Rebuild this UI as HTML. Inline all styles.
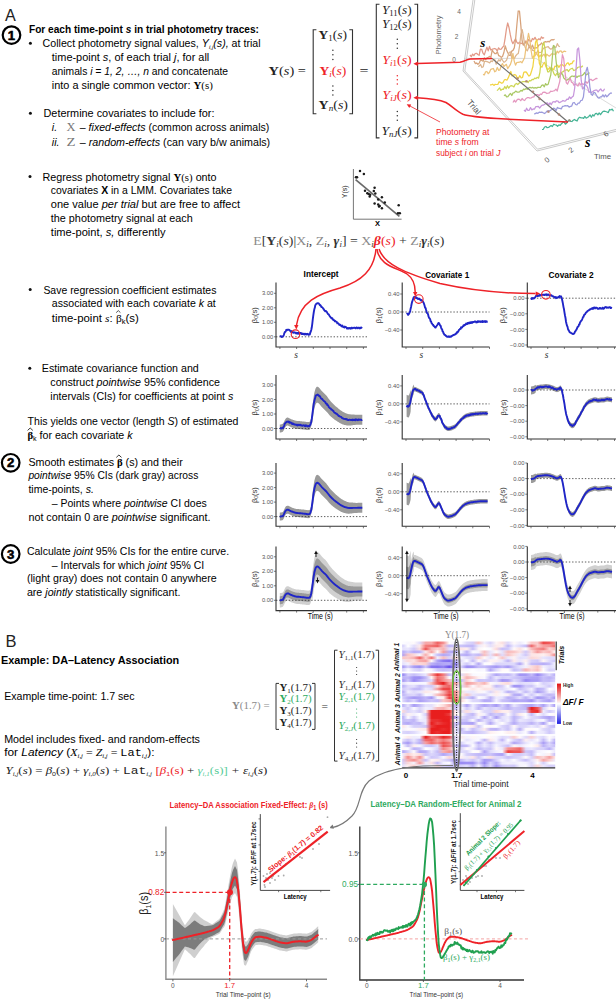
<!DOCTYPE html>
<html><head><meta charset="utf-8"><title>Figure</title>
<style>html,body{margin:0;padding:0;background:#fff;width:616px;height:999px;overflow:hidden}svg{display:block}</style>
</head><body>
<svg width="616" height="999" viewBox="0 0 616 999" font-family="Liberation Sans, sans-serif">
<rect width="616" height="999" fill="#fff"/>
<text x="5.0" y="20.6" font-size="16.2" fill="#222" >A</text>
<circle cx="11.5" cy="35.1" r="8.8" fill="none" stroke="#000" stroke-width="2.2"/>
<text x="11.5" y="39.7" font-size="13.2" font-weight="bold" fill="#000" text-anchor="middle" stroke="#000" stroke-width="0.55">1</text>
<text x="29.0" y="33.4" font-size="10" textLength="230.0" lengthAdjust="spacingAndGlyphs" font-weight="bold" >For each time-point <tspan font-style="italic">s</tspan> in trial photometry traces:</text>
<circle cx="30.4" cy="43.3" r="1.5" fill="#111"/>
<text x="42.6" y="47.2" font-size="10.6" textLength="218.0" lengthAdjust="spacingAndGlyphs" >Collect photometry signal values, <tspan font-style="italic">Y<tspan baseline-shift="-2" font-size="6">i,j</tspan>(s),</tspan> at trial</text>
<text x="51.8" y="61.2" font-size="10.6" textLength="157.5" lengthAdjust="spacingAndGlyphs" >time-point <tspan font-style="italic">s</tspan>, of each trial <tspan font-style="italic">j</tspan>, for all</text>
<text x="51.8" y="75.4" font-size="10.6" textLength="176.2" lengthAdjust="spacingAndGlyphs" >animals <tspan font-style="italic">i = 1, 2, …, n</tspan> and concatenate</text>
<text x="51.8" y="89.4" font-size="10.6" textLength="161.0" lengthAdjust="spacingAndGlyphs" >into a single common vector: <tspan font-family="Liberation Serif" font-weight="bold">Y</tspan><tspan font-family="Liberation Serif">(s)</tspan></text>
<circle cx="30.4" cy="113.3" r="1.5" fill="#111"/>
<text x="43.5" y="117.4" font-size="10.6" textLength="171.0" lengthAdjust="spacingAndGlyphs" >Determine covariates  to include for:</text>
<text x="51.8" y="131.4" font-size="10.6" ><tspan font-style="italic">i.</tspan></text>
<text x="66.6" y="131.4" font-size="11.5" textLength="9.0" lengthAdjust="spacingAndGlyphs" fill="#777" ><tspan font-family="Liberation Serif">X</tspan></text>
<text x="79.8" y="131.4" font-size="10.6" textLength="189.5" lengthAdjust="spacingAndGlyphs" >– <tspan font-style="italic">fixed-effects</tspan> (common across animals)</text>
<text x="51.8" y="145.6" font-size="10.6" ><tspan font-style="italic">ii.</tspan></text>
<text x="66.6" y="145.6" font-size="11.5" textLength="9.0" lengthAdjust="spacingAndGlyphs" fill="#777" ><tspan font-family="Liberation Serif">Z</tspan></text>
<text x="79.8" y="145.6" font-size="10.6" textLength="190.4" lengthAdjust="spacingAndGlyphs" >– <tspan font-style="italic">random-effects</tspan> (can vary b/w animals)</text>
<circle cx="30.0" cy="176.5" r="1.5" fill="#111"/>
<text x="42.4" y="180.5" font-size="10.6" textLength="174.2" lengthAdjust="spacingAndGlyphs" >Regress photometry signal <tspan font-family="Liberation Serif" font-weight="bold">Y</tspan><tspan font-family="Liberation Serif">(s)</tspan> onto</text>
<text x="50.8" y="194.2" font-size="10.6" textLength="181.2" lengthAdjust="spacingAndGlyphs" >covariates <tspan font-weight="bold">X</tspan> in a LMM. Covariates take</text>
<text x="50.8" y="208.2" font-size="10.6" textLength="189.2" lengthAdjust="spacingAndGlyphs" >one value <tspan font-style="italic">per trial</tspan>  but are free to affect</text>
<text x="50.8" y="222.3" font-size="10.6" textLength="142.0" lengthAdjust="spacingAndGlyphs" >the photometry signal at each</text>
<text x="50.8" y="236.0" font-size="10.6" textLength="114.7" lengthAdjust="spacingAndGlyphs" >time-point, <tspan font-style="italic">s,</tspan> differently</text>
<circle cx="30.2" cy="289.5" r="1.5" fill="#111"/>
<text x="43.4" y="293.6" font-size="10.6" textLength="173.0" lengthAdjust="spacingAndGlyphs" >Save regression coefficient estimates</text>
<text x="51.8" y="307.0" font-size="10.6" textLength="164.0" lengthAdjust="spacingAndGlyphs" >associated with each covariate <tspan font-style="italic">k</tspan> at</text>
<text x="51.8" y="321.5" font-size="10.6" textLength="87.0" lengthAdjust="spacingAndGlyphs" >time-point <tspan font-family="Liberation Serif" font-style="italic">s</tspan>: <tspan font-family="Liberation Serif">β</tspan><tspan baseline-shift="-2" font-size="7">k</tspan>(s)</text>
<path d="M116.2,312.6 L118.3,310.6 L120.4,312.6" fill="none" stroke="#222" stroke-width="0.8"/>
<circle cx="29.8" cy="368.3" r="1.5" fill="#111"/>
<text x="41.8" y="372.3" font-size="10.6" textLength="157.0" lengthAdjust="spacingAndGlyphs" >Estimate covariance function and</text>
<text x="50.3" y="386.1" font-size="10.6" textLength="169.7" lengthAdjust="spacingAndGlyphs" >construct <tspan font-style="italic">pointwise</tspan> 95% confidence</text>
<text x="50.3" y="399.9" font-size="10.6" textLength="183.0" lengthAdjust="spacingAndGlyphs" >intervals (CIs) for coefficients at point <tspan font-style="italic">s</tspan></text>
<text x="27.6" y="424.7" font-size="10.6" textLength="210.8" lengthAdjust="spacingAndGlyphs" >This yields one vector (length <tspan font-style="italic">S</tspan>) of estimated</text>
<text x="27.4" y="439.0" font-size="10.6" textLength="105.2" lengthAdjust="spacingAndGlyphs" ><tspan font-family="Liberation Serif" font-weight="bold">β</tspan><tspan baseline-shift="-2" font-size="7">k</tspan> for each covariate <tspan font-style="italic">k</tspan></text>
<path d="M27.6,430.4 L30.2,428.0 L32.8,430.4" fill="none" stroke="#222" stroke-width="0.9"/>
<circle cx="10.7" cy="462.8" r="8.8" fill="none" stroke="#000" stroke-width="2.2"/>
<text x="10.7" y="467.4" font-size="13.2" font-weight="bold" fill="#000" text-anchor="middle" stroke="#000" stroke-width="0.55">2</text>
<text x="28.4" y="465.8" font-size="10.6" textLength="154.3" lengthAdjust="spacingAndGlyphs" >Smooth estimates <tspan font-family="Liberation Serif" font-weight="bold">β</tspan> (s) and their</text>
<path d="M116.3,457.4 L118.9,455.0 L121.5,457.4" fill="none" stroke="#222" stroke-width="0.9"/>
<text x="28.4" y="479.0" font-size="10.6" textLength="169.9" lengthAdjust="spacingAndGlyphs" ><tspan font-style="italic">pointwise</tspan> 95% CIs (dark gray) across</text>
<text x="28.4" y="492.6" font-size="10.6" textLength="65.5" lengthAdjust="spacingAndGlyphs" >time-points, <tspan font-style="italic">s.</tspan></text>
<text x="51.8" y="506.8" font-size="10.6" textLength="154.9" lengthAdjust="spacingAndGlyphs" >– Points where <tspan font-style="italic">pointwise</tspan> CI does</text>
<text x="28.4" y="520.9" font-size="10.6" textLength="182.2" lengthAdjust="spacingAndGlyphs" >not contain 0 are <tspan font-style="italic">pointwise</tspan> significant.</text>
<circle cx="10.7" cy="554.0" r="8.8" fill="none" stroke="#000" stroke-width="2.2"/>
<text x="10.7" y="558.6" font-size="13.2" font-weight="bold" fill="#000" text-anchor="middle" stroke="#000" stroke-width="0.55">3</text>
<text x="26.9" y="555.0" font-size="10.6" textLength="202.2" lengthAdjust="spacingAndGlyphs" >Calculate <tspan font-style="italic">joint</tspan> 95% CIs for the entire curve.</text>
<text x="51.8" y="568.6" font-size="10.6" textLength="152.4" lengthAdjust="spacingAndGlyphs" >– Intervals for which <tspan font-style="italic">joint</tspan> 95% CI</text>
<text x="26.9" y="582.3" font-size="10.6" textLength="189.9" lengthAdjust="spacingAndGlyphs" >(light gray) does not contain 0 anywhere</text>
<text x="26.9" y="596.0" font-size="10.6" textLength="153.5" lengthAdjust="spacingAndGlyphs" >are <tspan font-style="italic">jointly</tspan> statistically significant.</text>
<text x="5.6" y="646.8" font-size="16.5" fill="#222" >B</text>
<text x="1.0" y="663.6" font-size="10.5" textLength="178.2" lengthAdjust="spacingAndGlyphs" font-weight="bold" >Example: DA–Latency Association</text>
<text x="4.2" y="699.8" font-size="10.6" textLength="130.3" lengthAdjust="spacingAndGlyphs" >Example time-point: 1.7 sec</text>
<text x="4.2" y="742.5" font-size="10.6" textLength="195.8" lengthAdjust="spacingAndGlyphs" >Model includes fixed- and random-effects</text>
<text x="4.2" y="756.1" font-size="10.6" textLength="150.3" lengthAdjust="spacingAndGlyphs" >for <tspan font-style="italic">Latency</tspan> (<tspan font-family="Liberation Serif" font-style="italic">X</tspan><tspan baseline-shift="-2" font-size="6"><tspan font-family="Liberation Serif" font-style="italic">i,j</tspan></tspan><tspan font-family="Liberation Serif"> = </tspan><tspan font-family="Liberation Serif" font-style="italic">Z</tspan><tspan baseline-shift="-2" font-size="6"><tspan font-family="Liberation Serif" font-style="italic">i,j</tspan></tspan><tspan font-family="Liberation Serif"> = </tspan><tspan font-family="Liberation Mono">Lat</tspan><tspan baseline-shift="-2" font-size="6"><tspan font-family="Liberation Serif" font-style="italic">i,j</tspan></tspan>):</text>
<text x="5.5" y="773.6" font-size="11" textLength="261.8" lengthAdjust="spacingAndGlyphs" fill="#222" ><tspan font-family="Liberation Serif" font-style="italic">Y</tspan><tspan baseline-shift="-2" font-size="6"><tspan font-family="Liberation Serif" font-style="italic">i,j</tspan></tspan><tspan font-family="Liberation Serif">(</tspan><tspan font-family="Liberation Serif" font-style="italic">s</tspan><tspan font-family="Liberation Serif">) = </tspan><tspan font-family="Liberation Serif" font-style="italic">β</tspan><tspan baseline-shift="-2" font-size="6">0</tspan><tspan font-family="Liberation Serif">(</tspan><tspan font-family="Liberation Serif" font-style="italic">s</tspan><tspan font-family="Liberation Serif">) + </tspan><tspan font-family="Liberation Serif" font-style="italic">γ</tspan><tspan baseline-shift="-2" font-size="6"><tspan font-family="Liberation Serif" font-style="italic">i,0</tspan></tspan><tspan font-family="Liberation Serif">(</tspan><tspan font-family="Liberation Serif" font-style="italic">s</tspan><tspan font-family="Liberation Serif">) + </tspan><tspan font-family="Liberation Mono">Lat</tspan><tspan baseline-shift="-2" font-size="6"><tspan font-family="Liberation Serif" font-style="italic">i,j</tspan></tspan> <tspan font-family="Liberation Serif" fill="#ee2228">[</tspan><tspan font-family="Liberation Serif" font-style="italic" fill="#ee2228">β</tspan><tspan fill="#ee2228"><tspan baseline-shift="-2" font-size="6">1</tspan></tspan><tspan font-family="Liberation Serif" fill="#ee2228">(s)</tspan><tspan font-family="Liberation Serif"> + </tspan><tspan font-family="Liberation Serif" font-style="italic" fill="#5c9">γ</tspan><tspan fill="#5c9"><tspan baseline-shift="-2" font-size="6"><tspan font-family="Liberation Serif" font-style="italic">i,1</tspan></tspan></tspan><tspan font-family="Liberation Serif" fill="#5c9">(s)</tspan><tspan font-family="Liberation Serif" fill="#5c9">]</tspan><tspan font-family="Liberation Serif" font-style="italic"> + ε</tspan><tspan baseline-shift="-2" font-size="6"><tspan font-family="Liberation Serif" font-style="italic">i,j</tspan></tspan><tspan font-family="Liberation Serif">(</tspan><tspan font-family="Liberation Serif" font-style="italic">s</tspan><tspan font-family="Liberation Serif">)</tspan></text>
<text x="268.6" y="75.4" font-size="11.5" textLength="37.4" lengthAdjust="spacingAndGlyphs" fill="#222" font-family="Liberation Serif" ><tspan font-weight="bold">Y</tspan>(<tspan font-style="italic">s</tspan>) =</text>
<path d="M316.4,29.8 H313.2 V113.8 H316.4" fill="none" stroke="#333" stroke-width="1.1"/>
<path d="M349.3,29.8 H352.5 V113.8 H349.3" fill="none" stroke="#333" stroke-width="1.1"/>
<text x="318.6" y="39.3" font-size="11.5" textLength="28.5" lengthAdjust="spacingAndGlyphs" fill="#222" font-family="Liberation Serif" ><tspan font-weight="bold">Y</tspan><tspan baseline-shift="-2" font-size="7.5">1</tspan>(<tspan font-style="italic">s</tspan>)</text>
<circle cx="332.9" cy="50.3" r="0.75" fill="#333"/>
<circle cx="332.9" cy="54.8" r="0.75" fill="#333"/>
<circle cx="332.9" cy="59.4" r="0.75" fill="#333"/>
<text x="319.5" y="75.4" font-size="11.5" textLength="26.8" lengthAdjust="spacingAndGlyphs" fill="#ee2228" font-family="Liberation Serif" ><tspan font-weight="bold">Y</tspan><tspan baseline-shift="-2" font-size="7.5"><tspan font-style="italic">i</tspan></tspan>(<tspan font-style="italic">s</tspan>)</text>
<circle cx="332.9" cy="86.0" r="0.75" fill="#333"/>
<circle cx="332.9" cy="90.5" r="0.75" fill="#333"/>
<circle cx="332.9" cy="95.1" r="0.75" fill="#333"/>
<text x="318.6" y="109.3" font-size="11.5" textLength="29.4" lengthAdjust="spacingAndGlyphs" fill="#222" font-family="Liberation Serif" ><tspan font-weight="bold">Y</tspan><tspan baseline-shift="-2" font-size="7.5"><tspan font-style="italic">n</tspan></tspan>(<tspan font-style="italic">s</tspan>)</text>
<text x="359.6" y="75.4" font-size="11.5" textLength="9.0" lengthAdjust="spacingAndGlyphs" fill="#222" font-family="Liberation Serif" >=</text>
<path d="M379.5,4.2 H376.3 V137.9 H379.5" fill="none" stroke="#333" stroke-width="1.1"/>
<path d="M414.40000000000003,4.2 H417.6 V137.9 H414.40000000000003" fill="none" stroke="#333" stroke-width="1.1"/>
<text x="381.9" y="14.0" font-size="11.5" textLength="29.8" lengthAdjust="spacingAndGlyphs" fill="#222" font-family="Liberation Serif" ><tspan font-style="italic">Y</tspan><tspan baseline-shift="-2" font-size="7.5">11</tspan>(<tspan font-style="italic">s</tspan>)</text>
<text x="381.9" y="28.0" font-size="11.5" textLength="29.8" lengthAdjust="spacingAndGlyphs" fill="#222" font-family="Liberation Serif" ><tspan font-style="italic">Y</tspan><tspan baseline-shift="-2" font-size="7.5">12</tspan>(<tspan font-style="italic">s</tspan>)</text>
<circle cx="397.3" cy="39.3" r="0.75" fill="#333"/>
<circle cx="397.3" cy="43.8" r="0.75" fill="#333"/>
<circle cx="397.3" cy="48.2" r="0.75" fill="#333"/>
<text x="382.3" y="64.4" font-size="11.5" textLength="29.4" lengthAdjust="spacingAndGlyphs" fill="#ee2228" font-family="Liberation Serif" ><tspan font-style="italic">Y</tspan><tspan baseline-shift="-2" font-size="7.5"><tspan font-style="italic">i</tspan>1</tspan>(<tspan font-style="italic">s</tspan>)</text>
<circle cx="397.3" cy="75.7" r="0.75" fill="#ee2228"/>
<circle cx="397.3" cy="79.8" r="0.75" fill="#ee2228"/>
<circle cx="397.3" cy="83.9" r="0.75" fill="#ee2228"/>
<text x="382.3" y="99.4" font-size="11.5" textLength="29.4" lengthAdjust="spacingAndGlyphs" fill="#ee2228" font-family="Liberation Serif" ><tspan font-style="italic">Y</tspan><tspan baseline-shift="-2" font-size="7.5"><tspan font-style="italic">iJ</tspan></tspan>(<tspan font-style="italic">s</tspan>)</text>
<circle cx="397.3" cy="111.4" r="0.75" fill="#333"/>
<circle cx="397.3" cy="115.8" r="0.75" fill="#333"/>
<circle cx="397.3" cy="120.3" r="0.75" fill="#333"/>
<text x="381.4" y="135.1" font-size="11.5" textLength="30.3" lengthAdjust="spacingAndGlyphs" fill="#222" font-family="Liberation Serif" ><tspan font-style="italic">Y</tspan><tspan baseline-shift="-2" font-size="7.5"><tspan font-style="italic">nJ</tspan></tspan>(<tspan font-style="italic">s</tspan>)</text>
<path d="M473,0 L463,71 L537.0,151 L617,131" fill="none" stroke="#bbb" stroke-width="0.8"/>
<path d="M474.8,0 L464.8,71 L537.54,149.2 L617,129.2" fill="none" stroke="#bbb" stroke-width="0.8"/>
<path d="M464,58.4 H536 L616,108" fill="none" stroke="#ccc" stroke-width="0.7"/>
<text x="441.2" y="54.4" font-size="7" textLength="39.0" lengthAdjust="spacingAndGlyphs" fill="#666" transform="rotate(-90 441.2 54.4)">Photometry</text>
<text x="459.0" y="14.0" font-size="6.5" fill="#666" text-anchor="middle" >4</text>
<text x="456.5" y="39.0" font-size="6.5" fill="#666" text-anchor="middle" >2</text>
<text x="454.1" y="62.2" font-size="6.5" fill="#666" text-anchor="middle" >0</text>
<text x="480.3" y="47.4" font-size="13" font-weight="bold" font-family="Liberation Serif" ><tspan font-style="italic">s</tspan></text>
<polyline points="470.0,54.9 471.3,56.7 472.6,54.1 473.9,55.6 475.2,53.5 476.5,53.3 477.8,54.5 479.1,55.3 480.4,49.2 481.7,49.3 483.0,53.2 484.3,54.9 485.6,50.9 486.9,47.1 488.2,50.9 489.5,46.4 490.8,50.1 492.1,49.2 493.4,48.9 494.7,48.5 496.0,49.1 497.3,51.1 498.6,47.8 499.9,49.3 501.2,49.2 502.5,47.3 503.8,46.1 505.1,38.3 506.4,29.1 507.7,23.0 509.0,27.5 510.3,34.7 511.6,40.8 512.9,43.7 514.2,41.2 515.5,38.7 516.8,42.2 518.1,43.7 519.4,42.2 520.7,43.6 522.0,43.1 523.3,44.4 524.6,43.4 525.9,40.9 527.2,43.8 528.5,39.4 529.8,40.5 531.1,41.7 532.4,38.5 533.7,39.7 535.0,37.3 536.3,39.9 537.6,40.0 538.9,38.7 540.2,39.8 541.5,36.8 542.8,38.3 544.1,37.4" fill="none" stroke="#e29a88" stroke-width="1.25" stroke-linejoin="round"/>
<polyline points="474.0,60.9 475.3,63.6 476.6,63.0 477.9,64.3 479.2,63.1 480.5,60.2 481.8,60.4 483.1,61.3 484.4,57.9 485.7,59.7 487.0,57.9 488.3,57.3 489.6,56.4 490.9,57.2 492.2,50.1 493.5,52.1 494.8,53.5 496.1,53.5 497.4,51.9 498.7,55.7 500.0,56.2 501.3,57.4 502.6,56.2 503.9,52.5 505.2,45.8 506.5,50.0 507.8,52.7 509.1,55.3 510.4,55.3 511.7,51.1 513.0,50.4 514.3,47.9 515.6,39.3 516.9,24.5 518.2,11.0 519.5,11.2 520.8,25.1 522.1,40.8 523.4,45.2 524.7,43.5 526.0,41.9 527.3,42.3 528.6,45.5 529.9,47.9 531.2,48.3 532.5,45.1 533.8,48.8 535.1,47.8 536.4,47.9 537.7,47.2 539.0,44.9 540.3,44.6 541.6,42.9 542.9,45.0 544.2,42.0 545.5,41.6 546.8,42.0 548.1,41.4 549.4,41.9 550.7,40.2 552.0,39.6 553.3,39.9 554.6,39.3" fill="none" stroke="#d7a27a" stroke-width="1.25" stroke-linejoin="round"/>
<polyline points="478.0,66.3 479.3,66.0 480.6,64.5 481.9,67.5 483.2,66.8 484.5,61.3 485.8,61.4 487.1,61.7 488.4,62.2 489.7,62.9 491.0,60.9 492.3,61.6 493.6,59.5 494.9,59.9 496.2,64.2 497.5,61.9 498.8,59.7 500.1,61.2 501.4,58.4 502.7,60.5 504.0,62.3 505.3,61.4 506.6,60.1 507.9,56.1 509.2,52.5 510.5,51.8 511.8,58.0 513.1,57.6 514.4,58.5 515.7,55.9 517.0,54.3 518.3,53.5 519.6,45.8 520.9,34.1 522.2,29.6 523.5,36.3 524.8,46.2 526.1,49.5 527.4,50.9 528.7,47.3 530.0,45.0 531.3,47.3 532.6,50.4 533.9,50.7 535.2,52.5 536.5,53.4 537.8,50.6 539.1,52.6 540.4,52.5 541.7,52.0 543.0,48.8 544.3,47.8 545.6,47.4 546.9,47.0 548.2,46.6 549.5,48.3 550.8,49.2 552.1,48.6 553.4,46.5 554.7,47.0 556.0,47.4 557.3,43.6 558.6,46.0 559.9,46.8" fill="none" stroke="#dcb58e" stroke-width="1.25" stroke-linejoin="round"/>
<polyline points="483.0,74.4 484.3,74.9 485.6,71.8 486.9,71.5 488.2,73.7 489.5,72.3 490.8,69.3 492.1,68.8 493.4,68.5 494.7,71.8 496.0,70.9 497.3,67.5 498.6,70.3 499.9,69.9 501.2,65.7 502.5,63.6 503.8,66.6 505.1,65.2 506.4,64.4 507.7,68.6 509.0,66.6 510.3,64.7 511.6,60.8 512.9,53.3 514.2,61.1 515.5,65.1 516.8,62.5 518.1,62.3 519.4,62.2 520.7,61.6 522.0,62.8 523.3,60.2 524.6,57.7 525.9,48.3 527.2,41.1 528.5,33.3 529.8,39.7 531.1,50.5 532.4,58.1 533.7,56.2 535.0,55.9 536.3,52.9 537.6,55.2 538.9,57.1 540.2,55.1 541.5,56.9 542.8,55.3 544.1,54.1 545.4,57.6 546.7,54.2 548.0,55.3 549.3,56.2 550.6,55.0 551.9,53.6 553.2,54.1 554.5,54.0 555.8,54.7 557.1,51.1 558.4,52.9 559.7,51.1 561.0,50.9 562.3,52.9 563.6,51.3 564.9,51.2 566.2,51.8" fill="none" stroke="#ecc27a" stroke-width="1.25" stroke-linejoin="round"/>
<polyline points="490.0,84.8 491.3,84.8 492.6,84.2 493.9,85.4 495.2,84.3 496.5,84.5 497.8,84.4 499.1,81.7 500.4,82.4 501.7,83.3 503.0,82.6 504.3,79.9 505.6,79.5 506.9,80.2 508.2,77.9 509.5,74.8 510.8,71.5 512.1,76.0 513.4,75.1 514.7,74.6 516.0,75.2 517.3,78.2 518.6,77.8 519.9,75.7 521.2,77.9 522.5,77.5 523.8,72.3 525.1,71.8 526.4,72.1 527.7,74.4 529.0,76.1 530.3,75.0 531.6,71.0 532.9,66.5 534.2,55.4 535.5,42.4 536.8,39.9 538.1,50.5 539.4,63.6 540.7,66.4 542.0,67.1 543.3,63.6 544.6,62.4 545.9,66.5 547.2,69.3 548.5,69.2 549.8,67.4 551.1,70.2 552.4,69.1 553.7,69.4 555.0,66.1 556.3,66.3 557.6,65.2 558.9,67.3 560.2,65.3 561.5,64.4 562.8,65.1 564.1,66.4 565.4,65.7 566.7,63.5 568.0,62.7 569.3,65.0 570.6,63.5 571.9,63.6 573.2,61.1 574.5,60.7" fill="none" stroke="#f2d442" stroke-width="1.25" stroke-linejoin="round"/>
<polyline points="497.0,90.6 498.3,89.4 499.6,87.8 500.9,90.4 502.2,89.1 503.5,89.3 504.8,86.5 506.1,88.8 507.4,85.7 508.7,88.1 510.0,86.3 511.3,85.6 512.6,86.0 513.9,86.9 515.2,84.3 516.5,83.5 517.8,84.5 519.1,83.1 520.4,82.4 521.7,82.2 523.0,81.5 524.3,81.6 525.6,81.6 526.9,81.3 528.2,82.5 529.5,80.5 530.8,80.9 532.1,79.4 533.4,79.7 534.7,78.2 536.0,78.6 537.3,77.3 538.6,78.2 539.9,72.3 541.2,59.1 542.5,45.4 543.8,42.3 545.1,49.7 546.4,66.0 547.7,71.9 549.0,71.8 550.3,69.3 551.6,67.3 552.9,71.1 554.2,74.2 555.5,75.7 556.8,73.3 558.1,74.6 559.4,73.9 560.7,73.3 562.0,72.1 563.3,71.6 564.6,70.2 565.9,70.1 567.2,69.6 568.5,71.5 569.8,69.5 571.1,68.8 572.4,68.2 573.7,70.5 575.0,70.2 576.3,69.2 577.6,67.5 578.9,67.0 580.2,66.8 581.5,67.0 582.8,65.7" fill="none" stroke="#cdd653" stroke-width="1.25" stroke-linejoin="round"/>
<polyline points="504.0,95.8 505.3,94.8 506.6,96.9 507.9,96.6 509.2,94.8 510.5,93.4 511.8,95.5 513.1,92.9 514.4,92.7 515.7,91.1 517.0,92.1 518.3,92.1 519.6,91.8 520.9,90.4 522.2,91.1 523.5,89.1 524.8,89.6 526.1,88.6 527.4,89.3 528.7,87.8 530.0,87.4 531.3,88.0 532.6,87.4 533.9,88.2 535.2,87.7 536.5,88.1 537.8,87.4 539.1,87.3 540.4,87.5 541.7,85.4 543.0,84.9 544.3,86.8 545.6,83.6 546.9,85.1 548.2,84.2 549.5,79.7 550.8,74.8 552.1,60.3 553.4,45.5 554.7,46.2 556.0,60.2 557.3,71.3 558.6,77.6 559.9,75.5 561.2,73.1 562.5,74.2 563.8,78.1 565.1,79.2 566.4,80.4 567.7,79.4 569.0,79.1 570.3,77.2 571.6,76.2 572.9,76.1 574.2,76.6 575.5,75.4 576.8,77.5 578.1,76.2 579.4,76.1 580.7,75.7 582.0,75.6 583.3,74.6 584.6,72.5 585.9,74.9 587.2,74.4 588.5,73.2 589.8,73.0" fill="none" stroke="#a9c865" stroke-width="1.25" stroke-linejoin="round"/>
<polyline points="513.0,102.5 514.3,100.2 515.6,102.1 516.9,100.1 518.2,99.1 519.5,99.4 520.8,100.7 522.1,98.5 523.4,100.0 524.7,100.5 526.0,98.5 527.3,97.7 528.6,97.7 529.9,98.1 531.2,98.0 532.5,97.1 533.8,96.9 535.1,94.6 536.4,94.5 537.7,94.5 539.0,95.8 540.3,94.0 541.6,94.5 542.9,92.3 544.2,92.1 545.5,92.4 546.8,93.5 548.1,93.2 549.4,92.8 550.7,91.1 552.0,91.5 553.3,91.0 554.6,90.7 555.9,89.1 557.2,91.0 558.5,86.1 559.8,81.3 561.1,68.2 562.4,54.6 563.7,58.5 565.0,72.0 566.3,82.8 567.6,84.1 568.9,81.1 570.2,78.3 571.5,82.3 572.8,82.9 574.1,85.4 575.4,83.9 576.7,84.9 578.0,86.0 579.3,82.8 580.6,84.8 581.9,83.4 583.2,84.4 584.5,83.4 585.8,81.4 587.1,83.3 588.4,81.6 589.7,79.7 591.0,79.3 592.3,80.6 593.6,80.1 594.9,79.2 596.2,78.3 597.5,78.7" fill="none" stroke="#e497bf" stroke-width="1.25" stroke-linejoin="round"/>
<polyline points="524.0,110.0 525.3,111.4 526.6,108.2 527.9,110.4 529.2,110.3 530.5,107.6 531.8,109.9 533.1,108.9 534.4,109.2 535.7,106.7 537.0,106.7 538.3,106.4 539.6,108.1 540.9,106.3 542.2,105.2 543.5,105.1 544.8,104.2 546.1,103.1 547.4,102.9 548.7,105.1 550.0,102.9 551.3,104.7 552.6,102.0 553.9,101.7 555.2,102.2 556.5,100.8 557.8,101.0 559.1,102.7 560.4,102.1 561.7,101.5 563.0,100.5 564.3,101.1 565.6,100.9 566.9,99.2 568.2,99.4 569.5,96.8 570.8,98.7 572.1,97.1 573.4,96.0 574.7,88.0 576.0,69.9 577.3,49.5 578.6,47.9 579.9,60.3 581.2,80.2 582.5,88.9 583.8,87.8 585.1,84.5 586.4,85.3 587.7,87.7 589.0,92.4 590.3,91.9 591.6,92.5 592.9,91.6 594.2,90.5 595.5,90.1 596.8,90.0 598.1,92.0 599.4,90.2 600.7,88.9 602.0,90.9 603.3,90.9 604.6,88.7" fill="none" stroke="#c796dc" stroke-width="1.25" stroke-linejoin="round"/>
<polyline points="534.0,113.8 535.3,113.6 536.6,112.9 537.9,113.4 539.2,112.2 540.5,112.4 541.8,112.1 543.1,112.8 544.4,113.5 545.7,112.7 547.0,111.2 548.3,110.8 549.6,110.9 550.9,110.0 552.2,109.5 553.5,108.2 554.8,108.6 556.1,110.6 557.4,107.4 558.7,108.3 560.0,108.4 561.3,108.9 562.6,106.3 563.9,106.1 565.2,105.7 566.5,105.9 567.8,105.7 569.1,107.1 570.4,106.4 571.7,106.1 573.0,102.8 574.3,102.5 575.6,104.5 576.9,104.8 578.2,103.0 579.5,103.0 580.8,100.5 582.1,100.3 583.4,97.1 584.7,85.3 586.0,71.3 587.3,67.3 588.6,74.5 589.9,87.3 591.2,94.4 592.5,95.3 593.8,92.4 595.1,92.8 596.4,95.2 597.7,97.4 599.0,98.2 600.3,96.9 601.6,96.9 602.9,94.8 604.2,97.0 605.5,94.8 606.8,96.8 608.1,95.5 609.4,94.0 610.7,93.0 612.0,93.1" fill="none" stroke="#9b9adc" stroke-width="1.25" stroke-linejoin="round"/>
<polyline points="542.0,129.5 543.3,129.3 544.6,127.0 545.9,126.5 547.2,127.7 548.5,127.5 549.8,126.5 551.1,125.6 552.4,126.5 553.7,124.2 555.0,124.8 556.3,125.0 557.6,126.3 558.9,124.9 560.2,125.4 561.5,123.7 562.8,122.5 564.1,122.2 565.4,124.2 566.7,123.0 568.0,121.3 569.3,120.0 570.6,121.3 571.9,121.5 573.2,120.3 574.5,119.4 575.8,120.4 577.1,121.0 578.4,118.2 579.7,117.2 581.0,117.9 582.3,117.8 583.6,118.4 584.9,116.4 586.2,118.1 587.5,117.5 588.8,116.4 590.1,115.0 591.4,117.3 592.7,114.7 594.0,116.0 595.3,113.7 596.6,113.3 597.9,114.8 599.2,112.9 600.5,114.7 601.8,112.8 603.1,111.4 604.4,111.2 605.7,111.5 607.0,112.0 608.3,112.6 609.6,109.5 610.9,110.0 612.2,109.1 613.5,111.3" fill="none" stroke="#45b496" stroke-width="1.25" stroke-linejoin="round"/>
<line x1="492" y1="58.4" x2="568" y2="122" stroke="#707070" stroke-width="1.2"/>
<circle cx="517.5" cy="78.6" r="1.3" fill="#b08070" opacity="0.85"/>
<circle cx="526.4" cy="81.2" r="1.3" fill="#b08070" opacity="0.85"/>
<circle cx="533" cy="91.8" r="1.3" fill="#b08070" opacity="0.85"/>
<circle cx="539.6" cy="98.9" r="1.3" fill="#b08070" opacity="0.85"/>
<circle cx="548.4" cy="111.7" r="1.3" fill="#b08070" opacity="0.85"/>
<circle cx="559" cy="114.5" r="1.3" fill="#b08070" opacity="0.85"/>
<circle cx="569.4" cy="120.5" r="1.3" fill="#b08070" opacity="0.85"/>
<text x="474" y="107" font-size="8.6" fill="#555" text-anchor="middle" dy="3" transform="rotate(50 474 107)">Trial</text>
<text x="585.0" y="146.5" font-size="14" font-weight="bold" font-family="Liberation Serif" ><tspan font-style="italic">s</tspan></text>
<text x="594.0" y="159.3" font-size="7" textLength="17.0" lengthAdjust="spacingAndGlyphs" fill="#555" >Time</text>
<text x="547.0" y="162.5" font-size="7.5" fill="#555" text-anchor="middle" transform="rotate(-40 547 160)">0</text>
<text x="571.0" y="152.5" font-size="7.5" fill="#555" text-anchor="middle" transform="rotate(-40 571 150)">2</text>
<text x="606.0" y="136.5" font-size="7.5" fill="#555" text-anchor="middle" transform="rotate(-40 606 134)">6</text>
<path d="M492,58.4 L470,59 C466,59.6 465,61.5 460,62.2 L417,63.6" fill="none" stroke="#ee2228" stroke-width="1.5"/>
<path d="M413.4,63.7 L417.9,61.5 L417.9,65.9 Z" fill="#ee2228"/>
<path d="M568,122 L497,118.6 C480,117.5 468,116 462.9,114.3 C456,111 452,106 446,102.5 C440,100 430,98.5 417,97.8" fill="none" stroke="#ee2228" stroke-width="1.5"/>
<path d="M413.4,97.7 L417.9,95.5 L417.9,99.9 Z" fill="#ee2228"/>
<path d="M440,122 L409,105.5" fill="none" stroke="#ee2228" stroke-width="0.8"/>
<path d="M406.7,104.3 L411.2,104.4 L409.3,107.9 Z" fill="#ee2228"/>
<text x="436.1" y="134.5" font-size="8.6" textLength="53.2" lengthAdjust="spacingAndGlyphs" fill="#ee2228" >Photometry at</text>
<text x="436.1" y="145.3" font-size="8.6" textLength="42.5" lengthAdjust="spacingAndGlyphs" fill="#ee2228" >time <tspan font-style="italic">s</tspan> from</text>
<text x="436.1" y="156.0" font-size="8.6" textLength="64.2" lengthAdjust="spacingAndGlyphs" fill="#ee2228" >subject <tspan font-style="italic">i</tspan> on trial <tspan font-style="italic">J</tspan></text>
<path d="M353.4,169 V219.2 H401.6" fill="none" stroke="#666" stroke-width="0.9"/>
<line x1="355.6" y1="179.7" x2="399.4" y2="216.3" stroke="#6a6a6a" stroke-width="1.7"/>
<circle cx="360" cy="171" r="1.25" fill="#1a1a1a"/>
<circle cx="363.9" cy="173.9" r="1.25" fill="#1a1a1a"/>
<circle cx="356" cy="177.2" r="1.25" fill="#1a1a1a"/>
<circle cx="357" cy="177.2" r="1.25" fill="#1a1a1a"/>
<circle cx="374.6" cy="187.8" r="1.25" fill="#1a1a1a"/>
<circle cx="365" cy="190.7" r="1.25" fill="#1a1a1a"/>
<circle cx="373.8" cy="191" r="1.25" fill="#1a1a1a"/>
<circle cx="367.3" cy="193.3" r="1.25" fill="#1a1a1a"/>
<circle cx="368.7" cy="194" r="1.25" fill="#1a1a1a"/>
<circle cx="370.2" cy="194.8" r="1.25" fill="#1a1a1a"/>
<circle cx="375.3" cy="193.6" r="1.25" fill="#1a1a1a"/>
<circle cx="369.7" cy="196.5" r="1.25" fill="#1a1a1a"/>
<circle cx="378.2" cy="199.5" r="1.25" fill="#1a1a1a"/>
<circle cx="381.9" cy="197.3" r="1.25" fill="#1a1a1a"/>
<circle cx="384.8" cy="202.4" r="1.25" fill="#1a1a1a"/>
<circle cx="374.6" cy="203.5" r="1.25" fill="#1a1a1a"/>
<circle cx="378.2" cy="204.6" r="1.25" fill="#1a1a1a"/>
<circle cx="379.7" cy="206" r="1.25" fill="#1a1a1a"/>
<circle cx="381.9" cy="208.2" r="1.25" fill="#1a1a1a"/>
<circle cx="379" cy="206.5" r="1.25" fill="#1a1a1a"/>
<circle cx="398.7" cy="205.3" r="1.25" fill="#1a1a1a"/>
<circle cx="398" cy="213.3" r="1.25" fill="#1a1a1a"/>
<circle cx="399.8" cy="213.3" r="1.25" fill="#1a1a1a"/>
<text x="350.0" y="194.3" font-size="7" fill="#222" text-anchor="middle" transform="rotate(-90 347.5 194.3)">Y(s)</text>
<text x="377.5" y="226.2" font-size="7.5" font-weight="bold" text-anchor="middle" >X</text>
<text x="253.2" y="244.6" font-size="11.5" textLength="191.1" lengthAdjust="spacingAndGlyphs" fill="#333" font-family="Liberation Serif" ><tspan fill="#8a8a8a">E</tspan>[<tspan font-weight="bold">Y</tspan><tspan baseline-shift="-2" font-size="7.5"><tspan font-style="italic">i</tspan></tspan>(<tspan font-style="italic">s</tspan>)|<tspan fill="#8a8a8a">X</tspan><tspan baseline-shift="-2" font-size="7.5"><tspan font-style="italic">i</tspan></tspan>, <tspan fill="#8a8a8a">Z</tspan><tspan baseline-shift="-2" font-size="7.5"><tspan font-style="italic">i</tspan></tspan>, <tspan font-weight="bold"><tspan font-style="italic">γ</tspan></tspan><tspan baseline-shift="-2" font-size="7.5"><tspan font-style="italic">i</tspan></tspan>] = <tspan fill="#8a8a8a">X</tspan><tspan baseline-shift="-2" font-size="7.5"><tspan font-style="italic">i</tspan></tspan><tspan fill="#ee2228" font-weight="bold" font-style="italic">β</tspan><tspan fill="#ee2228">(<tspan font-style="italic">s</tspan>)</tspan> + <tspan fill="#8a8a8a">Z</tspan><tspan baseline-shift="-2" font-size="7.5"><tspan font-style="italic">i</tspan></tspan><tspan font-weight="bold"><tspan font-style="italic">γ</tspan></tspan><tspan baseline-shift="-2" font-size="7.5"><tspan font-style="italic">i</tspan></tspan>(<tspan font-style="italic">s</tspan>)</text>
<path d="M276.0,282.5 V347.0 H367" fill="none" stroke="#333" stroke-width="1.1"/>
<line x1="279.9" y1="347.0" x2="279.9" y2="349.0" stroke="#444" stroke-width="0.7"/>
<line x1="296.6" y1="347.0" x2="296.6" y2="349.0" stroke="#444" stroke-width="0.7"/>
<line x1="313.3" y1="347.0" x2="313.3" y2="349.0" stroke="#444" stroke-width="0.7"/>
<line x1="330.0" y1="347.0" x2="330.0" y2="349.0" stroke="#444" stroke-width="0.7"/>
<line x1="346.7" y1="347.0" x2="346.7" y2="349.0" stroke="#444" stroke-width="0.7"/>
<line x1="363.4" y1="347.0" x2="363.4" y2="349.0" stroke="#444" stroke-width="0.7"/>
<line x1="274.0" y1="293.3" x2="276.0" y2="293.3" stroke="#444" stroke-width="0.7"/>
<text x="273.2" y="295.4" font-size="5.8" fill="#555" text-anchor="end" >3.00</text>
<line x1="274.0" y1="307.8" x2="276.0" y2="307.8" stroke="#444" stroke-width="0.7"/>
<text x="273.2" y="309.9" font-size="5.8" fill="#555" text-anchor="end" >2.00</text>
<line x1="274.0" y1="322.3" x2="276.0" y2="322.3" stroke="#444" stroke-width="0.7"/>
<text x="273.2" y="324.4" font-size="5.8" fill="#555" text-anchor="end" >1.00</text>
<line x1="274.0" y1="336.8" x2="276.0" y2="336.8" stroke="#444" stroke-width="0.7"/>
<text x="273.2" y="338.9" font-size="5.8" fill="#555" text-anchor="end" >0.00</text>
<line x1="276.0" y1="336.8" x2="367" y2="336.8" stroke="#333" stroke-width="0.8" stroke-dasharray="1.4,1.8"/>
<text x="254.5" y="315.2" font-size="7.5" fill="#333" text-anchor="middle" transform="rotate(-90 254.5 315.2)" dy="2.5">β<tspan font-size="5" dy="1.5">0</tspan><tspan dy="-1.5">(s)</tspan></text>
<polyline points="279.8,336.3 280.3,336.2 280.8,336.1 281.3,336.5 281.8,337.0 282.3,336.9 282.8,336.3 283.3,336.0 283.8,335.1 284.3,333.3 284.8,332.0 285.3,332.0 285.8,331.1 286.3,329.8 286.8,330.3 287.3,329.8 287.8,329.8 288.3,329.8 288.8,329.8 289.3,329.9 289.8,330.5 290.3,330.9 290.8,331.8 291.3,331.0 291.8,332.3 292.3,331.5 292.8,331.9 293.3,332.6 293.8,332.8 294.3,332.5 294.8,332.2 295.3,332.9 295.8,332.9 296.3,333.6 296.8,332.8 297.3,333.0 297.8,333.7 298.3,332.7 298.8,333.2 299.3,333.8 299.8,333.8 300.3,332.9 300.8,333.0 301.3,333.1 301.8,334.1 302.3,333.4 302.8,334.0 303.3,334.3 303.8,333.6 304.3,333.6 304.8,334.5 305.3,334.2 305.8,333.8 306.3,334.4 306.8,334.0 307.3,334.0 307.8,333.8 308.3,334.7 308.8,334.8 309.3,334.4 309.8,334.5 310.3,332.5 310.8,331.5 311.3,329.7 311.8,327.3 312.3,323.6 312.8,319.2 313.3,315.3 313.8,312.0 314.3,309.3 314.8,307.8 315.3,305.1 315.8,304.6 316.3,303.8 316.8,303.5 317.3,303.3 317.8,303.3 318.3,303.2 318.8,303.6 319.3,304.1 319.8,305.2 320.3,305.0 320.8,305.7 321.3,307.0 321.8,307.0 322.3,307.3 322.8,307.8 323.3,308.9 323.8,309.1 324.3,310.3 324.8,310.7 325.3,311.3 325.8,310.9 326.3,311.3 326.8,311.8 327.3,312.9 327.8,313.8 328.3,314.2 328.8,314.6 329.3,315.4 329.8,316.3 330.3,316.9 330.8,317.5 331.3,318.1 331.8,318.4 332.3,318.2 332.8,319.6 333.3,319.4 333.8,320.1 334.3,320.3 334.8,321.2 335.3,320.9 335.8,321.4 336.3,321.8 336.8,322.0 337.3,323.3 337.8,323.3 338.3,323.3 338.8,323.8 339.3,324.9 339.8,324.7 340.3,324.7 340.8,325.7 341.3,325.8 341.8,326.4 342.3,325.6 342.8,326.3 343.3,327.0 343.8,327.2 344.3,327.5 344.8,326.6 345.3,327.1 345.8,327.0 346.3,327.3 346.8,328.4 347.3,328.0 347.8,328.6 348.3,328.0 348.8,328.6 349.3,328.2 349.8,327.9 350.3,328.5 350.8,328.7 351.3,327.7 351.8,328.3 352.3,328.3 352.8,327.8 353.3,328.0 353.8,327.7 354.3,327.8 354.8,327.8 355.3,328.2 355.8,328.3 356.3,327.7 356.8,327.5 357.3,327.8 357.8,328.3 358.3,327.7 358.8,327.8 359.3,327.7 359.8,328.4 360.3,328.1 360.8,327.5 361.3,327.5 361.8,327.8 362.3,328.0" fill="none" stroke="#1f25c8" stroke-width="1.9" stroke-linejoin="round"/>
<path d="M402.2,282.5 V347.0 H489.5" fill="none" stroke="#333" stroke-width="1.1"/>
<line x1="406.0" y1="347.0" x2="406.0" y2="349.0" stroke="#444" stroke-width="0.7"/>
<line x1="422.7" y1="347.0" x2="422.7" y2="349.0" stroke="#444" stroke-width="0.7"/>
<line x1="439.4" y1="347.0" x2="439.4" y2="349.0" stroke="#444" stroke-width="0.7"/>
<line x1="456.1" y1="347.0" x2="456.1" y2="349.0" stroke="#444" stroke-width="0.7"/>
<line x1="472.8" y1="347.0" x2="472.8" y2="349.0" stroke="#444" stroke-width="0.7"/>
<line x1="489.5" y1="347.0" x2="489.5" y2="349.0" stroke="#444" stroke-width="0.7"/>
<line x1="400.2" y1="294.0" x2="402.2" y2="294.0" stroke="#444" stroke-width="0.7"/>
<text x="399.4" y="296.1" font-size="5.8" fill="#555" text-anchor="end" >0.40</text>
<line x1="400.2" y1="312.0" x2="402.2" y2="312.0" stroke="#444" stroke-width="0.7"/>
<text x="399.4" y="314.1" font-size="5.8" fill="#555" text-anchor="end" >0.00</text>
<line x1="400.2" y1="330.0" x2="402.2" y2="330.0" stroke="#444" stroke-width="0.7"/>
<text x="399.4" y="332.1" font-size="5.8" fill="#555" text-anchor="end" >−0.40</text>
<line x1="402.2" y1="312.0" x2="489.5" y2="312.0" stroke="#333" stroke-width="0.8" stroke-dasharray="1.4,1.8"/>
<text x="378.3" y="315.2" font-size="7.5" fill="#333" text-anchor="middle" transform="rotate(-90 378.3 315.2)" dy="2.5">β<tspan font-size="5" dy="1.5">1</tspan><tspan dy="-1.5">(s)</tspan></text>
<polyline points="406.6,314.0 407.1,313.6 407.6,313.9 408.1,314.9 408.6,314.4 409.1,313.6 409.6,312.5 410.1,311.6 410.6,308.7 411.1,306.7 411.6,304.0 412.1,301.8 412.6,300.5 413.1,299.2 413.6,297.5 414.1,297.0 414.6,297.5 415.1,296.9 415.6,296.8 416.1,298.1 416.6,297.8 417.1,298.5 417.6,298.2 418.1,299.1 418.6,298.8 419.1,298.7 419.6,298.8 420.1,299.7 420.6,300.0 421.1,300.6 421.6,299.9 422.1,300.8 422.6,301.1 423.1,302.1 423.6,302.7 424.1,304.1 424.6,305.8 425.1,307.7 425.6,308.1 426.1,310.0 426.6,311.7 427.1,313.2 427.6,313.4 428.1,314.5 428.6,316.7 429.1,317.8 429.6,318.4 430.1,319.0 430.6,321.2 431.1,321.6 431.6,323.2 432.1,323.7 432.6,324.7 433.1,324.6 433.6,326.0 434.1,326.0 434.6,326.8 435.1,327.6 435.6,327.6 436.1,326.6 436.6,326.0 437.1,325.3 437.6,324.5 438.1,323.6 438.6,322.9 439.1,323.2 439.6,324.3 440.1,325.5 440.6,325.7 441.1,327.6 441.6,329.0 442.1,329.3 442.6,331.5 443.1,331.8 443.6,333.4 444.1,334.1 444.6,334.9 445.1,335.0 445.6,335.5 446.1,336.0 446.6,336.2 447.1,336.8 447.6,336.7 448.1,336.8 448.6,336.3 449.1,337.0 449.6,336.7 450.1,336.3 450.6,336.8 451.1,336.7 451.6,336.1 452.1,335.6 452.6,335.7 453.1,335.1 453.6,334.9 454.1,335.0 454.6,334.4 455.1,334.5 455.6,334.2 456.1,333.2 456.6,333.4 457.1,332.1 457.6,332.3 458.1,331.7 458.6,330.8 459.1,329.6 459.6,329.6 460.1,328.8 460.6,328.9 461.1,327.3 461.6,327.7 462.1,327.4 462.6,326.6 463.1,326.3 463.6,325.2 464.1,325.7 464.6,324.8 465.1,325.0 465.6,324.7 466.1,323.6 466.6,324.1 467.1,324.1 467.6,322.9 468.1,323.1 468.6,323.4 469.1,322.6 469.6,323.3 470.1,322.5 470.6,323.0 471.1,322.1 471.6,322.5 472.1,322.9 472.6,322.0 473.1,322.0 473.6,322.2 474.1,321.9 474.6,321.5 475.1,321.6 475.6,321.5 476.1,322.4 476.6,322.0 477.1,322.2 477.6,321.3 478.1,322.0 478.6,321.2 479.1,321.6 479.6,321.7 480.1,321.3 480.6,321.9 481.1,321.5 481.6,321.5 482.1,321.9 482.6,321.0 483.1,322.0 483.6,321.6 484.1,321.3 484.6,321.8 485.1,321.1 485.6,322.0 486.1,321.5 486.6,321.3 487.1,321.7 487.6,321.4" fill="none" stroke="#1f25c8" stroke-width="1.9" stroke-linejoin="round"/>
<path d="M527.3,282.5 V347.0 H616" fill="none" stroke="#333" stroke-width="1.1"/>
<line x1="531.0" y1="347.0" x2="531.0" y2="349.0" stroke="#444" stroke-width="0.7"/>
<line x1="547.7" y1="347.0" x2="547.7" y2="349.0" stroke="#444" stroke-width="0.7"/>
<line x1="564.4" y1="347.0" x2="564.4" y2="349.0" stroke="#444" stroke-width="0.7"/>
<line x1="581.1" y1="347.0" x2="581.1" y2="349.0" stroke="#444" stroke-width="0.7"/>
<line x1="597.8" y1="347.0" x2="597.8" y2="349.0" stroke="#444" stroke-width="0.7"/>
<line x1="614.5" y1="347.0" x2="614.5" y2="349.0" stroke="#444" stroke-width="0.7"/>
<line x1="525.3" y1="298.2" x2="527.3" y2="298.2" stroke="#444" stroke-width="0.7"/>
<text x="524.5" y="300.3" font-size="5.8" fill="#555" text-anchor="end" >0.00</text>
<line x1="525.3" y1="313.8" x2="527.3" y2="313.8" stroke="#444" stroke-width="0.7"/>
<text x="524.5" y="315.9" font-size="5.8" fill="#555" text-anchor="end" >−0.00</text>
<line x1="525.3" y1="329.4" x2="527.3" y2="329.4" stroke="#444" stroke-width="0.7"/>
<text x="524.5" y="331.5" font-size="5.8" fill="#555" text-anchor="end" >−0.00</text>
<line x1="525.3" y1="345.0" x2="527.3" y2="345.0" stroke="#444" stroke-width="0.7"/>
<text x="524.5" y="347.1" font-size="5.8" fill="#555" text-anchor="end" >−0.00</text>
<line x1="527.3" y1="298.2" x2="616" y2="298.2" stroke="#333" stroke-width="0.8" stroke-dasharray="1.4,1.8"/>
<text x="503.0" y="315.2" font-size="7.5" fill="#333" text-anchor="middle" transform="rotate(-90 503.0 315.2)" dy="2.5">β<tspan font-size="5" dy="1.5">2</tspan><tspan dy="-1.5">(s)</tspan></text>
<polyline points="531.0,298.2 531.5,298.9 532.0,298.0 532.5,298.8 533.0,298.1 533.5,298.4 534.0,298.6 534.5,297.8 535.0,297.6 535.5,296.7 536.0,295.9 536.5,295.6 537.0,295.5 537.5,295.9 538.0,295.5 538.5,295.6 539.0,296.0 539.5,295.0 540.0,295.1 540.5,295.5 541.0,294.7 541.5,294.7 542.0,295.0 542.5,294.7 543.0,294.9 543.5,294.7 544.0,295.1 544.5,295.0 545.0,294.5 545.5,294.9 546.0,294.7 546.5,294.3 547.0,295.3 547.5,294.6 548.0,294.5 548.5,294.5 549.0,295.2 549.5,295.6 550.0,295.6 550.5,295.3 551.0,295.3 551.5,295.2 552.0,296.1 552.5,296.2 553.0,296.1 553.5,296.7 554.0,296.7 554.5,297.5 555.0,297.5 555.5,297.1 556.0,298.2 556.5,297.3 557.0,297.9 557.5,297.7 558.0,297.4 558.5,296.9 559.0,297.4 559.5,296.1 560.0,296.3 560.5,296.7 561.0,296.3 561.5,297.3 562.0,299.3 562.5,301.5 563.0,304.1 563.5,307.1 564.0,309.3 564.5,312.6 565.0,315.5 565.5,318.0 566.0,321.7 566.5,323.8 567.0,325.7 567.5,326.6 568.0,329.1 568.5,330.1 569.0,330.8 569.5,332.0 570.0,332.4 570.5,332.6 571.0,332.9 571.5,333.4 572.0,333.4 572.5,333.8 573.0,334.1 573.5,333.8 574.0,333.6 574.5,332.9 575.0,331.6 575.5,331.2 576.0,330.1 576.5,329.6 577.0,328.3 577.5,327.1 578.0,326.7 578.5,326.3 579.0,324.5 579.5,324.5 580.0,322.5 580.5,321.9 581.0,320.9 581.5,320.5 582.0,319.7 582.5,318.5 583.0,317.1 583.5,316.9 584.0,315.3 584.5,314.4 585.0,314.4 585.5,313.3 586.0,312.7 586.5,312.1 587.0,311.9 587.5,310.9 588.0,310.9 588.5,310.4 589.0,310.3 589.5,309.5 590.0,309.6 590.5,309.3 591.0,308.8 591.5,308.5 592.0,308.8 592.5,308.0 593.0,308.9 593.5,307.8 594.0,307.5 594.5,307.5 595.0,308.4 595.5,307.7 596.0,307.6 596.5,307.6 597.0,307.8 597.5,308.7 598.0,308.7 598.5,308.8 599.0,308.8 599.5,307.9 600.0,308.5 600.5,308.1 601.0,308.6 601.5,308.6 602.0,308.7 602.5,307.7 603.0,308.6 603.5,308.7 604.0,308.6 604.5,307.5 605.0,307.5 605.5,307.2 606.0,307.0 606.5,307.8 607.0,307.7 607.5,307.5 608.0,307.8 608.5,307.6 609.0,307.3 609.5,307.1 610.0,307.2 610.5,308.1 611.0,307.6 611.5,307.8 612.0,308.0" fill="none" stroke="#1f25c8" stroke-width="1.9" stroke-linejoin="round"/>
<path d="M279.8,424.4 L280.3,424.4 L280.8,424.4 L281.3,424.3 L281.8,424.2 L282.3,424.1 L282.8,423.8 L283.3,423.1 L283.8,422.3 L284.3,421.2 L284.8,420.1 L285.3,419.2 L285.8,418.5 L286.3,418.0 L286.8,417.8 L287.3,417.6 L287.8,417.6 L288.3,417.7 L288.8,417.9 L289.3,418.2 L289.8,418.5 L290.3,418.7 L290.8,419.0 L291.3,419.2 L291.8,419.4 L292.3,419.6 L292.8,419.8 L293.3,420.0 L293.8,420.1 L294.3,420.3 L294.8,420.5 L295.3,420.6 L295.8,420.7 L296.3,420.8 L296.8,420.9 L297.3,420.9 L297.8,421.0 L298.3,421.0 L298.8,421.0 L299.3,421.1 L299.8,421.1 L300.3,421.2 L300.8,421.2 L301.3,421.3 L301.8,421.3 L302.3,421.4 L302.8,421.4 L303.3,421.5 L303.8,421.5 L304.3,421.6 L304.8,421.7 L305.3,421.7 L305.8,421.8 L306.3,421.9 L306.8,421.9 L307.3,422.0 L307.8,422.1 L308.3,422.1 L308.8,422.0 L309.3,422.0 L309.8,421.6 L310.3,420.8 L310.8,419.5 L311.3,417.4 L311.8,414.4 L312.3,406.7 L312.8,403.0 L313.3,399.3 L313.8,395.8 L314.3,393.0 L314.8,390.9 L315.3,389.2 L315.8,387.9 L316.3,387.2 L316.8,386.8 L317.3,386.7 L317.8,386.8 L318.3,387.1 L318.8,387.5 L319.3,388.0 L319.8,388.5 L320.3,389.2 L320.8,389.8 L321.3,390.4 L321.8,391.0 L322.3,391.5 L322.8,392.0 L323.3,392.5 L323.8,393.0 L324.3,393.5 L324.8,393.9 L325.3,394.4 L325.8,394.9 L326.3,395.5 L326.8,396.1 L327.3,396.8 L327.8,397.5 L328.3,398.2 L328.8,398.9 L329.3,399.6 L329.8,400.2 L330.3,400.8 L330.8,401.4 L331.3,402.0 L331.8,402.5 L332.3,403.0 L332.8,403.5 L333.3,404.0 L333.8,404.5 L334.3,405.0 L334.8,405.5 L335.3,405.9 L335.8,406.4 L336.3,406.8 L336.8,407.2 L337.3,407.6 L337.8,408.1 L338.3,408.5 L338.8,408.9 L339.3,409.3 L339.8,409.7 L340.3,410.1 L340.8,410.5 L341.3,410.8 L341.8,411.1 L342.3,411.4 L342.8,411.7 L343.3,412.0 L343.8,412.3 L344.3,412.5 L344.8,412.8 L345.3,413.0 L345.8,413.2 L346.3,413.4 L346.8,413.6 L347.3,413.8 L347.8,413.9 L348.3,414.1 L348.8,414.2 L349.3,414.3 L349.8,414.3 L350.3,414.3 L350.8,414.4 L351.3,414.4 L351.8,414.4 L352.3,414.5 L352.8,414.5 L353.3,414.6 L353.8,414.6 L354.3,414.6 L354.8,414.7 L355.3,414.7 L355.8,414.8 L356.3,414.8 L356.8,414.8 L357.3,414.8 L357.8,414.7 L358.3,414.7 L358.8,414.7 L359.3,414.7 L359.8,414.7 L360.3,414.7 L360.8,414.7 L361.3,414.7 L361.8,414.7 L362.3,414.7 L362.3,424.7 L361.8,424.7 L361.3,424.7 L360.8,424.7 L360.3,424.7 L359.8,424.7 L359.3,424.7 L358.8,424.7 L358.3,424.7 L357.8,424.7 L357.3,424.8 L356.8,424.8 L356.3,424.8 L355.8,424.8 L355.3,424.9 L354.8,424.9 L354.3,425.0 L353.8,425.0 L353.3,425.1 L352.8,425.2 L352.3,425.2 L351.8,425.3 L351.3,425.4 L350.8,425.4 L350.3,425.5 L349.8,425.5 L349.3,425.6 L348.8,425.6 L348.3,425.6 L347.8,425.6 L347.3,425.5 L346.8,425.4 L346.3,425.3 L345.8,425.2 L345.3,425.1 L344.8,425.0 L344.3,424.9 L343.8,424.7 L343.3,424.6 L342.8,424.4 L342.3,424.2 L341.8,424.0 L341.3,423.8 L340.8,423.5 L340.3,423.3 L339.8,423.0 L339.3,422.7 L338.8,422.3 L338.3,422.0 L337.8,421.7 L337.3,421.4 L336.8,421.1 L336.3,420.7 L335.8,420.4 L335.3,420.1 L334.8,419.7 L334.3,419.4 L333.8,419.0 L333.3,418.6 L332.8,418.2 L332.3,417.7 L331.8,417.3 L331.3,416.9 L330.8,416.5 L330.3,416.0 L329.8,415.5 L329.3,414.9 L328.8,414.3 L328.3,413.7 L327.8,413.1 L327.3,412.5 L326.8,411.9 L326.3,411.4 L325.8,410.9 L325.3,410.4 L324.8,409.9 L324.3,409.5 L323.8,409.0 L323.3,408.5 L322.8,408.0 L322.3,407.5 L321.8,407.0 L321.3,406.4 L320.8,405.8 L320.3,405.2 L319.8,404.5 L319.3,404.0 L318.8,403.5 L318.3,403.1 L317.8,402.8 L317.3,402.7 L316.8,402.8 L316.3,403.2 L315.8,403.9 L315.3,405.2 L314.8,406.9 L314.3,409.0 L313.8,411.8 L313.3,415.3 L312.8,419.0 L312.3,422.7 L311.8,422.4 L311.3,425.4 L310.8,427.5 L310.3,428.8 L309.8,429.6 L309.3,430.0 L308.8,430.0 L308.3,430.1 L307.8,430.1 L307.3,430.0 L306.8,429.9 L306.3,429.9 L305.8,429.8 L305.3,429.7 L304.8,429.7 L304.3,429.6 L303.8,429.5 L303.3,429.5 L302.8,429.4 L302.3,429.4 L301.8,429.3 L301.3,429.3 L300.8,429.2 L300.3,429.2 L299.8,429.1 L299.3,429.1 L298.8,429.0 L298.3,429.0 L297.8,429.0 L297.3,428.9 L296.8,428.9 L296.3,428.8 L295.8,428.7 L295.3,428.6 L294.8,428.5 L294.3,428.3 L293.8,428.1 L293.3,428.0 L292.8,427.8 L292.3,427.6 L291.8,427.4 L291.3,427.2 L290.8,427.0 L290.3,426.7 L289.8,426.5 L289.3,426.2 L288.8,425.9 L288.3,425.7 L287.8,425.6 L287.3,425.6 L286.8,425.8 L286.3,426.0 L285.8,426.5 L285.3,427.2 L284.8,428.1 L284.3,429.2 L283.8,430.3 L283.3,431.1 L282.8,431.8 L282.3,432.1 L281.8,432.2 L281.3,432.3 L280.8,432.4 L280.3,432.4 L279.8,432.4 Z" fill="#9a9a9a" stroke="none"/>
<path d="M276.0,375.0 V439.0 H367" fill="none" stroke="#333" stroke-width="1.1"/>
<line x1="279.9" y1="439.0" x2="279.9" y2="441.0" stroke="#444" stroke-width="0.7"/>
<line x1="296.6" y1="439.0" x2="296.6" y2="441.0" stroke="#444" stroke-width="0.7"/>
<line x1="313.3" y1="439.0" x2="313.3" y2="441.0" stroke="#444" stroke-width="0.7"/>
<line x1="330.0" y1="439.0" x2="330.0" y2="441.0" stroke="#444" stroke-width="0.7"/>
<line x1="346.7" y1="439.0" x2="346.7" y2="441.0" stroke="#444" stroke-width="0.7"/>
<line x1="363.4" y1="439.0" x2="363.4" y2="441.0" stroke="#444" stroke-width="0.7"/>
<line x1="274.0" y1="385.0" x2="276.0" y2="385.0" stroke="#444" stroke-width="0.7"/>
<text x="273.2" y="387.1" font-size="5.8" fill="#555" text-anchor="end" >3.00</text>
<line x1="274.0" y1="399.5" x2="276.0" y2="399.5" stroke="#444" stroke-width="0.7"/>
<text x="273.2" y="401.6" font-size="5.8" fill="#555" text-anchor="end" >2.00</text>
<line x1="274.0" y1="414.0" x2="276.0" y2="414.0" stroke="#444" stroke-width="0.7"/>
<text x="273.2" y="416.1" font-size="5.8" fill="#555" text-anchor="end" >1.00</text>
<line x1="274.0" y1="428.5" x2="276.0" y2="428.5" stroke="#444" stroke-width="0.7"/>
<text x="273.2" y="430.6" font-size="5.8" fill="#555" text-anchor="end" >0.00</text>
<line x1="276.0" y1="428.5" x2="367" y2="428.5" stroke="#333" stroke-width="0.8" stroke-dasharray="1.4,1.8"/>
<text x="254.5" y="407.5" font-size="7.5" fill="#333" text-anchor="middle" transform="rotate(-90 254.5 407.5)" dy="2.5">β<tspan font-size="5" dy="1.5">0</tspan><tspan dy="-1.5">(s)</tspan></text>
<polyline points="279.8,428.0 280.3,428.2 280.8,428.2 281.3,428.5 281.8,428.1 282.3,427.9 282.8,428.2 283.3,427.1 283.8,426.6 284.3,425.3 284.8,423.6 285.3,423.1 285.8,422.4 286.3,422.3 286.8,421.6 287.3,421.8 287.8,421.7 288.3,421.4 288.8,422.3 289.3,421.8 289.8,422.8 290.3,422.4 290.8,422.5 291.3,422.9 291.8,423.7 292.3,424.1 292.8,423.3 293.3,423.9 293.8,424.1 294.3,424.6 294.8,424.2 295.3,424.6 295.8,424.6 296.3,425.1 296.8,424.6 297.3,425.4 297.8,424.7 298.3,424.7 298.8,425.2 299.3,425.1 299.8,424.7 300.3,425.3 300.8,424.8 301.3,425.6 301.8,425.5 302.3,425.7 302.8,425.6 303.3,425.3 303.8,425.4 304.3,425.5 304.8,426.1 305.3,425.3 305.8,426.2 306.3,425.4 306.8,425.6 307.3,425.8 307.8,426.5 308.3,426.1 308.8,425.9 309.3,426.3 309.8,425.4 310.3,424.8 310.8,423.5 311.3,421.7 311.8,418.7 312.3,414.9 312.8,410.9 313.3,407.1 313.8,403.4 314.3,401.3 314.8,399.1 315.3,397.4 315.8,395.6 316.3,395.2 316.8,395.1 317.3,394.8 317.8,394.5 318.3,395.1 318.8,395.9 319.3,395.7 319.8,396.2 320.3,397.0 320.8,398.0 321.3,398.7 321.8,398.6 322.3,399.2 322.8,399.8 323.3,400.3 323.8,401.0 324.3,401.1 324.8,401.8 325.3,402.1 325.8,403.4 326.3,403.7 326.8,403.6 327.3,405.1 327.8,404.9 328.3,405.8 328.8,407.1 329.3,407.5 329.8,408.1 330.3,408.3 330.8,408.6 331.3,409.6 331.8,409.5 332.3,410.1 332.8,410.7 333.3,410.8 333.8,411.7 334.3,412.5 334.8,412.8 335.3,413.0 335.8,413.5 336.3,413.7 336.8,413.8 337.3,414.6 337.8,414.8 338.3,415.5 338.8,416.0 339.3,415.9 339.8,416.4 340.3,416.9 340.8,416.9 341.3,417.0 341.8,417.8 342.3,418.2 342.8,418.3 343.3,418.5 343.8,418.9 344.3,418.9 344.8,419.0 345.3,419.0 345.8,419.0 346.3,419.5 346.8,419.1 347.3,419.6 347.8,420.0 348.3,420.1 348.8,420.0 349.3,419.7 349.8,419.8 350.3,419.9 350.8,420.0 351.3,419.8 351.8,420.0 352.3,420.3 352.8,419.5 353.3,420.0 353.8,420.1 354.3,419.7 354.8,419.8 355.3,420.3 355.8,419.3 356.3,419.8 356.8,419.4 357.3,420.0 357.8,420.2 358.3,419.8 358.8,419.3 359.3,419.8 359.8,419.7 360.3,419.9 360.8,419.7 361.3,419.8 361.8,420.0 362.3,419.7" fill="none" stroke="#1f25c8" stroke-width="1.9" stroke-linejoin="round"/>
<path d="M406.6,394.7 L407.1,395.0 L407.6,395.2 L408.1,395.5 L408.6,395.4 L409.1,394.7 L409.6,393.6 L410.1,391.9 L410.6,389.8 L411.1,393.5 L411.6,391.1 L412.1,388.8 L412.6,386.9 L413.1,385.5 L413.6,384.6 L414.1,386.9 L414.6,386.8 L415.1,386.9 L415.6,387.0 L416.1,387.3 L416.6,387.5 L417.1,387.7 L417.6,388.0 L418.1,388.2 L418.6,388.4 L419.1,388.7 L419.6,388.9 L420.1,389.2 L420.6,389.4 L421.1,389.7 L421.6,389.9 L422.1,390.3 L422.6,390.9 L423.1,391.7 L423.6,392.7 L424.1,394.0 L424.6,395.4 L425.1,396.8 L425.6,398.2 L426.1,399.6 L426.6,400.9 L427.1,402.2 L427.6,403.4 L428.1,404.6 L428.6,405.7 L429.1,406.9 L429.6,408.0 L430.1,409.2 L430.6,410.3 L431.1,411.3 L431.6,412.3 L432.1,413.1 L432.6,413.9 L433.1,414.6 L433.6,415.3 L434.1,416.0 L434.6,416.5 L435.1,416.8 L435.6,416.8 L436.1,416.5 L436.6,415.9 L437.1,415.0 L437.6,414.1 L438.1,413.3 L438.6,413.0 L439.1,413.1 L439.6,413.6 L440.1,414.7 L440.6,415.9 L441.1,417.1 L441.6,418.3 L442.1,419.5 L442.6,420.7 L443.1,421.9 L443.6,422.9 L444.1,423.7 L444.6,424.3 L445.1,424.8 L445.6,425.2 L446.1,425.5 L446.6,425.9 L447.1,426.2 L447.6,426.4 L448.1,426.5 L448.6,426.5 L449.1,426.4 L449.6,426.3 L450.1,426.2 L450.6,426.1 L451.1,425.9 L451.6,425.8 L452.1,425.6 L452.6,425.4 L453.1,425.1 L453.6,424.9 L454.1,424.7 L454.6,424.5 L455.1,424.2 L455.6,423.8 L456.1,423.4 L456.6,422.8 L457.1,422.2 L457.6,421.6 L458.1,421.0 L458.6,420.4 L459.1,419.7 L459.6,419.2 L460.1,418.6 L460.6,418.0 L461.1,417.4 L461.6,416.9 L462.1,416.4 L462.6,415.9 L463.1,415.5 L463.6,415.1 L464.1,414.8 L464.6,414.4 L465.1,414.1 L465.6,413.8 L466.1,413.6 L466.6,413.4 L467.1,413.2 L467.6,413.0 L468.1,412.9 L468.6,412.7 L469.1,412.6 L469.6,412.5 L470.1,412.3 L470.6,412.2 L471.1,412.2 L471.6,412.1 L472.1,412.0 L472.6,412.0 L473.1,411.9 L473.6,411.8 L474.1,411.7 L474.6,411.7 L475.1,411.6 L475.6,411.5 L476.1,411.5 L476.6,411.4 L477.1,411.4 L477.6,411.3 L478.1,411.3 L478.6,411.2 L479.1,411.2 L479.6,411.2 L480.1,411.1 L480.6,411.1 L481.1,411.1 L481.6,411.0 L482.1,411.0 L482.6,411.0 L483.1,411.0 L483.6,411.0 L484.1,411.0 L484.6,411.0 L485.1,411.0 L485.6,411.0 L486.1,411.0 L486.6,411.0 L487.1,411.0 L487.6,411.0 L487.6,415.6 L487.1,415.6 L486.6,415.6 L486.1,415.6 L485.6,415.6 L485.1,415.6 L484.6,415.6 L484.1,415.6 L483.6,415.6 L483.1,415.6 L482.6,415.6 L482.1,415.6 L481.6,415.6 L481.1,415.7 L480.6,415.7 L480.1,415.7 L479.6,415.8 L479.1,415.8 L478.6,415.8 L478.1,415.9 L477.6,415.9 L477.1,416.0 L476.6,416.0 L476.1,416.1 L475.6,416.1 L475.1,416.2 L474.6,416.3 L474.1,416.3 L473.6,416.4 L473.1,416.5 L472.6,416.6 L472.1,416.6 L471.6,416.7 L471.1,416.8 L470.6,416.8 L470.1,416.9 L469.6,417.1 L469.1,417.2 L468.6,417.3 L468.1,417.5 L467.6,417.6 L467.1,417.8 L466.6,418.0 L466.1,418.2 L465.6,418.4 L465.1,418.7 L464.6,419.0 L464.1,419.4 L463.6,419.7 L463.1,420.1 L462.6,420.5 L462.1,421.0 L461.6,421.5 L461.1,422.0 L460.6,422.6 L460.1,423.2 L459.6,423.8 L459.1,424.3 L458.6,425.0 L458.1,425.6 L457.6,426.2 L457.1,426.8 L456.6,427.4 L456.1,428.0 L455.6,428.4 L455.1,428.8 L454.6,429.1 L454.1,429.3 L453.6,429.5 L453.1,429.7 L452.6,430.0 L452.1,430.2 L451.6,430.4 L451.1,430.5 L450.6,430.7 L450.1,430.8 L449.6,430.9 L449.1,431.0 L448.6,431.1 L448.1,431.1 L447.6,431.0 L447.1,430.8 L446.6,430.5 L446.1,430.1 L445.6,429.8 L445.1,429.4 L444.6,428.9 L444.1,428.3 L443.6,427.5 L443.1,426.5 L442.6,425.3 L442.1,424.1 L441.6,422.9 L441.1,421.7 L440.6,420.5 L440.1,419.3 L439.6,418.2 L439.1,417.7 L438.6,417.6 L438.1,417.9 L437.6,418.7 L437.1,419.6 L436.6,420.5 L436.1,421.1 L435.6,421.4 L435.1,421.4 L434.6,421.1 L434.1,420.6 L433.6,419.9 L433.1,419.2 L432.6,418.5 L432.1,417.7 L431.6,416.9 L431.1,415.9 L430.6,414.9 L430.1,413.8 L429.6,412.6 L429.1,411.5 L428.6,410.3 L428.1,409.2 L427.6,408.0 L427.1,406.8 L426.6,405.5 L426.1,404.2 L425.6,402.8 L425.1,401.4 L424.6,400.0 L424.1,398.6 L423.6,397.3 L423.1,396.3 L422.6,395.5 L422.1,394.9 L421.6,394.5 L421.1,394.3 L420.6,394.0 L420.1,393.8 L419.6,393.5 L419.1,393.3 L418.6,393.0 L418.1,392.8 L417.6,392.6 L417.1,392.3 L416.6,392.1 L416.1,391.9 L415.6,391.6 L415.1,391.5 L414.6,391.4 L414.1,391.5 L413.6,394.6 L413.1,395.5 L412.6,396.9 L412.1,398.8 L411.6,401.1 L411.1,403.5 L410.6,411.8 L410.1,413.9 L409.6,415.6 L409.1,416.7 L408.6,417.4 L408.1,417.5 L407.6,417.2 L407.1,417.0 L406.6,416.7 Z" fill="#9a9a9a" stroke="none"/>
<path d="M402.2,375.0 V439.0 H489.5" fill="none" stroke="#333" stroke-width="1.1"/>
<line x1="406.0" y1="439.0" x2="406.0" y2="441.0" stroke="#444" stroke-width="0.7"/>
<line x1="422.7" y1="439.0" x2="422.7" y2="441.0" stroke="#444" stroke-width="0.7"/>
<line x1="439.4" y1="439.0" x2="439.4" y2="441.0" stroke="#444" stroke-width="0.7"/>
<line x1="456.1" y1="439.0" x2="456.1" y2="441.0" stroke="#444" stroke-width="0.7"/>
<line x1="472.8" y1="439.0" x2="472.8" y2="441.0" stroke="#444" stroke-width="0.7"/>
<line x1="489.5" y1="439.0" x2="489.5" y2="441.0" stroke="#444" stroke-width="0.7"/>
<line x1="400.2" y1="385.9" x2="402.2" y2="385.9" stroke="#444" stroke-width="0.7"/>
<text x="399.4" y="388.0" font-size="5.8" fill="#555" text-anchor="end" >0.40</text>
<line x1="400.2" y1="403.9" x2="402.2" y2="403.9" stroke="#444" stroke-width="0.7"/>
<text x="399.4" y="406.0" font-size="5.8" fill="#555" text-anchor="end" >0.00</text>
<line x1="400.2" y1="421.9" x2="402.2" y2="421.9" stroke="#444" stroke-width="0.7"/>
<text x="399.4" y="424.0" font-size="5.8" fill="#555" text-anchor="end" >−0.40</text>
<line x1="402.2" y1="403.9" x2="489.5" y2="403.9" stroke="#333" stroke-width="0.8" stroke-dasharray="1.4,1.8"/>
<text x="378.3" y="407.5" font-size="7.5" fill="#333" text-anchor="middle" transform="rotate(-90 378.3 407.5)" dy="2.5">β<tspan font-size="5" dy="1.5">1</tspan><tspan dy="-1.5">(s)</tspan></text>
<polyline points="406.6,405.6 407.1,406.4 407.6,405.9 408.1,406.7 408.6,406.3 409.1,406.0 409.6,404.3 410.1,403.4 410.6,400.6 411.1,398.1 411.6,395.8 412.1,393.7 412.6,391.5 413.1,390.4 413.6,389.5 414.1,389.4 414.6,389.0 415.1,388.9 415.6,389.0 416.1,389.8 416.6,390.2 417.1,390.0 417.6,390.0 418.1,390.8 418.6,390.6 419.1,390.7 419.6,390.9 420.1,391.8 420.6,392.0 421.1,392.1 421.6,392.2 422.1,392.7 422.6,392.9 423.1,394.4 423.6,394.9 424.1,396.4 424.6,398.0 425.1,399.4 425.6,400.5 426.1,401.7 426.6,403.3 427.1,404.1 427.6,406.0 428.1,406.7 428.6,408.4 429.1,408.9 429.6,410.2 430.1,411.2 430.6,412.5 431.1,413.3 431.6,414.1 432.1,415.7 432.6,416.0 433.1,416.6 433.6,417.4 434.1,418.2 434.6,418.8 435.1,419.3 435.6,419.3 436.1,418.7 436.6,418.6 437.1,417.7 437.6,415.9 438.1,415.9 438.6,415.7 439.1,415.6 439.6,415.6 440.1,417.3 440.6,418.3 441.1,418.9 441.6,420.1 442.1,422.3 442.6,423.2 443.1,423.9 443.6,424.8 444.1,425.6 444.6,426.4 445.1,427.4 445.6,427.3 446.1,427.5 446.6,428.6 447.1,428.8 447.6,428.4 448.1,429.2 448.6,428.9 449.1,429.0 449.6,428.8 450.1,428.9 450.6,428.6 451.1,428.6 451.6,427.7 452.1,428.1 452.6,427.7 453.1,427.7 453.6,427.2 454.1,427.4 454.6,426.8 455.1,426.3 455.6,425.8 456.1,425.3 456.6,425.1 457.1,424.1 457.6,423.8 458.1,422.9 458.6,422.6 459.1,422.0 459.6,421.5 460.1,421.2 460.6,419.8 461.1,420.0 461.6,419.1 462.1,418.7 462.6,418.4 463.1,418.2 463.6,417.3 464.1,417.0 464.6,417.2 465.1,416.0 465.6,416.2 466.1,416.0 466.6,415.2 467.1,415.6 467.6,415.5 468.1,415.6 468.6,414.9 469.1,415.4 469.6,414.8 470.1,414.6 470.6,414.9 471.1,414.0 471.6,414.6 472.1,414.5 472.6,414.1 473.1,414.5 473.6,414.0 474.1,414.0 474.6,414.0 475.1,414.2 475.6,413.5 476.1,413.7 476.6,413.6 477.1,413.7 477.6,414.0 478.1,413.4 478.6,413.9 479.1,413.4 479.6,413.5 480.1,413.2 480.6,413.4 481.1,413.8 481.6,413.5 482.1,413.6 482.6,413.2 483.1,413.1 483.6,413.1 484.1,413.4 484.6,413.5 485.1,413.6 485.6,412.9 486.1,413.6 486.6,413.7 487.1,413.4 487.6,412.9" fill="none" stroke="#1f25c8" stroke-width="1.9" stroke-linejoin="round"/>
<path d="M531.0,386.4 L531.5,386.4 L532.0,386.3 L532.5,386.2 L533.0,386.2 L533.5,386.0 L534.0,385.8 L534.5,385.5 L535.0,385.2 L535.5,384.8 L536.0,385.8 L536.5,385.5 L537.0,385.2 L537.5,385.0 L538.0,384.9 L538.5,384.9 L539.0,384.8 L539.5,384.8 L540.0,384.7 L540.5,384.6 L541.0,384.6 L541.5,384.5 L542.0,384.5 L542.5,384.4 L543.0,384.4 L543.5,384.3 L544.0,384.2 L544.5,384.2 L545.0,384.1 L545.5,384.1 L546.0,384.1 L546.5,384.1 L547.0,384.1 L547.5,384.2 L548.0,384.2 L548.5,384.3 L549.0,384.4 L549.5,384.5 L550.0,384.6 L550.5,384.7 L551.0,384.9 L551.5,385.1 L552.0,385.2 L552.5,385.4 L553.0,385.6 L553.5,385.8 L554.0,386.0 L554.5,386.3 L555.0,386.5 L555.5,386.8 L556.0,387.0 L556.5,387.1 L557.0,387.2 L557.5,387.1 L558.0,387.0 L558.5,386.7 L559.0,386.4 L559.5,385.9 L560.0,385.5 L560.5,385.5 L561.0,386.0 L561.5,387.0 L562.0,388.5 L562.5,390.8 L563.0,393.2 L563.5,396.0 L564.0,399.0 L564.5,402.1 L565.0,405.1 L565.5,407.9 L566.0,410.5 L566.5,412.8 L567.0,414.8 L567.5,416.5 L568.0,418.0 L568.5,419.1 L569.0,420.1 L569.5,421.0 L570.0,421.8 L570.5,422.3 L571.0,422.7 L571.5,423.0 L572.0,423.2 L572.5,423.2 L573.0,423.1 L573.5,422.9 L574.0,422.5 L574.5,421.9 L575.0,421.2 L575.5,420.4 L576.0,419.5 L576.5,418.5 L577.0,417.6 L577.5,416.7 L578.0,415.8 L578.5,415.0 L579.0,414.2 L579.5,413.3 L580.0,412.4 L580.5,411.5 L581.0,410.5 L581.5,409.5 L582.0,408.5 L582.5,407.5 L583.0,406.6 L583.5,405.7 L584.0,404.8 L584.5,404.0 L585.0,403.2 L585.5,402.4 L586.0,401.8 L586.5,401.2 L587.0,400.7 L587.5,400.2 L588.0,399.8 L588.5,399.5 L589.0,399.1 L589.5,398.9 L590.0,398.7 L590.5,398.5 L591.0,398.3 L591.5,398.2 L592.0,398.0 L592.5,397.8 L593.0,397.7 L593.5,397.5 L594.0,397.3 L594.5,397.2 L595.0,397.2 L595.5,397.2 L596.0,397.3 L596.5,397.5 L597.0,397.7 L597.5,397.8 L598.0,397.9 L598.5,397.9 L599.0,397.8 L599.5,397.8 L600.0,397.7 L600.5,397.6 L601.0,397.6 L601.5,397.5 L602.0,397.5 L602.5,397.5 L603.0,397.5 L603.5,397.5 L604.0,397.4 L604.5,397.3 L605.0,397.2 L605.5,397.0 L606.0,396.8 L606.5,396.7 L607.0,396.6 L607.5,396.6 L608.0,396.7 L608.5,396.8 L609.0,396.8 L609.5,396.9 L610.0,397.0 L610.5,397.1 L611.0,397.2 L611.5,397.3 L612.0,397.4 L612.0,402.4 L611.5,402.3 L611.0,402.2 L610.5,402.1 L610.0,402.0 L609.5,401.9 L609.0,401.8 L608.5,401.8 L608.0,401.7 L607.5,401.6 L607.0,401.6 L606.5,401.7 L606.0,401.8 L605.5,402.0 L605.0,402.2 L604.5,402.3 L604.0,402.4 L603.5,402.5 L603.0,402.5 L602.5,402.5 L602.0,402.5 L601.5,402.5 L601.0,402.6 L600.5,402.6 L600.0,402.7 L599.5,402.8 L599.0,402.8 L598.5,402.9 L598.0,402.9 L597.5,402.8 L597.0,402.7 L596.5,402.5 L596.0,402.3 L595.5,402.2 L595.0,402.2 L594.5,402.2 L594.0,402.3 L593.5,402.5 L593.0,402.7 L592.5,402.8 L592.0,403.0 L591.5,403.2 L591.0,403.3 L590.5,403.5 L590.0,403.7 L589.5,403.9 L589.0,404.1 L588.5,404.5 L588.0,404.8 L587.5,405.2 L587.0,405.7 L586.5,406.2 L586.0,406.8 L585.5,407.4 L585.0,408.2 L584.5,409.0 L584.0,409.8 L583.5,410.7 L583.0,411.6 L582.5,412.5 L582.0,413.5 L581.5,414.5 L581.0,415.5 L580.5,416.5 L580.0,417.4 L579.5,418.3 L579.0,419.2 L578.5,420.0 L578.0,420.8 L577.5,421.7 L577.0,422.6 L576.5,423.5 L576.0,424.5 L575.5,425.4 L575.0,426.2 L574.5,426.9 L574.0,427.5 L573.5,427.9 L573.0,428.1 L572.5,428.2 L572.0,428.2 L571.5,428.0 L571.0,427.7 L570.5,427.3 L570.0,426.8 L569.5,426.0 L569.0,425.1 L568.5,424.1 L568.0,423.0 L567.5,421.5 L567.0,419.8 L566.5,417.8 L566.0,415.5 L565.5,412.9 L565.0,410.1 L564.5,407.1 L564.0,404.0 L563.5,401.0 L563.0,398.2 L562.5,395.8 L562.0,393.5 L561.5,392.0 L561.0,391.0 L560.5,390.5 L560.0,390.5 L559.5,390.9 L559.0,391.4 L558.5,391.7 L558.0,392.0 L557.5,392.1 L557.0,392.2 L556.5,392.1 L556.0,392.0 L555.5,391.8 L555.0,391.5 L554.5,391.3 L554.0,391.0 L553.5,390.8 L553.0,390.6 L552.5,390.4 L552.0,390.2 L551.5,390.1 L551.0,389.9 L550.5,389.7 L550.0,389.6 L549.5,389.5 L549.0,389.4 L548.5,389.3 L548.0,389.2 L547.5,389.2 L547.0,389.1 L546.5,389.1 L546.0,389.1 L545.5,389.1 L545.0,389.1 L544.5,389.2 L544.0,389.2 L543.5,389.3 L543.0,389.4 L542.5,389.4 L542.0,389.5 L541.5,389.5 L541.0,389.6 L540.5,389.6 L540.0,389.7 L539.5,389.8 L539.0,389.8 L538.5,389.9 L538.0,389.9 L537.5,390.0 L537.0,390.2 L536.5,390.5 L536.0,390.8 L535.5,392.8 L535.0,393.2 L534.5,393.5 L534.0,393.8 L533.5,394.0 L533.0,394.2 L532.5,394.2 L532.0,394.3 L531.5,394.4 L531.0,394.4 Z" fill="#9a9a9a" stroke="none"/>
<path d="M527.3,375.0 V439.0 H616" fill="none" stroke="#333" stroke-width="1.1"/>
<line x1="531.0" y1="439.0" x2="531.0" y2="441.0" stroke="#444" stroke-width="0.7"/>
<line x1="547.7" y1="439.0" x2="547.7" y2="441.0" stroke="#444" stroke-width="0.7"/>
<line x1="564.4" y1="439.0" x2="564.4" y2="441.0" stroke="#444" stroke-width="0.7"/>
<line x1="581.1" y1="439.0" x2="581.1" y2="441.0" stroke="#444" stroke-width="0.7"/>
<line x1="597.8" y1="439.0" x2="597.8" y2="441.0" stroke="#444" stroke-width="0.7"/>
<line x1="614.5" y1="439.0" x2="614.5" y2="441.0" stroke="#444" stroke-width="0.7"/>
<line x1="525.3" y1="390.0" x2="527.3" y2="390.0" stroke="#444" stroke-width="0.7"/>
<text x="524.5" y="392.1" font-size="5.8" fill="#555" text-anchor="end" >0.00</text>
<line x1="525.3" y1="405.6" x2="527.3" y2="405.6" stroke="#444" stroke-width="0.7"/>
<text x="524.5" y="407.7" font-size="5.8" fill="#555" text-anchor="end" >−0.00</text>
<line x1="525.3" y1="421.2" x2="527.3" y2="421.2" stroke="#444" stroke-width="0.7"/>
<text x="524.5" y="423.3" font-size="5.8" fill="#555" text-anchor="end" >−0.00</text>
<line x1="525.3" y1="436.8" x2="527.3" y2="436.8" stroke="#444" stroke-width="0.7"/>
<text x="524.5" y="438.9" font-size="5.8" fill="#555" text-anchor="end" >−0.00</text>
<line x1="527.3" y1="390.0" x2="616" y2="390.0" stroke="#333" stroke-width="0.8" stroke-dasharray="1.4,1.8"/>
<text x="503.0" y="407.5" font-size="7.5" fill="#333" text-anchor="middle" transform="rotate(-90 503.0 407.5)" dy="2.5">β<tspan font-size="5" dy="1.5">2</tspan><tspan dy="-1.5">(s)</tspan></text>
<polyline points="531.0,390.2 531.5,389.9 532.0,390.0 532.5,390.7 533.0,390.3 533.5,390.2 534.0,390.1 534.5,389.9 535.0,389.3 535.5,388.9 536.0,388.5 536.5,388.2 537.0,387.8 537.5,387.7 538.0,387.1 538.5,387.5 539.0,387.3 539.5,387.5 540.0,386.8 540.5,386.8 541.0,386.6 541.5,387.3 542.0,387.4 542.5,387.1 543.0,386.7 543.5,387.1 544.0,387.0 544.5,386.7 545.0,386.4 545.5,386.4 546.0,386.5 546.5,386.4 547.0,386.6 547.5,386.8 548.0,387.2 548.5,386.4 549.0,386.9 549.5,386.5 550.0,386.7 550.5,387.5 551.0,387.5 551.5,388.0 552.0,387.7 552.5,387.5 553.0,388.0 553.5,388.4 554.0,389.0 554.5,389.2 555.0,389.0 555.5,389.2 556.0,389.1 556.5,389.8 557.0,389.4 557.5,389.3 558.0,389.0 558.5,388.7 559.0,389.0 559.5,388.1 560.0,388.5 560.5,387.6 561.0,388.9 561.5,389.1 562.0,390.5 562.5,393.5 563.0,395.5 563.5,398.7 564.0,401.2 564.5,404.2 565.0,407.8 565.5,410.6 566.0,413.4 566.5,415.5 567.0,416.8 567.5,419.1 568.0,420.7 568.5,421.6 569.0,423.1 569.5,423.3 570.0,424.7 570.5,425.0 571.0,424.7 571.5,425.0 572.0,425.9 572.5,426.1 573.0,425.2 573.5,425.2 574.0,425.2 574.5,424.1 575.0,424.1 575.5,422.9 576.0,421.6 576.5,420.9 577.0,420.2 577.5,419.1 578.0,418.5 578.5,417.1 579.0,417.0 579.5,415.7 580.0,415.0 580.5,414.1 581.0,412.9 581.5,411.9 582.0,411.3 582.5,410.5 583.0,409.4 583.5,408.3 584.0,407.1 584.5,406.1 585.0,406.1 585.5,405.1 586.0,404.6 586.5,403.5 587.0,403.3 587.5,403.2 588.0,402.7 588.5,402.1 589.0,401.5 589.5,401.3 590.0,401.6 590.5,400.9 591.0,401.0 591.5,400.8 592.0,400.9 592.5,400.6 593.0,399.9 593.5,399.5 594.0,399.6 594.5,399.7 595.0,399.8 595.5,400.0 596.0,400.2 596.5,399.5 597.0,400.5 597.5,400.6 598.0,400.7 598.5,400.4 599.0,400.1 599.5,400.6 600.0,400.5 600.5,400.3 601.0,400.5 601.5,399.9 602.0,399.6 602.5,400.1 603.0,400.3 603.5,399.7 604.0,400.2 604.5,400.2 605.0,399.4 605.5,399.6 606.0,399.5 606.5,399.2 607.0,398.9 607.5,398.9 608.0,399.4 608.5,399.5 609.0,399.3 609.5,399.0 610.0,399.8 610.5,399.9 611.0,399.5 611.5,399.9 612.0,400.3" fill="none" stroke="#1f25c8" stroke-width="1.9" stroke-linejoin="round"/>
<path d="M279.8,512.5 L280.3,512.5 L280.8,512.5 L281.3,512.4 L281.8,512.3 L282.3,512.2 L282.8,511.9 L283.3,511.2 L283.8,510.4 L284.3,509.3 L284.8,508.2 L285.3,507.3 L285.8,506.6 L286.3,506.1 L286.8,505.9 L287.3,505.7 L287.8,505.7 L288.3,505.8 L288.8,506.0 L289.3,506.3 L289.8,506.6 L290.3,506.8 L290.8,507.1 L291.3,507.3 L291.8,507.5 L292.3,507.7 L292.8,507.9 L293.3,508.1 L293.8,508.2 L294.3,508.4 L294.8,508.6 L295.3,508.7 L295.8,508.8 L296.3,508.9 L296.8,509.0 L297.3,509.0 L297.8,509.1 L298.3,509.1 L298.8,509.1 L299.3,509.2 L299.8,509.2 L300.3,509.3 L300.8,509.3 L301.3,509.4 L301.8,509.4 L302.3,509.5 L302.8,509.5 L303.3,509.6 L303.8,509.6 L304.3,509.7 L304.8,509.8 L305.3,509.8 L305.8,509.9 L306.3,510.0 L306.8,510.0 L307.3,510.1 L307.8,510.2 L308.3,510.2 L308.8,510.1 L309.3,510.1 L309.8,509.7 L310.3,508.9 L310.8,507.6 L311.3,505.5 L311.8,502.5 L312.3,494.8 L312.8,491.1 L313.3,487.4 L313.8,483.9 L314.3,481.1 L314.8,479.0 L315.3,477.3 L315.8,476.0 L316.3,475.3 L316.8,474.9 L317.3,474.8 L317.8,474.9 L318.3,475.2 L318.8,475.6 L319.3,476.1 L319.8,476.6 L320.3,477.3 L320.8,477.9 L321.3,478.5 L321.8,479.1 L322.3,479.6 L322.8,480.1 L323.3,480.6 L323.8,481.1 L324.3,481.6 L324.8,482.0 L325.3,482.5 L325.8,483.0 L326.3,483.6 L326.8,484.2 L327.3,484.9 L327.8,485.6 L328.3,486.3 L328.8,487.0 L329.3,487.7 L329.8,488.3 L330.3,488.9 L330.8,489.5 L331.3,490.1 L331.8,490.6 L332.3,491.1 L332.8,491.6 L333.3,492.1 L333.8,492.6 L334.3,493.1 L334.8,493.6 L335.3,494.0 L335.8,494.5 L336.3,494.9 L336.8,495.3 L337.3,495.7 L337.8,496.2 L338.3,496.6 L338.8,497.0 L339.3,497.4 L339.8,497.8 L340.3,498.2 L340.8,498.6 L341.3,498.9 L341.8,499.2 L342.3,499.5 L342.8,499.8 L343.3,500.1 L343.8,500.4 L344.3,500.6 L344.8,500.9 L345.3,501.1 L345.8,501.3 L346.3,501.5 L346.8,501.7 L347.3,501.9 L347.8,502.0 L348.3,502.2 L348.8,502.3 L349.3,502.4 L349.8,502.4 L350.3,502.4 L350.8,502.5 L351.3,502.5 L351.8,502.5 L352.3,502.6 L352.8,502.6 L353.3,502.7 L353.8,502.7 L354.3,502.7 L354.8,502.8 L355.3,502.8 L355.8,502.9 L356.3,502.9 L356.8,502.9 L357.3,502.9 L357.8,502.8 L358.3,502.8 L358.8,502.8 L359.3,502.8 L359.8,502.8 L360.3,502.8 L360.8,502.8 L361.3,502.8 L361.8,502.8 L362.3,502.8 L362.3,512.8 L361.8,512.8 L361.3,512.8 L360.8,512.8 L360.3,512.8 L359.8,512.8 L359.3,512.8 L358.8,512.8 L358.3,512.8 L357.8,512.8 L357.3,512.9 L356.8,512.9 L356.3,512.9 L355.8,512.9 L355.3,513.0 L354.8,513.0 L354.3,513.1 L353.8,513.1 L353.3,513.2 L352.8,513.3 L352.3,513.3 L351.8,513.4 L351.3,513.5 L350.8,513.5 L350.3,513.6 L349.8,513.6 L349.3,513.7 L348.8,513.7 L348.3,513.7 L347.8,513.7 L347.3,513.6 L346.8,513.5 L346.3,513.4 L345.8,513.3 L345.3,513.2 L344.8,513.1 L344.3,513.0 L343.8,512.8 L343.3,512.7 L342.8,512.5 L342.3,512.3 L341.8,512.1 L341.3,511.9 L340.8,511.6 L340.3,511.4 L339.8,511.1 L339.3,510.8 L338.8,510.4 L338.3,510.1 L337.8,509.8 L337.3,509.5 L336.8,509.2 L336.3,508.8 L335.8,508.5 L335.3,508.2 L334.8,507.8 L334.3,507.5 L333.8,507.1 L333.3,506.7 L332.8,506.3 L332.3,505.8 L331.8,505.4 L331.3,505.0 L330.8,504.6 L330.3,504.1 L329.8,503.6 L329.3,503.0 L328.8,502.4 L328.3,501.8 L327.8,501.2 L327.3,500.6 L326.8,500.0 L326.3,499.5 L325.8,499.0 L325.3,498.5 L324.8,498.0 L324.3,497.6 L323.8,497.1 L323.3,496.6 L322.8,496.1 L322.3,495.6 L321.8,495.1 L321.3,494.5 L320.8,493.9 L320.3,493.3 L319.8,492.6 L319.3,492.1 L318.8,491.6 L318.3,491.2 L317.8,490.9 L317.3,490.8 L316.8,490.9 L316.3,491.3 L315.8,492.0 L315.3,493.3 L314.8,495.0 L314.3,497.1 L313.8,499.9 L313.3,503.4 L312.8,507.1 L312.3,510.8 L311.8,510.5 L311.3,513.5 L310.8,515.6 L310.3,516.9 L309.8,517.7 L309.3,518.1 L308.8,518.1 L308.3,518.2 L307.8,518.2 L307.3,518.1 L306.8,518.0 L306.3,518.0 L305.8,517.9 L305.3,517.8 L304.8,517.8 L304.3,517.7 L303.8,517.6 L303.3,517.6 L302.8,517.5 L302.3,517.5 L301.8,517.4 L301.3,517.4 L300.8,517.3 L300.3,517.3 L299.8,517.2 L299.3,517.2 L298.8,517.1 L298.3,517.1 L297.8,517.1 L297.3,517.0 L296.8,517.0 L296.3,516.9 L295.8,516.8 L295.3,516.7 L294.8,516.6 L294.3,516.4 L293.8,516.2 L293.3,516.1 L292.8,515.9 L292.3,515.7 L291.8,515.5 L291.3,515.3 L290.8,515.1 L290.3,514.8 L289.8,514.6 L289.3,514.3 L288.8,514.0 L288.3,513.8 L287.8,513.7 L287.3,513.7 L286.8,513.9 L286.3,514.1 L285.8,514.6 L285.3,515.3 L284.8,516.2 L284.3,517.3 L283.8,518.4 L283.3,519.2 L282.8,519.9 L282.3,520.2 L281.8,520.3 L281.3,520.4 L280.8,520.5 L280.3,520.5 L279.8,520.5 Z" fill="#9a9a9a" stroke="none"/>
<path d="M276.0,463.0 V526.3 H367" fill="none" stroke="#333" stroke-width="1.1"/>
<line x1="279.9" y1="526.3" x2="279.9" y2="528.3" stroke="#444" stroke-width="0.7"/>
<line x1="296.6" y1="526.3" x2="296.6" y2="528.3" stroke="#444" stroke-width="0.7"/>
<line x1="313.3" y1="526.3" x2="313.3" y2="528.3" stroke="#444" stroke-width="0.7"/>
<line x1="330.0" y1="526.3" x2="330.0" y2="528.3" stroke="#444" stroke-width="0.7"/>
<line x1="346.7" y1="526.3" x2="346.7" y2="528.3" stroke="#444" stroke-width="0.7"/>
<line x1="363.4" y1="526.3" x2="363.4" y2="528.3" stroke="#444" stroke-width="0.7"/>
<line x1="274.0" y1="473.1" x2="276.0" y2="473.1" stroke="#444" stroke-width="0.7"/>
<text x="273.2" y="475.2" font-size="5.8" fill="#555" text-anchor="end" >3.00</text>
<line x1="274.0" y1="487.6" x2="276.0" y2="487.6" stroke="#444" stroke-width="0.7"/>
<text x="273.2" y="489.7" font-size="5.8" fill="#555" text-anchor="end" >2.00</text>
<line x1="274.0" y1="502.1" x2="276.0" y2="502.1" stroke="#444" stroke-width="0.7"/>
<text x="273.2" y="504.2" font-size="5.8" fill="#555" text-anchor="end" >1.00</text>
<line x1="274.0" y1="516.6" x2="276.0" y2="516.6" stroke="#444" stroke-width="0.7"/>
<text x="273.2" y="518.7" font-size="5.8" fill="#555" text-anchor="end" >0.00</text>
<line x1="276.0" y1="516.6" x2="367" y2="516.6" stroke="#333" stroke-width="0.8" stroke-dasharray="1.4,1.8"/>
<text x="254.5" y="495.1" font-size="7.5" fill="#333" text-anchor="middle" transform="rotate(-90 254.5 495.1)" dy="2.5">β<tspan font-size="5" dy="1.5">0</tspan><tspan dy="-1.5">(s)</tspan></text>
<polyline points="279.8,516.5 280.3,516.5 280.8,516.5 281.3,516.4 281.8,516.3 282.3,516.2 282.8,515.9 283.3,515.2 283.8,514.4 284.3,513.3 284.8,512.2 285.3,511.3 285.8,510.6 286.3,510.1 286.8,509.9 287.3,509.7 287.8,509.7 288.3,509.8 288.8,510.0 289.3,510.3 289.8,510.6 290.3,510.8 290.8,511.1 291.3,511.3 291.8,511.5 292.3,511.7 292.8,511.9 293.3,512.1 293.8,512.2 294.3,512.4 294.8,512.6 295.3,512.7 295.8,512.8 296.3,512.9 296.8,513.0 297.3,513.0 297.8,513.1 298.3,513.1 298.8,513.1 299.3,513.2 299.8,513.2 300.3,513.3 300.8,513.3 301.3,513.4 301.8,513.4 302.3,513.5 302.8,513.5 303.3,513.6 303.8,513.6 304.3,513.7 304.8,513.8 305.3,513.8 305.8,513.9 306.3,514.0 306.8,514.0 307.3,514.1 307.8,514.2 308.3,514.2 308.8,514.1 309.3,514.1 309.8,513.7 310.3,512.9 310.8,511.6 311.3,509.5 311.8,506.5 312.3,502.8 312.8,499.1 313.3,495.4 313.8,491.9 314.3,489.1 314.8,487.0 315.3,485.3 315.8,484.0 316.3,483.3 316.8,482.9 317.3,482.8 317.8,482.9 318.3,483.2 318.8,483.6 319.3,484.1 319.8,484.6 320.3,485.3 320.8,485.9 321.3,486.5 321.8,487.1 322.3,487.6 322.8,488.1 323.3,488.6 323.8,489.1 324.3,489.6 324.8,490.0 325.3,490.5 325.8,491.0 326.3,491.5 326.8,492.1 327.3,492.7 327.8,493.4 328.3,494.0 328.8,494.7 329.3,495.3 329.8,496.0 330.3,496.5 330.8,497.0 331.3,497.5 331.8,498.0 332.3,498.5 332.8,498.9 333.3,499.4 333.8,499.9 334.3,500.3 334.8,500.7 335.3,501.1 335.8,501.5 336.3,501.9 336.8,502.2 337.3,502.6 337.8,503.0 338.3,503.4 338.8,503.7 339.3,504.1 339.8,504.5 340.3,504.8 340.8,505.1 341.3,505.4 341.8,505.6 342.3,505.9 342.8,506.1 343.3,506.4 343.8,506.6 344.3,506.8 344.8,507.0 345.3,507.1 345.8,507.3 346.3,507.4 346.8,507.6 347.3,507.7 347.8,507.9 348.3,507.9 348.8,508.0 349.3,508.0 349.8,508.0 350.3,508.0 350.8,508.0 351.3,508.0 351.8,508.0 352.3,508.0 352.8,507.9 353.3,507.9 353.8,507.9 354.3,507.9 354.8,507.9 355.3,507.9 355.8,507.9 356.3,507.9 356.8,507.9 357.3,507.9 357.8,507.8 358.3,507.8 358.8,507.8 359.3,507.8 359.8,507.8 360.3,507.8 360.8,507.8 361.3,507.8 361.8,507.8 362.3,507.8" fill="none" stroke="#1f25c8" stroke-width="1.9" stroke-linejoin="round"/>
<path d="M406.6,482.6 L407.1,482.9 L407.6,483.1 L408.1,483.4 L408.6,483.3 L409.1,482.6 L409.6,481.5 L410.1,479.8 L410.6,477.7 L411.1,481.4 L411.6,479.0 L412.1,476.7 L412.6,474.8 L413.1,473.4 L413.6,472.5 L414.1,474.8 L414.6,474.7 L415.1,474.8 L415.6,474.9 L416.1,475.2 L416.6,475.4 L417.1,475.6 L417.6,475.9 L418.1,476.1 L418.6,476.3 L419.1,476.6 L419.6,476.8 L420.1,477.1 L420.6,477.3 L421.1,477.6 L421.6,477.8 L422.1,478.2 L422.6,478.8 L423.1,479.6 L423.6,480.6 L424.1,481.9 L424.6,483.3 L425.1,484.7 L425.6,486.1 L426.1,487.5 L426.6,488.8 L427.1,490.1 L427.6,491.3 L428.1,492.5 L428.6,493.6 L429.1,494.8 L429.6,495.9 L430.1,497.1 L430.6,498.2 L431.1,499.2 L431.6,500.2 L432.1,501.0 L432.6,501.8 L433.1,502.5 L433.6,503.2 L434.1,503.9 L434.6,504.4 L435.1,504.7 L435.6,504.7 L436.1,504.4 L436.6,503.8 L437.1,502.9 L437.6,502.0 L438.1,501.2 L438.6,500.9 L439.1,501.0 L439.6,501.5 L440.1,502.6 L440.6,503.8 L441.1,505.0 L441.6,506.2 L442.1,507.4 L442.6,508.6 L443.1,509.8 L443.6,510.8 L444.1,511.6 L444.6,512.2 L445.1,512.7 L445.6,513.1 L446.1,513.4 L446.6,513.8 L447.1,514.1 L447.6,514.3 L448.1,514.4 L448.6,514.4 L449.1,514.3 L449.6,514.2 L450.1,514.1 L450.6,514.0 L451.1,513.8 L451.6,513.7 L452.1,513.5 L452.6,513.3 L453.1,513.0 L453.6,512.8 L454.1,512.6 L454.6,512.4 L455.1,512.1 L455.6,511.7 L456.1,511.3 L456.6,510.7 L457.1,510.1 L457.6,509.5 L458.1,508.9 L458.6,508.3 L459.1,507.6 L459.6,507.1 L460.1,506.5 L460.6,505.9 L461.1,505.3 L461.6,504.8 L462.1,504.3 L462.6,503.8 L463.1,503.4 L463.6,503.0 L464.1,502.7 L464.6,502.3 L465.1,502.0 L465.6,501.7 L466.1,501.5 L466.6,501.3 L467.1,501.1 L467.6,500.9 L468.1,500.8 L468.6,500.6 L469.1,500.5 L469.6,500.4 L470.1,500.2 L470.6,500.1 L471.1,500.1 L471.6,500.0 L472.1,499.9 L472.6,499.9 L473.1,499.8 L473.6,499.7 L474.1,499.6 L474.6,499.6 L475.1,499.5 L475.6,499.4 L476.1,499.4 L476.6,499.3 L477.1,499.3 L477.6,499.2 L478.1,499.2 L478.6,499.1 L479.1,499.1 L479.6,499.1 L480.1,499.0 L480.6,499.0 L481.1,499.0 L481.6,498.9 L482.1,498.9 L482.6,498.9 L483.1,498.9 L483.6,498.9 L484.1,498.9 L484.6,498.9 L485.1,498.9 L485.6,498.9 L486.1,498.9 L486.6,498.9 L487.1,498.9 L487.6,498.9 L487.6,503.5 L487.1,503.5 L486.6,503.5 L486.1,503.5 L485.6,503.5 L485.1,503.5 L484.6,503.5 L484.1,503.5 L483.6,503.5 L483.1,503.5 L482.6,503.5 L482.1,503.5 L481.6,503.5 L481.1,503.6 L480.6,503.6 L480.1,503.6 L479.6,503.7 L479.1,503.7 L478.6,503.7 L478.1,503.8 L477.6,503.8 L477.1,503.9 L476.6,503.9 L476.1,504.0 L475.6,504.0 L475.1,504.1 L474.6,504.2 L474.1,504.2 L473.6,504.3 L473.1,504.4 L472.6,504.5 L472.1,504.5 L471.6,504.6 L471.1,504.7 L470.6,504.7 L470.1,504.8 L469.6,505.0 L469.1,505.1 L468.6,505.2 L468.1,505.4 L467.6,505.5 L467.1,505.7 L466.6,505.9 L466.1,506.1 L465.6,506.3 L465.1,506.6 L464.6,506.9 L464.1,507.3 L463.6,507.6 L463.1,508.0 L462.6,508.4 L462.1,508.9 L461.6,509.4 L461.1,509.9 L460.6,510.5 L460.1,511.1 L459.6,511.7 L459.1,512.2 L458.6,512.9 L458.1,513.5 L457.6,514.1 L457.1,514.7 L456.6,515.3 L456.1,515.9 L455.6,516.3 L455.1,516.7 L454.6,517.0 L454.1,517.2 L453.6,517.4 L453.1,517.6 L452.6,517.9 L452.1,518.1 L451.6,518.3 L451.1,518.4 L450.6,518.6 L450.1,518.7 L449.6,518.8 L449.1,518.9 L448.6,519.0 L448.1,519.0 L447.6,518.9 L447.1,518.7 L446.6,518.4 L446.1,518.0 L445.6,517.7 L445.1,517.3 L444.6,516.8 L444.1,516.2 L443.6,515.4 L443.1,514.4 L442.6,513.2 L442.1,512.0 L441.6,510.8 L441.1,509.6 L440.6,508.4 L440.1,507.2 L439.6,506.1 L439.1,505.6 L438.6,505.5 L438.1,505.8 L437.6,506.6 L437.1,507.5 L436.6,508.4 L436.1,509.0 L435.6,509.3 L435.1,509.3 L434.6,509.0 L434.1,508.5 L433.6,507.8 L433.1,507.1 L432.6,506.4 L432.1,505.6 L431.6,504.8 L431.1,503.8 L430.6,502.8 L430.1,501.7 L429.6,500.5 L429.1,499.4 L428.6,498.2 L428.1,497.1 L427.6,495.9 L427.1,494.7 L426.6,493.4 L426.1,492.1 L425.6,490.7 L425.1,489.3 L424.6,487.9 L424.1,486.5 L423.6,485.2 L423.1,484.2 L422.6,483.4 L422.1,482.8 L421.6,482.4 L421.1,482.2 L420.6,481.9 L420.1,481.7 L419.6,481.4 L419.1,481.2 L418.6,480.9 L418.1,480.7 L417.6,480.5 L417.1,480.2 L416.6,480.0 L416.1,479.8 L415.6,479.5 L415.1,479.4 L414.6,479.3 L414.1,479.4 L413.6,482.5 L413.1,483.4 L412.6,484.8 L412.1,486.7 L411.6,489.0 L411.1,491.4 L410.6,499.7 L410.1,501.8 L409.6,503.5 L409.1,504.6 L408.6,505.3 L408.1,505.4 L407.6,505.1 L407.1,504.9 L406.6,504.6 Z" fill="#9a9a9a" stroke="none"/>
<path d="M402.2,463.0 V526.3 H489.5" fill="none" stroke="#333" stroke-width="1.1"/>
<line x1="406.0" y1="526.3" x2="406.0" y2="528.3" stroke="#444" stroke-width="0.7"/>
<line x1="422.7" y1="526.3" x2="422.7" y2="528.3" stroke="#444" stroke-width="0.7"/>
<line x1="439.4" y1="526.3" x2="439.4" y2="528.3" stroke="#444" stroke-width="0.7"/>
<line x1="456.1" y1="526.3" x2="456.1" y2="528.3" stroke="#444" stroke-width="0.7"/>
<line x1="472.8" y1="526.3" x2="472.8" y2="528.3" stroke="#444" stroke-width="0.7"/>
<line x1="489.5" y1="526.3" x2="489.5" y2="528.3" stroke="#444" stroke-width="0.7"/>
<line x1="400.2" y1="473.8" x2="402.2" y2="473.8" stroke="#444" stroke-width="0.7"/>
<text x="399.4" y="475.9" font-size="5.8" fill="#555" text-anchor="end" >0.40</text>
<line x1="400.2" y1="491.8" x2="402.2" y2="491.8" stroke="#444" stroke-width="0.7"/>
<text x="399.4" y="493.9" font-size="5.8" fill="#555" text-anchor="end" >0.00</text>
<line x1="400.2" y1="509.8" x2="402.2" y2="509.8" stroke="#444" stroke-width="0.7"/>
<text x="399.4" y="511.9" font-size="5.8" fill="#555" text-anchor="end" >−0.40</text>
<line x1="402.2" y1="491.8" x2="489.5" y2="491.8" stroke="#333" stroke-width="0.8" stroke-dasharray="1.4,1.8"/>
<text x="378.3" y="495.1" font-size="7.5" fill="#333" text-anchor="middle" transform="rotate(-90 378.3 495.1)" dy="2.5">β<tspan font-size="5" dy="1.5">1</tspan><tspan dy="-1.5">(s)</tspan></text>
<polyline points="406.6,493.6 407.1,493.9 407.6,494.1 408.1,494.4 408.6,494.3 409.1,493.6 409.6,492.5 410.1,490.8 410.6,488.7 411.1,486.4 411.6,484.0 412.1,481.7 412.6,479.8 413.1,478.4 413.6,477.5 414.1,477.1 414.6,477.0 415.1,477.1 415.6,477.2 416.1,477.5 416.6,477.7 417.1,477.9 417.6,478.2 418.1,478.4 418.6,478.6 419.1,478.9 419.6,479.1 420.1,479.4 420.6,479.6 421.1,479.9 421.6,480.1 422.1,480.5 422.6,481.1 423.1,481.9 423.6,482.9 424.1,484.2 424.6,485.6 425.1,487.0 425.6,488.4 426.1,489.8 426.6,491.1 427.1,492.4 427.6,493.6 428.1,494.8 428.6,495.9 429.1,497.1 429.6,498.2 430.1,499.4 430.6,500.5 431.1,501.5 431.6,502.5 432.1,503.3 432.6,504.1 433.1,504.8 433.6,505.5 434.1,506.2 434.6,506.7 435.1,507.0 435.6,507.0 436.1,506.7 436.6,506.1 437.1,505.2 437.6,504.3 438.1,503.5 438.6,503.2 439.1,503.3 439.6,503.8 440.1,504.9 440.6,506.1 441.1,507.3 441.6,508.5 442.1,509.7 442.6,510.9 443.1,512.1 443.6,513.1 444.1,513.9 444.6,514.5 445.1,515.0 445.6,515.4 446.1,515.7 446.6,516.1 447.1,516.4 447.6,516.6 448.1,516.7 448.6,516.7 449.1,516.6 449.6,516.5 450.1,516.4 450.6,516.3 451.1,516.1 451.6,516.0 452.1,515.8 452.6,515.6 453.1,515.3 453.6,515.1 454.1,514.9 454.6,514.7 455.1,514.4 455.6,514.0 456.1,513.6 456.6,513.0 457.1,512.4 457.6,511.8 458.1,511.2 458.6,510.6 459.1,509.9 459.6,509.4 460.1,508.8 460.6,508.2 461.1,507.6 461.6,507.1 462.1,506.6 462.6,506.1 463.1,505.7 463.6,505.3 464.1,505.0 464.6,504.6 465.1,504.3 465.6,504.0 466.1,503.8 466.6,503.6 467.1,503.4 467.6,503.2 468.1,503.1 468.6,502.9 469.1,502.8 469.6,502.7 470.1,502.5 470.6,502.4 471.1,502.4 471.6,502.3 472.1,502.2 472.6,502.2 473.1,502.1 473.6,502.0 474.1,501.9 474.6,501.9 475.1,501.8 475.6,501.7 476.1,501.7 476.6,501.6 477.1,501.6 477.6,501.5 478.1,501.5 478.6,501.4 479.1,501.4 479.6,501.4 480.1,501.3 480.6,501.3 481.1,501.3 481.6,501.2 482.1,501.2 482.6,501.2 483.1,501.2 483.6,501.2 484.1,501.2 484.6,501.2 485.1,501.2 485.6,501.2 486.1,501.2 486.6,501.2 487.1,501.2 487.6,501.2" fill="none" stroke="#1f25c8" stroke-width="1.9" stroke-linejoin="round"/>
<path d="M531.0,475.0 L531.5,475.0 L532.0,474.9 L532.5,474.9 L533.0,474.8 L533.5,474.6 L534.0,474.4 L534.5,474.1 L535.0,473.8 L535.5,473.4 L536.0,474.4 L536.5,474.1 L537.0,473.8 L537.5,473.6 L538.0,473.5 L538.5,473.5 L539.0,473.4 L539.5,473.4 L540.0,473.3 L540.5,473.2 L541.0,473.2 L541.5,473.1 L542.0,473.1 L542.5,473.0 L543.0,473.0 L543.5,472.9 L544.0,472.9 L544.5,472.8 L545.0,472.7 L545.5,472.7 L546.0,472.7 L546.5,472.7 L547.0,472.7 L547.5,472.8 L548.0,472.9 L548.5,472.9 L549.0,473.0 L549.5,473.1 L550.0,473.2 L550.5,473.3 L551.0,473.5 L551.5,473.7 L552.0,473.9 L552.5,474.0 L553.0,474.2 L553.5,474.4 L554.0,474.6 L554.5,474.9 L555.0,475.1 L555.5,475.4 L556.0,475.6 L556.5,475.8 L557.0,475.8 L557.5,475.8 L558.0,475.6 L558.5,475.3 L559.0,475.0 L559.5,474.6 L560.0,474.1 L560.5,474.1 L561.0,474.6 L561.5,475.6 L562.0,477.1 L562.5,479.4 L563.0,481.9 L563.5,484.6 L564.0,487.6 L564.5,490.7 L565.0,493.7 L565.5,496.5 L566.0,499.1 L566.5,501.4 L567.0,503.4 L567.5,505.1 L568.0,506.6 L568.5,507.7 L569.0,508.7 L569.5,509.6 L570.0,510.4 L570.5,510.9 L571.0,511.3 L571.5,511.6 L572.0,511.9 L572.5,511.9 L573.0,511.7 L573.5,511.5 L574.0,511.1 L574.5,510.5 L575.0,509.8 L575.5,509.0 L576.0,508.1 L576.5,507.1 L577.0,506.2 L577.5,505.3 L578.0,504.4 L578.5,503.6 L579.0,502.8 L579.5,501.9 L580.0,501.0 L580.5,500.1 L581.0,499.1 L581.5,498.1 L582.0,497.1 L582.5,496.1 L583.0,495.2 L583.5,494.3 L584.0,493.4 L584.5,492.6 L585.0,491.8 L585.5,491.0 L586.0,490.4 L586.5,489.8 L587.0,489.3 L587.5,488.9 L588.0,488.4 L588.5,488.1 L589.0,487.8 L589.5,487.5 L590.0,487.3 L590.5,487.1 L591.0,486.9 L591.5,486.8 L592.0,486.6 L592.5,486.4 L593.0,486.3 L593.5,486.1 L594.0,485.9 L594.5,485.8 L595.0,485.8 L595.5,485.8 L596.0,485.9 L596.5,486.1 L597.0,486.3 L597.5,486.4 L598.0,486.5 L598.5,486.5 L599.0,486.4 L599.5,486.4 L600.0,486.3 L600.5,486.2 L601.0,486.2 L601.5,486.1 L602.0,486.1 L602.5,486.1 L603.0,486.1 L603.5,486.1 L604.0,486.0 L604.5,485.9 L605.0,485.8 L605.5,485.6 L606.0,485.4 L606.5,485.3 L607.0,485.2 L607.5,485.2 L608.0,485.3 L608.5,485.4 L609.0,485.4 L609.5,485.5 L610.0,485.6 L610.5,485.7 L611.0,485.9 L611.5,485.9 L612.0,486.0 L612.0,491.0 L611.5,490.9 L611.0,490.9 L610.5,490.7 L610.0,490.6 L609.5,490.5 L609.0,490.4 L608.5,490.4 L608.0,490.3 L607.5,490.2 L607.0,490.2 L606.5,490.3 L606.0,490.4 L605.5,490.6 L605.0,490.8 L604.5,490.9 L604.0,491.0 L603.5,491.1 L603.0,491.1 L602.5,491.1 L602.0,491.1 L601.5,491.1 L601.0,491.2 L600.5,491.2 L600.0,491.3 L599.5,491.4 L599.0,491.4 L598.5,491.5 L598.0,491.5 L597.5,491.4 L597.0,491.3 L596.5,491.1 L596.0,490.9 L595.5,490.8 L595.0,490.8 L594.5,490.8 L594.0,490.9 L593.5,491.1 L593.0,491.3 L592.5,491.4 L592.0,491.6 L591.5,491.8 L591.0,491.9 L590.5,492.1 L590.0,492.3 L589.5,492.5 L589.0,492.8 L588.5,493.1 L588.0,493.4 L587.5,493.9 L587.0,494.3 L586.5,494.8 L586.0,495.4 L585.5,496.0 L585.0,496.8 L584.5,497.6 L584.0,498.4 L583.5,499.3 L583.0,500.2 L582.5,501.1 L582.0,502.1 L581.5,503.1 L581.0,504.1 L580.5,505.1 L580.0,506.0 L579.5,506.9 L579.0,507.8 L578.5,508.6 L578.0,509.4 L577.5,510.3 L577.0,511.2 L576.5,512.1 L576.0,513.1 L575.5,514.0 L575.0,514.8 L574.5,515.5 L574.0,516.1 L573.5,516.5 L573.0,516.7 L572.5,516.9 L572.0,516.9 L571.5,516.6 L571.0,516.3 L570.5,515.9 L570.0,515.4 L569.5,514.6 L569.0,513.7 L568.5,512.7 L568.0,511.6 L567.5,510.1 L567.0,508.4 L566.5,506.4 L566.0,504.1 L565.5,501.5 L565.0,498.7 L564.5,495.7 L564.0,492.6 L563.5,489.6 L563.0,486.9 L562.5,484.4 L562.0,482.1 L561.5,480.6 L561.0,479.6 L560.5,479.1 L560.0,479.1 L559.5,479.6 L559.0,480.0 L558.5,480.3 L558.0,480.6 L557.5,480.8 L557.0,480.8 L556.5,480.8 L556.0,480.6 L555.5,480.4 L555.0,480.1 L554.5,479.9 L554.0,479.6 L553.5,479.4 L553.0,479.2 L552.5,479.0 L552.0,478.9 L551.5,478.7 L551.0,478.5 L550.5,478.3 L550.0,478.2 L549.5,478.1 L549.0,478.0 L548.5,477.9 L548.0,477.9 L547.5,477.8 L547.0,477.7 L546.5,477.7 L546.0,477.7 L545.5,477.7 L545.0,477.7 L544.5,477.8 L544.0,477.9 L543.5,477.9 L543.0,478.0 L542.5,478.0 L542.0,478.1 L541.5,478.1 L541.0,478.2 L540.5,478.2 L540.0,478.3 L539.5,478.4 L539.0,478.4 L538.5,478.5 L538.0,478.5 L537.5,478.6 L537.0,478.8 L536.5,479.1 L536.0,479.4 L535.5,481.4 L535.0,481.8 L534.5,482.1 L534.0,482.4 L533.5,482.6 L533.0,482.8 L532.5,482.9 L532.0,482.9 L531.5,483.0 L531.0,483.0 Z" fill="#9a9a9a" stroke="none"/>
<path d="M527.3,463.0 V526.3 H616" fill="none" stroke="#333" stroke-width="1.1"/>
<line x1="531.0" y1="526.3" x2="531.0" y2="528.3" stroke="#444" stroke-width="0.7"/>
<line x1="547.7" y1="526.3" x2="547.7" y2="528.3" stroke="#444" stroke-width="0.7"/>
<line x1="564.4" y1="526.3" x2="564.4" y2="528.3" stroke="#444" stroke-width="0.7"/>
<line x1="581.1" y1="526.3" x2="581.1" y2="528.3" stroke="#444" stroke-width="0.7"/>
<line x1="597.8" y1="526.3" x2="597.8" y2="528.3" stroke="#444" stroke-width="0.7"/>
<line x1="614.5" y1="526.3" x2="614.5" y2="528.3" stroke="#444" stroke-width="0.7"/>
<line x1="525.3" y1="463.0" x2="527.3" y2="463.0" stroke="#444" stroke-width="0.7"/>
<text x="524.5" y="465.1" font-size="5.8" fill="#555" text-anchor="end" >0.00</text>
<line x1="525.3" y1="478.6" x2="527.3" y2="478.6" stroke="#444" stroke-width="0.7"/>
<text x="524.5" y="480.7" font-size="5.8" fill="#555" text-anchor="end" >0.00</text>
<line x1="525.3" y1="494.2" x2="527.3" y2="494.2" stroke="#444" stroke-width="0.7"/>
<text x="524.5" y="496.3" font-size="5.8" fill="#555" text-anchor="end" >−0.00</text>
<line x1="525.3" y1="509.8" x2="527.3" y2="509.8" stroke="#444" stroke-width="0.7"/>
<text x="524.5" y="511.9" font-size="5.8" fill="#555" text-anchor="end" >−0.00</text>
<line x1="525.3" y1="525.4" x2="527.3" y2="525.4" stroke="#444" stroke-width="0.7"/>
<text x="524.5" y="527.5" font-size="5.8" fill="#555" text-anchor="end" >−0.00</text>
<line x1="527.3" y1="478.6" x2="616" y2="478.6" stroke="#333" stroke-width="0.8" stroke-dasharray="1.4,1.8"/>
<text x="503.0" y="495.1" font-size="7.5" fill="#333" text-anchor="middle" transform="rotate(-90 503.0 495.1)" dy="2.5">β<tspan font-size="5" dy="1.5">2</tspan><tspan dy="-1.5">(s)</tspan></text>
<polyline points="531.0,479.0 531.5,479.0 532.0,478.9 532.5,478.9 533.0,478.8 533.5,478.6 534.0,478.4 534.5,478.1 535.0,477.8 535.5,477.4 536.0,476.9 536.5,476.6 537.0,476.3 537.5,476.1 538.0,476.0 538.5,476.0 539.0,475.9 539.5,475.9 540.0,475.8 540.5,475.8 541.0,475.7 541.5,475.6 542.0,475.6 542.5,475.5 543.0,475.5 543.5,475.4 544.0,475.4 544.5,475.3 545.0,475.2 545.5,475.2 546.0,475.2 546.5,475.2 547.0,475.2 547.5,475.3 548.0,475.4 548.5,475.4 549.0,475.5 549.5,475.6 550.0,475.7 550.5,475.8 551.0,476.0 551.5,476.2 552.0,476.4 552.5,476.5 553.0,476.7 553.5,476.9 554.0,477.1 554.5,477.4 555.0,477.6 555.5,477.9 556.0,478.1 556.5,478.2 557.0,478.3 557.5,478.2 558.0,478.1 558.5,477.8 559.0,477.5 559.5,477.1 560.0,476.6 560.5,476.6 561.0,477.1 561.5,478.1 562.0,479.6 562.5,481.9 563.0,484.4 563.5,487.1 564.0,490.1 564.5,493.2 565.0,496.2 565.5,499.0 566.0,501.6 566.5,503.9 567.0,505.9 567.5,507.6 568.0,509.1 568.5,510.2 569.0,511.2 569.5,512.1 570.0,512.9 570.5,513.4 571.0,513.8 571.5,514.1 572.0,514.4 572.5,514.4 573.0,514.2 573.5,514.0 574.0,513.6 574.5,513.0 575.0,512.3 575.5,511.5 576.0,510.6 576.5,509.6 577.0,508.7 577.5,507.8 578.0,506.9 578.5,506.1 579.0,505.3 579.5,504.4 580.0,503.5 580.5,502.6 581.0,501.6 581.5,500.6 582.0,499.6 582.5,498.6 583.0,497.7 583.5,496.8 584.0,495.9 584.5,495.1 585.0,494.3 585.5,493.5 586.0,492.9 586.5,492.3 587.0,491.8 587.5,491.4 588.0,490.9 588.5,490.6 589.0,490.2 589.5,490.0 590.0,489.8 590.5,489.6 591.0,489.4 591.5,489.3 592.0,489.1 592.5,488.9 593.0,488.8 593.5,488.6 594.0,488.4 594.5,488.3 595.0,488.3 595.5,488.3 596.0,488.4 596.5,488.6 597.0,488.8 597.5,488.9 598.0,489.0 598.5,489.0 599.0,488.9 599.5,488.9 600.0,488.8 600.5,488.7 601.0,488.7 601.5,488.6 602.0,488.6 602.5,488.6 603.0,488.6 603.5,488.6 604.0,488.5 604.5,488.4 605.0,488.3 605.5,488.1 606.0,487.9 606.5,487.8 607.0,487.8 607.5,487.7 608.0,487.8 608.5,487.9 609.0,487.9 609.5,488.0 610.0,488.1 610.5,488.2 611.0,488.4 611.5,488.4 612.0,488.5" fill="none" stroke="#1f25c8" stroke-width="1.9" stroke-linejoin="round"/>
<path d="M279.8,593.0 L280.3,593.0 L280.8,593.0 L281.3,592.9 L281.8,592.8 L282.3,592.7 L282.8,592.4 L283.3,591.7 L283.8,590.9 L284.3,589.8 L284.8,588.7 L285.3,587.8 L285.8,587.1 L286.3,586.6 L286.8,586.4 L287.3,586.2 L287.8,586.2 L288.3,586.3 L288.8,586.5 L289.3,586.8 L289.8,587.1 L290.3,587.3 L290.8,587.6 L291.3,587.8 L291.8,588.0 L292.3,588.2 L292.8,588.4 L293.3,588.6 L293.8,588.7 L294.3,588.9 L294.8,589.1 L295.3,589.2 L295.8,589.3 L296.3,589.4 L296.8,589.5 L297.3,589.5 L297.8,589.6 L298.3,589.6 L298.8,589.6 L299.3,589.7 L299.8,589.7 L300.3,589.8 L300.8,589.8 L301.3,589.9 L301.8,589.9 L302.3,590.0 L302.8,590.0 L303.3,590.1 L303.8,590.1 L304.3,590.2 L304.8,590.3 L305.3,590.3 L305.8,590.4 L306.3,590.5 L306.8,590.5 L307.3,590.6 L307.8,590.7 L308.3,590.7 L308.8,590.6 L309.3,590.6 L309.8,590.2 L310.3,589.4 L310.8,588.1 L311.3,586.0 L311.8,583.0 L312.3,572.1 L312.8,568.4 L313.3,564.7 L313.8,561.2 L314.3,558.4 L314.8,556.3 L315.3,554.6 L315.8,553.3 L316.3,552.6 L316.8,552.2 L317.3,552.1 L317.8,552.2 L318.3,552.5 L318.8,552.9 L319.3,553.4 L319.8,553.9 L320.3,554.6 L320.8,555.2 L321.3,555.8 L321.8,556.4 L322.3,556.9 L322.8,557.4 L323.3,557.9 L323.8,558.4 L324.3,558.9 L324.8,559.3 L325.3,559.8 L325.8,560.3 L326.3,560.9 L326.8,561.6 L327.3,562.3 L327.8,563.0 L328.3,563.8 L328.8,564.5 L329.3,565.2 L329.8,565.9 L330.3,566.6 L330.8,567.2 L331.3,567.8 L331.8,568.3 L332.3,568.9 L332.8,569.5 L333.3,570.0 L333.8,570.6 L334.3,571.1 L334.8,571.6 L335.3,572.1 L335.8,572.5 L336.3,573.0 L336.8,573.5 L337.3,573.9 L337.8,574.4 L338.3,574.9 L338.8,575.3 L339.3,575.8 L339.8,576.2 L340.3,576.7 L340.8,577.1 L341.3,577.4 L341.8,577.8 L342.3,578.1 L342.8,578.5 L343.3,578.8 L343.8,579.1 L344.3,579.4 L344.8,579.7 L345.3,579.9 L345.8,580.2 L346.3,580.4 L346.8,580.6 L347.3,580.9 L347.8,581.1 L348.3,581.3 L348.8,581.4 L349.3,581.5 L349.8,581.6 L350.3,581.7 L350.8,581.8 L351.3,581.8 L351.8,581.9 L352.3,582.0 L352.8,582.1 L353.3,582.2 L353.8,582.2 L354.3,582.3 L354.8,582.4 L355.3,582.5 L355.8,582.5 L356.3,582.6 L356.8,582.6 L357.3,582.6 L357.8,582.5 L358.3,582.5 L358.8,582.5 L359.3,582.5 L359.8,582.5 L360.3,582.5 L360.8,582.5 L361.3,582.5 L361.8,582.5 L362.3,582.5 L362.3,600.5 L361.8,600.5 L361.3,600.5 L360.8,600.5 L360.3,600.5 L359.8,600.5 L359.3,600.5 L358.8,600.5 L358.3,600.5 L357.8,600.5 L357.3,600.6 L356.8,600.6 L356.3,600.6 L355.8,600.6 L355.3,600.7 L354.8,600.8 L354.3,600.9 L353.8,601.0 L353.3,601.1 L352.8,601.2 L352.3,601.3 L351.8,601.4 L351.3,601.5 L350.8,601.6 L350.3,601.7 L349.8,601.8 L349.3,601.9 L348.8,602.0 L348.3,602.0 L347.8,602.0 L347.3,602.0 L346.8,601.9 L346.3,601.9 L345.8,601.8 L345.3,601.8 L344.8,601.7 L344.3,601.6 L343.8,601.5 L343.3,601.4 L342.8,601.2 L342.3,601.1 L341.8,600.9 L341.3,600.7 L340.8,600.5 L340.3,600.3 L339.8,600.1 L339.3,599.8 L338.8,599.5 L338.3,599.2 L337.8,599.0 L337.3,598.7 L336.8,598.4 L336.3,598.1 L335.8,597.8 L335.3,597.5 L334.8,597.2 L334.3,596.9 L333.8,596.6 L333.3,596.2 L332.8,595.8 L332.3,595.4 L331.8,595.1 L331.3,594.7 L330.8,594.3 L330.3,593.8 L329.8,593.4 L329.3,592.9 L328.8,592.3 L328.3,591.7 L327.8,591.2 L327.3,590.6 L326.8,590.1 L326.3,589.6 L325.8,589.1 L325.3,588.6 L324.8,588.1 L324.3,587.7 L323.8,587.2 L323.3,586.7 L322.8,586.2 L322.3,585.7 L321.8,585.2 L321.3,584.6 L320.8,584.0 L320.3,583.4 L319.8,582.7 L319.3,582.2 L318.8,581.7 L318.3,581.3 L317.8,581.0 L317.3,580.9 L316.8,581.0 L316.3,581.4 L315.8,582.1 L315.3,583.4 L314.8,585.1 L314.3,587.2 L313.8,590.0 L313.3,593.5 L312.8,597.2 L312.3,600.9 L311.8,597.4 L311.3,600.4 L310.8,602.5 L310.3,603.8 L309.8,604.6 L309.3,605.0 L308.8,605.0 L308.3,605.1 L307.8,605.1 L307.3,605.0 L306.8,604.9 L306.3,604.9 L305.8,604.8 L305.3,604.7 L304.8,604.7 L304.3,604.6 L303.8,604.5 L303.3,604.5 L302.8,604.4 L302.3,604.4 L301.8,604.3 L301.3,604.3 L300.8,604.2 L300.3,604.2 L299.8,604.1 L299.3,604.1 L298.8,604.0 L298.3,604.0 L297.8,604.0 L297.3,603.9 L296.8,603.9 L296.3,603.8 L295.8,603.7 L295.3,603.6 L294.8,603.5 L294.3,603.3 L293.8,603.1 L293.3,603.0 L292.8,602.8 L292.3,602.6 L291.8,602.4 L291.3,602.2 L290.8,602.0 L290.3,601.7 L289.8,601.5 L289.3,601.2 L288.8,600.9 L288.3,600.7 L287.8,600.6 L287.3,600.6 L286.8,600.8 L286.3,601.0 L285.8,601.5 L285.3,602.2 L284.8,603.1 L284.3,604.2 L283.8,605.3 L283.3,606.1 L282.8,606.8 L282.3,607.1 L281.8,607.2 L281.3,607.3 L280.8,607.4 L280.3,607.4 L279.8,607.4 Z" fill="#d0d0d0" stroke="none"/>
<path d="M279.8,596.2 L280.3,596.2 L280.8,596.2 L281.3,596.1 L281.8,596.0 L282.3,595.9 L282.8,595.6 L283.3,594.9 L283.8,594.1 L284.3,593.0 L284.8,591.9 L285.3,591.0 L285.8,590.3 L286.3,589.8 L286.8,589.6 L287.3,589.4 L287.8,589.4 L288.3,589.5 L288.8,589.7 L289.3,590.0 L289.8,590.3 L290.3,590.5 L290.8,590.8 L291.3,591.0 L291.8,591.2 L292.3,591.4 L292.8,591.6 L293.3,591.8 L293.8,591.9 L294.3,592.1 L294.8,592.3 L295.3,592.4 L295.8,592.5 L296.3,592.6 L296.8,592.7 L297.3,592.7 L297.8,592.8 L298.3,592.8 L298.8,592.8 L299.3,592.9 L299.8,592.9 L300.3,593.0 L300.8,593.0 L301.3,593.1 L301.8,593.1 L302.3,593.2 L302.8,593.2 L303.3,593.3 L303.8,593.3 L304.3,593.4 L304.8,593.5 L305.3,593.5 L305.8,593.6 L306.3,593.7 L306.8,593.7 L307.3,593.8 L307.8,593.9 L308.3,593.9 L308.8,593.8 L309.3,593.8 L309.8,593.4 L310.3,592.6 L310.8,591.3 L311.3,589.2 L311.8,586.2 L312.3,578.5 L312.8,574.8 L313.3,571.1 L313.8,567.6 L314.3,564.8 L314.8,562.7 L315.3,561.0 L315.8,559.7 L316.3,559.0 L316.8,558.6 L317.3,558.5 L317.8,558.6 L318.3,558.9 L318.8,559.3 L319.3,559.8 L319.8,560.3 L320.3,561.0 L320.8,561.6 L321.3,562.2 L321.8,562.8 L322.3,563.3 L322.8,563.8 L323.3,564.3 L323.8,564.8 L324.3,565.3 L324.8,565.7 L325.3,566.2 L325.8,566.7 L326.3,567.3 L326.8,567.9 L327.3,568.6 L327.8,569.3 L328.3,570.0 L328.8,570.7 L329.3,571.4 L329.8,572.0 L330.3,572.6 L330.8,573.2 L331.3,573.8 L331.8,574.3 L332.3,574.8 L332.8,575.3 L333.3,575.8 L333.8,576.3 L334.3,576.8 L334.8,577.3 L335.3,577.7 L335.8,578.2 L336.3,578.6 L336.8,579.0 L337.3,579.4 L337.8,579.9 L338.3,580.3 L338.8,580.7 L339.3,581.1 L339.8,581.5 L340.3,581.9 L340.8,582.3 L341.3,582.6 L341.8,582.9 L342.3,583.2 L342.8,583.5 L343.3,583.8 L343.8,584.1 L344.3,584.3 L344.8,584.6 L345.3,584.8 L345.8,585.0 L346.3,585.2 L346.8,585.4 L347.3,585.6 L347.8,585.7 L348.3,585.9 L348.8,586.0 L349.3,586.1 L349.8,586.1 L350.3,586.1 L350.8,586.2 L351.3,586.2 L351.8,586.2 L352.3,586.3 L352.8,586.3 L353.3,586.4 L353.8,586.4 L354.3,586.4 L354.8,586.5 L355.3,586.5 L355.8,586.6 L356.3,586.6 L356.8,586.6 L357.3,586.6 L357.8,586.5 L358.3,586.5 L358.8,586.5 L359.3,586.5 L359.8,586.5 L360.3,586.5 L360.8,586.5 L361.3,586.5 L361.8,586.5 L362.3,586.5 L362.3,596.5 L361.8,596.5 L361.3,596.5 L360.8,596.5 L360.3,596.5 L359.8,596.5 L359.3,596.5 L358.8,596.5 L358.3,596.5 L357.8,596.5 L357.3,596.6 L356.8,596.6 L356.3,596.6 L355.8,596.6 L355.3,596.7 L354.8,596.7 L354.3,596.8 L353.8,596.8 L353.3,596.9 L352.8,597.0 L352.3,597.0 L351.8,597.1 L351.3,597.2 L350.8,597.2 L350.3,597.3 L349.8,597.3 L349.3,597.4 L348.8,597.4 L348.3,597.4 L347.8,597.4 L347.3,597.3 L346.8,597.2 L346.3,597.1 L345.8,597.0 L345.3,596.9 L344.8,596.8 L344.3,596.7 L343.8,596.5 L343.3,596.4 L342.8,596.2 L342.3,596.0 L341.8,595.8 L341.3,595.6 L340.8,595.3 L340.3,595.1 L339.8,594.8 L339.3,594.5 L338.8,594.1 L338.3,593.8 L337.8,593.5 L337.3,593.2 L336.8,592.9 L336.3,592.5 L335.8,592.2 L335.3,591.9 L334.8,591.5 L334.3,591.2 L333.8,590.8 L333.3,590.4 L332.8,590.0 L332.3,589.5 L331.8,589.1 L331.3,588.7 L330.8,588.3 L330.3,587.8 L329.8,587.3 L329.3,586.7 L328.8,586.1 L328.3,585.5 L327.8,584.9 L327.3,584.3 L326.8,583.7 L326.3,583.2 L325.8,582.7 L325.3,582.2 L324.8,581.7 L324.3,581.3 L323.8,580.8 L323.3,580.3 L322.8,579.8 L322.3,579.3 L321.8,578.8 L321.3,578.2 L320.8,577.6 L320.3,577.0 L319.8,576.3 L319.3,575.8 L318.8,575.3 L318.3,574.9 L317.8,574.6 L317.3,574.5 L316.8,574.6 L316.3,575.0 L315.8,575.7 L315.3,577.0 L314.8,578.7 L314.3,580.8 L313.8,583.6 L313.3,587.1 L312.8,590.8 L312.3,594.5 L311.8,594.2 L311.3,597.2 L310.8,599.3 L310.3,600.6 L309.8,601.4 L309.3,601.8 L308.8,601.8 L308.3,601.9 L307.8,601.9 L307.3,601.8 L306.8,601.7 L306.3,601.7 L305.8,601.6 L305.3,601.5 L304.8,601.5 L304.3,601.4 L303.8,601.3 L303.3,601.3 L302.8,601.2 L302.3,601.2 L301.8,601.1 L301.3,601.1 L300.8,601.0 L300.3,601.0 L299.8,600.9 L299.3,600.9 L298.8,600.8 L298.3,600.8 L297.8,600.8 L297.3,600.7 L296.8,600.7 L296.3,600.6 L295.8,600.5 L295.3,600.4 L294.8,600.3 L294.3,600.1 L293.8,599.9 L293.3,599.8 L292.8,599.6 L292.3,599.4 L291.8,599.2 L291.3,599.0 L290.8,598.8 L290.3,598.5 L289.8,598.3 L289.3,598.0 L288.8,597.7 L288.3,597.5 L287.8,597.4 L287.3,597.4 L286.8,597.6 L286.3,597.8 L285.8,598.3 L285.3,599.0 L284.8,599.9 L284.3,601.0 L283.8,602.1 L283.3,602.9 L282.8,603.6 L282.3,603.9 L281.8,604.0 L281.3,604.1 L280.8,604.2 L280.3,604.2 L279.8,604.2 Z" fill="#9a9a9a" stroke="none"/>
<path d="M276.0,546.5 V610.6 H367" fill="none" stroke="#333" stroke-width="1.1"/>
<line x1="279.9" y1="610.6" x2="279.9" y2="612.6" stroke="#444" stroke-width="0.7"/>
<line x1="296.6" y1="610.6" x2="296.6" y2="612.6" stroke="#444" stroke-width="0.7"/>
<line x1="313.3" y1="610.6" x2="313.3" y2="612.6" stroke="#444" stroke-width="0.7"/>
<line x1="330.0" y1="610.6" x2="330.0" y2="612.6" stroke="#444" stroke-width="0.7"/>
<line x1="346.7" y1="610.6" x2="346.7" y2="612.6" stroke="#444" stroke-width="0.7"/>
<line x1="363.4" y1="610.6" x2="363.4" y2="612.6" stroke="#444" stroke-width="0.7"/>
<line x1="274.0" y1="556.8" x2="276.0" y2="556.8" stroke="#444" stroke-width="0.7"/>
<text x="273.2" y="558.9" font-size="5.8" fill="#555" text-anchor="end" >3.00</text>
<line x1="274.0" y1="571.3" x2="276.0" y2="571.3" stroke="#444" stroke-width="0.7"/>
<text x="273.2" y="573.4" font-size="5.8" fill="#555" text-anchor="end" >2.00</text>
<line x1="274.0" y1="585.8" x2="276.0" y2="585.8" stroke="#444" stroke-width="0.7"/>
<text x="273.2" y="587.9" font-size="5.8" fill="#555" text-anchor="end" >1.00</text>
<line x1="274.0" y1="600.3" x2="276.0" y2="600.3" stroke="#444" stroke-width="0.7"/>
<text x="273.2" y="602.4" font-size="5.8" fill="#555" text-anchor="end" >0.00</text>
<line x1="276.0" y1="600.3" x2="367" y2="600.3" stroke="#333" stroke-width="0.8" stroke-dasharray="1.4,1.8"/>
<text x="254.5" y="579.0" font-size="7.5" fill="#333" text-anchor="middle" transform="rotate(-90 254.5 579.0)" dy="2.5">β<tspan font-size="5" dy="1.5">0</tspan><tspan dy="-1.5">(s)</tspan></text>
<polyline points="279.8,600.2 280.3,600.2 280.8,600.2 281.3,600.1 281.8,600.0 282.3,599.9 282.8,599.6 283.3,598.9 283.8,598.1 284.3,597.0 284.8,595.9 285.3,595.0 285.8,594.3 286.3,593.8 286.8,593.6 287.3,593.4 287.8,593.4 288.3,593.5 288.8,593.7 289.3,594.0 289.8,594.3 290.3,594.5 290.8,594.8 291.3,595.0 291.8,595.2 292.3,595.4 292.8,595.6 293.3,595.8 293.8,595.9 294.3,596.1 294.8,596.3 295.3,596.4 295.8,596.5 296.3,596.6 296.8,596.7 297.3,596.7 297.8,596.8 298.3,596.8 298.8,596.8 299.3,596.9 299.8,596.9 300.3,597.0 300.8,597.0 301.3,597.1 301.8,597.1 302.3,597.2 302.8,597.2 303.3,597.3 303.8,597.3 304.3,597.4 304.8,597.5 305.3,597.5 305.8,597.6 306.3,597.7 306.8,597.7 307.3,597.8 307.8,597.9 308.3,597.9 308.8,597.8 309.3,597.8 309.8,597.4 310.3,596.6 310.8,595.3 311.3,593.2 311.8,590.2 312.3,586.5 312.8,582.8 313.3,579.1 313.8,575.6 314.3,572.8 314.8,570.7 315.3,569.0 315.8,567.7 316.3,567.0 316.8,566.6 317.3,566.5 317.8,566.6 318.3,566.9 318.8,567.3 319.3,567.8 319.8,568.3 320.3,569.0 320.8,569.6 321.3,570.2 321.8,570.8 322.3,571.3 322.8,571.8 323.3,572.3 323.8,572.8 324.3,573.3 324.8,573.7 325.3,574.2 325.8,574.7 326.3,575.2 326.8,575.8 327.3,576.4 327.8,577.1 328.3,577.7 328.8,578.4 329.3,579.0 329.8,579.7 330.3,580.2 330.8,580.7 331.3,581.2 331.8,581.7 332.3,582.2 332.8,582.6 333.3,583.1 333.8,583.6 334.3,584.0 334.8,584.4 335.3,584.8 335.8,585.2 336.3,585.6 336.8,585.9 337.3,586.3 337.8,586.7 338.3,587.1 338.8,587.4 339.3,587.8 339.8,588.2 340.3,588.5 340.8,588.8 341.3,589.1 341.8,589.3 342.3,589.6 342.8,589.8 343.3,590.1 343.8,590.3 344.3,590.5 344.8,590.7 345.3,590.8 345.8,591.0 346.3,591.1 346.8,591.3 347.3,591.4 347.8,591.6 348.3,591.6 348.8,591.7 349.3,591.7 349.8,591.7 350.3,591.7 350.8,591.7 351.3,591.7 351.8,591.7 352.3,591.7 352.8,591.6 353.3,591.6 353.8,591.6 354.3,591.6 354.8,591.6 355.3,591.6 355.8,591.6 356.3,591.6 356.8,591.6 357.3,591.6 357.8,591.5 358.3,591.5 358.8,591.5 359.3,591.5 359.8,591.5 360.3,591.5 360.8,591.5 361.3,591.5 361.8,591.5 362.3,591.5" fill="none" stroke="#1f25c8" stroke-width="1.9" stroke-linejoin="round"/>
<path d="M406.6,555.5 L407.1,555.8 L407.6,556.0 L408.1,556.3 L408.6,556.2 L409.1,555.5 L409.6,554.4 L410.1,552.7 L410.6,550.6 L411.1,560.3 L411.6,557.9 L412.1,555.6 L412.6,553.7 L413.1,552.3 L413.6,551.4 L414.1,555.0 L414.6,554.9 L415.1,555.0 L415.6,555.1 L416.1,555.4 L416.6,555.6 L417.1,555.8 L417.6,556.1 L418.1,556.3 L418.6,556.5 L419.1,556.8 L419.6,557.0 L420.1,557.3 L420.6,557.5 L421.1,557.8 L421.6,558.0 L422.1,558.4 L422.6,559.0 L423.1,559.8 L423.6,560.8 L424.1,562.1 L424.6,563.5 L425.1,564.9 L425.6,566.3 L426.1,567.7 L426.6,569.0 L427.1,570.3 L427.6,571.5 L428.1,572.7 L428.6,573.8 L429.1,575.0 L429.6,576.1 L430.1,577.3 L430.6,578.4 L431.1,579.4 L431.6,580.4 L432.1,581.2 L432.6,582.0 L433.1,582.7 L433.6,583.4 L434.1,584.1 L434.6,584.6 L435.1,584.9 L435.6,584.9 L436.1,584.6 L436.6,584.0 L437.1,583.1 L437.6,582.2 L438.1,581.4 L438.6,581.1 L439.1,581.2 L439.6,581.7 L440.1,582.8 L440.6,584.0 L441.1,585.2 L441.6,586.4 L442.1,587.6 L442.6,588.8 L443.1,590.0 L443.6,591.0 L444.1,591.8 L444.6,592.4 L445.1,592.9 L445.6,593.3 L446.1,593.6 L446.6,594.0 L447.1,594.3 L447.6,594.5 L448.1,594.6 L448.6,594.6 L449.1,594.5 L449.6,594.4 L450.1,594.3 L450.6,594.2 L451.1,594.0 L451.6,593.9 L452.1,593.7 L452.6,593.5 L453.1,593.2 L453.6,593.0 L454.1,592.8 L454.6,592.6 L455.1,592.3 L455.6,591.9 L456.1,591.5 L456.6,590.9 L457.1,590.3 L457.6,589.7 L458.1,589.1 L458.6,588.5 L459.1,587.8 L459.6,587.3 L460.1,586.7 L460.6,586.1 L461.1,585.5 L461.6,585.0 L462.1,584.5 L462.6,584.0 L463.1,583.6 L463.6,583.2 L464.1,582.9 L464.6,582.5 L465.1,582.2 L465.6,581.9 L466.1,581.7 L466.6,581.5 L467.1,581.3 L467.6,581.1 L468.1,581.0 L468.6,580.8 L469.1,580.7 L469.6,580.6 L470.1,580.4 L470.6,580.3 L471.1,580.3 L471.6,580.2 L472.1,580.1 L472.6,580.1 L473.1,580.0 L473.6,579.9 L474.1,579.8 L474.6,579.8 L475.1,579.7 L475.6,579.6 L476.1,579.6 L476.6,579.5 L477.1,579.5 L477.6,579.4 L478.1,579.4 L478.6,579.3 L479.1,579.3 L479.6,579.3 L480.1,579.2 L480.6,579.2 L481.1,579.2 L481.6,579.1 L482.1,579.1 L482.6,579.1 L483.1,579.1 L483.6,579.1 L484.1,579.1 L484.6,579.1 L485.1,579.1 L485.6,579.1 L486.1,579.1 L486.6,579.1 L487.1,579.1 L487.6,579.1 L487.6,591.1 L487.1,591.1 L486.6,591.1 L486.1,591.1 L485.6,591.1 L485.1,591.1 L484.6,591.1 L484.1,591.1 L483.6,591.1 L483.1,591.1 L482.6,591.1 L482.1,591.1 L481.6,591.1 L481.1,591.2 L480.6,591.2 L480.1,591.2 L479.6,591.3 L479.1,591.3 L478.6,591.3 L478.1,591.4 L477.6,591.4 L477.1,591.5 L476.6,591.5 L476.1,591.6 L475.6,591.6 L475.1,591.7 L474.6,591.8 L474.1,591.8 L473.6,591.9 L473.1,592.0 L472.6,592.1 L472.1,592.1 L471.6,592.2 L471.1,592.3 L470.6,592.3 L470.1,592.4 L469.6,592.6 L469.1,592.7 L468.6,592.8 L468.1,593.0 L467.6,593.1 L467.1,593.3 L466.6,593.5 L466.1,593.7 L465.6,593.9 L465.1,594.2 L464.6,594.5 L464.1,594.9 L463.6,595.2 L463.1,595.6 L462.6,596.0 L462.1,596.5 L461.6,597.0 L461.1,597.5 L460.6,598.1 L460.1,598.7 L459.6,599.3 L459.1,599.8 L458.6,600.5 L458.1,601.1 L457.6,601.7 L457.1,602.3 L456.6,602.9 L456.1,603.5 L455.6,603.9 L455.1,604.3 L454.6,604.6 L454.1,604.8 L453.6,605.0 L453.1,605.2 L452.6,605.5 L452.1,605.7 L451.6,605.9 L451.1,606.0 L450.6,606.2 L450.1,606.3 L449.6,606.4 L449.1,606.5 L448.6,606.6 L448.1,606.6 L447.6,606.5 L447.1,606.3 L446.6,606.0 L446.1,605.6 L445.6,605.3 L445.1,604.9 L444.6,604.4 L444.1,603.8 L443.6,603.0 L443.1,602.0 L442.6,600.8 L442.1,599.6 L441.6,598.4 L441.1,597.2 L440.6,596.0 L440.1,594.8 L439.6,593.7 L439.1,593.2 L438.6,593.1 L438.1,593.4 L437.6,594.2 L437.1,595.1 L436.6,596.0 L436.1,596.6 L435.6,596.9 L435.1,596.9 L434.6,596.6 L434.1,596.1 L433.6,595.4 L433.1,594.7 L432.6,594.0 L432.1,593.2 L431.6,592.4 L431.1,591.4 L430.6,590.4 L430.1,589.3 L429.6,588.1 L429.1,587.0 L428.6,585.8 L428.1,584.7 L427.6,583.5 L427.1,582.3 L426.6,581.0 L426.1,579.7 L425.6,578.3 L425.1,576.9 L424.6,575.5 L424.1,574.1 L423.6,572.8 L423.1,571.8 L422.6,571.0 L422.1,570.4 L421.6,570.0 L421.1,569.8 L420.6,569.5 L420.1,569.3 L419.6,569.0 L419.1,568.8 L418.6,568.5 L418.1,568.3 L417.6,568.1 L417.1,567.8 L416.6,567.6 L416.1,567.4 L415.6,567.1 L415.1,567.0 L414.6,566.9 L414.1,567.0 L413.6,571.4 L413.1,572.3 L412.6,573.7 L412.1,575.6 L411.6,577.9 L411.1,580.3 L410.6,594.6 L410.1,596.7 L409.6,598.4 L409.1,599.5 L408.6,600.2 L408.1,600.3 L407.6,600.0 L407.1,599.8 L406.6,599.5 Z" fill="#d0d0d0" stroke="none"/>
<path d="M406.6,566.5 L407.1,566.8 L407.6,567.0 L408.1,567.3 L408.6,567.2 L409.1,566.5 L409.6,565.4 L410.1,563.7 L410.6,561.6 L411.1,565.3 L411.6,562.9 L412.1,560.6 L412.6,558.7 L413.1,557.3 L413.6,556.4 L414.1,558.7 L414.6,558.6 L415.1,558.7 L415.6,558.8 L416.1,559.1 L416.6,559.3 L417.1,559.5 L417.6,559.8 L418.1,560.0 L418.6,560.2 L419.1,560.5 L419.6,560.7 L420.1,561.0 L420.6,561.2 L421.1,561.5 L421.6,561.7 L422.1,562.1 L422.6,562.7 L423.1,563.5 L423.6,564.5 L424.1,565.8 L424.6,567.2 L425.1,568.6 L425.6,570.0 L426.1,571.4 L426.6,572.7 L427.1,574.0 L427.6,575.2 L428.1,576.4 L428.6,577.5 L429.1,578.7 L429.6,579.8 L430.1,581.0 L430.6,582.1 L431.1,583.1 L431.6,584.1 L432.1,584.9 L432.6,585.7 L433.1,586.4 L433.6,587.1 L434.1,587.8 L434.6,588.3 L435.1,588.6 L435.6,588.6 L436.1,588.3 L436.6,587.7 L437.1,586.8 L437.6,585.9 L438.1,585.1 L438.6,584.8 L439.1,584.9 L439.6,585.4 L440.1,586.5 L440.6,587.7 L441.1,588.9 L441.6,590.1 L442.1,591.3 L442.6,592.5 L443.1,593.7 L443.6,594.7 L444.1,595.5 L444.6,596.1 L445.1,596.6 L445.6,597.0 L446.1,597.3 L446.6,597.7 L447.1,598.0 L447.6,598.2 L448.1,598.3 L448.6,598.3 L449.1,598.2 L449.6,598.1 L450.1,598.0 L450.6,597.9 L451.1,597.7 L451.6,597.6 L452.1,597.4 L452.6,597.2 L453.1,596.9 L453.6,596.7 L454.1,596.5 L454.6,596.3 L455.1,596.0 L455.6,595.6 L456.1,595.2 L456.6,594.6 L457.1,594.0 L457.6,593.4 L458.1,592.8 L458.6,592.2 L459.1,591.5 L459.6,591.0 L460.1,590.4 L460.6,589.8 L461.1,589.2 L461.6,588.7 L462.1,588.2 L462.6,587.7 L463.1,587.3 L463.6,586.9 L464.1,586.6 L464.6,586.2 L465.1,585.9 L465.6,585.6 L466.1,585.4 L466.6,585.2 L467.1,585.0 L467.6,584.8 L468.1,584.7 L468.6,584.5 L469.1,584.4 L469.6,584.3 L470.1,584.1 L470.6,584.0 L471.1,584.0 L471.6,583.9 L472.1,583.8 L472.6,583.8 L473.1,583.7 L473.6,583.6 L474.1,583.5 L474.6,583.5 L475.1,583.4 L475.6,583.3 L476.1,583.3 L476.6,583.2 L477.1,583.2 L477.6,583.1 L478.1,583.1 L478.6,583.0 L479.1,583.0 L479.6,583.0 L480.1,582.9 L480.6,582.9 L481.1,582.9 L481.6,582.8 L482.1,582.8 L482.6,582.8 L483.1,582.8 L483.6,582.8 L484.1,582.8 L484.6,582.8 L485.1,582.8 L485.6,582.8 L486.1,582.8 L486.6,582.8 L487.1,582.8 L487.6,582.8 L487.6,587.4 L487.1,587.4 L486.6,587.4 L486.1,587.4 L485.6,587.4 L485.1,587.4 L484.6,587.4 L484.1,587.4 L483.6,587.4 L483.1,587.4 L482.6,587.4 L482.1,587.4 L481.6,587.4 L481.1,587.5 L480.6,587.5 L480.1,587.5 L479.6,587.6 L479.1,587.6 L478.6,587.6 L478.1,587.7 L477.6,587.7 L477.1,587.8 L476.6,587.8 L476.1,587.9 L475.6,587.9 L475.1,588.0 L474.6,588.1 L474.1,588.1 L473.6,588.2 L473.1,588.3 L472.6,588.4 L472.1,588.4 L471.6,588.5 L471.1,588.6 L470.6,588.6 L470.1,588.7 L469.6,588.9 L469.1,589.0 L468.6,589.1 L468.1,589.3 L467.6,589.4 L467.1,589.6 L466.6,589.8 L466.1,590.0 L465.6,590.2 L465.1,590.5 L464.6,590.8 L464.1,591.2 L463.6,591.5 L463.1,591.9 L462.6,592.3 L462.1,592.8 L461.6,593.3 L461.1,593.8 L460.6,594.4 L460.1,595.0 L459.6,595.6 L459.1,596.1 L458.6,596.8 L458.1,597.4 L457.6,598.0 L457.1,598.6 L456.6,599.2 L456.1,599.8 L455.6,600.2 L455.1,600.6 L454.6,600.9 L454.1,601.1 L453.6,601.3 L453.1,601.5 L452.6,601.8 L452.1,602.0 L451.6,602.2 L451.1,602.3 L450.6,602.5 L450.1,602.6 L449.6,602.7 L449.1,602.8 L448.6,602.9 L448.1,602.9 L447.6,602.8 L447.1,602.6 L446.6,602.3 L446.1,601.9 L445.6,601.6 L445.1,601.2 L444.6,600.7 L444.1,600.1 L443.6,599.3 L443.1,598.3 L442.6,597.1 L442.1,595.9 L441.6,594.7 L441.1,593.5 L440.6,592.3 L440.1,591.1 L439.6,590.0 L439.1,589.5 L438.6,589.4 L438.1,589.7 L437.6,590.5 L437.1,591.4 L436.6,592.3 L436.1,592.9 L435.6,593.2 L435.1,593.2 L434.6,592.9 L434.1,592.4 L433.6,591.7 L433.1,591.0 L432.6,590.3 L432.1,589.5 L431.6,588.7 L431.1,587.7 L430.6,586.7 L430.1,585.6 L429.6,584.4 L429.1,583.3 L428.6,582.1 L428.1,581.0 L427.6,579.8 L427.1,578.6 L426.6,577.3 L426.1,576.0 L425.6,574.6 L425.1,573.2 L424.6,571.8 L424.1,570.4 L423.6,569.1 L423.1,568.1 L422.6,567.3 L422.1,566.7 L421.6,566.3 L421.1,566.1 L420.6,565.8 L420.1,565.6 L419.6,565.3 L419.1,565.1 L418.6,564.8 L418.1,564.6 L417.6,564.4 L417.1,564.1 L416.6,563.9 L416.1,563.7 L415.6,563.4 L415.1,563.3 L414.6,563.2 L414.1,563.3 L413.6,566.4 L413.1,567.3 L412.6,568.7 L412.1,570.6 L411.6,572.9 L411.1,575.3 L410.6,583.6 L410.1,585.7 L409.6,587.4 L409.1,588.5 L408.6,589.2 L408.1,589.3 L407.6,589.0 L407.1,588.8 L406.6,588.5 Z" fill="#9a9a9a" stroke="none"/>
<path d="M402.2,546.5 V610.6 H489.5" fill="none" stroke="#333" stroke-width="1.1"/>
<line x1="406.0" y1="610.6" x2="406.0" y2="612.6" stroke="#444" stroke-width="0.7"/>
<line x1="422.7" y1="610.6" x2="422.7" y2="612.6" stroke="#444" stroke-width="0.7"/>
<line x1="439.4" y1="610.6" x2="439.4" y2="612.6" stroke="#444" stroke-width="0.7"/>
<line x1="456.1" y1="610.6" x2="456.1" y2="612.6" stroke="#444" stroke-width="0.7"/>
<line x1="472.8" y1="610.6" x2="472.8" y2="612.6" stroke="#444" stroke-width="0.7"/>
<line x1="489.5" y1="610.6" x2="489.5" y2="612.6" stroke="#444" stroke-width="0.7"/>
<line x1="400.2" y1="557.7" x2="402.2" y2="557.7" stroke="#444" stroke-width="0.7"/>
<text x="399.4" y="559.8" font-size="5.8" fill="#555" text-anchor="end" >0.40</text>
<line x1="400.2" y1="575.7" x2="402.2" y2="575.7" stroke="#444" stroke-width="0.7"/>
<text x="399.4" y="577.8" font-size="5.8" fill="#555" text-anchor="end" >0.00</text>
<line x1="400.2" y1="593.7" x2="402.2" y2="593.7" stroke="#444" stroke-width="0.7"/>
<text x="399.4" y="595.8" font-size="5.8" fill="#555" text-anchor="end" >−0.40</text>
<line x1="402.2" y1="575.7" x2="489.5" y2="575.7" stroke="#333" stroke-width="0.8" stroke-dasharray="1.4,1.8"/>
<text x="378.3" y="579.0" font-size="7.5" fill="#333" text-anchor="middle" transform="rotate(-90 378.3 579.0)" dy="2.5">β<tspan font-size="5" dy="1.5">1</tspan><tspan dy="-1.5">(s)</tspan></text>
<polyline points="406.6,577.5 407.1,577.8 407.6,578.0 408.1,578.3 408.6,578.2 409.1,577.5 409.6,576.4 410.1,574.7 410.6,572.6 411.1,570.3 411.6,567.9 412.1,565.6 412.6,563.7 413.1,562.3 413.6,561.4 414.1,561.0 414.6,560.9 415.1,561.0 415.6,561.1 416.1,561.4 416.6,561.6 417.1,561.8 417.6,562.1 418.1,562.3 418.6,562.5 419.1,562.8 419.6,563.0 420.1,563.3 420.6,563.5 421.1,563.8 421.6,564.0 422.1,564.4 422.6,565.0 423.1,565.8 423.6,566.8 424.1,568.1 424.6,569.5 425.1,570.9 425.6,572.3 426.1,573.7 426.6,575.0 427.1,576.3 427.6,577.5 428.1,578.7 428.6,579.8 429.1,581.0 429.6,582.1 430.1,583.3 430.6,584.4 431.1,585.4 431.6,586.4 432.1,587.2 432.6,588.0 433.1,588.7 433.6,589.4 434.1,590.1 434.6,590.6 435.1,590.9 435.6,590.9 436.1,590.6 436.6,590.0 437.1,589.1 437.6,588.2 438.1,587.4 438.6,587.1 439.1,587.2 439.6,587.7 440.1,588.8 440.6,590.0 441.1,591.2 441.6,592.4 442.1,593.6 442.6,594.8 443.1,596.0 443.6,597.0 444.1,597.8 444.6,598.4 445.1,598.9 445.6,599.3 446.1,599.6 446.6,600.0 447.1,600.3 447.6,600.5 448.1,600.6 448.6,600.6 449.1,600.5 449.6,600.4 450.1,600.3 450.6,600.2 451.1,600.0 451.6,599.9 452.1,599.7 452.6,599.5 453.1,599.2 453.6,599.0 454.1,598.8 454.6,598.6 455.1,598.3 455.6,597.9 456.1,597.5 456.6,596.9 457.1,596.3 457.6,595.7 458.1,595.1 458.6,594.5 459.1,593.8 459.6,593.3 460.1,592.7 460.6,592.1 461.1,591.5 461.6,591.0 462.1,590.5 462.6,590.0 463.1,589.6 463.6,589.2 464.1,588.9 464.6,588.5 465.1,588.2 465.6,587.9 466.1,587.7 466.6,587.5 467.1,587.3 467.6,587.1 468.1,587.0 468.6,586.8 469.1,586.7 469.6,586.6 470.1,586.4 470.6,586.3 471.1,586.3 471.6,586.2 472.1,586.1 472.6,586.1 473.1,586.0 473.6,585.9 474.1,585.8 474.6,585.8 475.1,585.7 475.6,585.6 476.1,585.6 476.6,585.5 477.1,585.5 477.6,585.4 478.1,585.4 478.6,585.3 479.1,585.3 479.6,585.3 480.1,585.2 480.6,585.2 481.1,585.2 481.6,585.1 482.1,585.1 482.6,585.1 483.1,585.1 483.6,585.1 484.1,585.1 484.6,585.1 485.1,585.1 485.6,585.1 486.1,585.1 486.6,585.1 487.1,585.1 487.6,585.1" fill="none" stroke="#1f25c8" stroke-width="1.9" stroke-linejoin="round"/>
<path d="M531.0,554.9 L531.5,554.9 L532.0,554.8 L532.5,554.8 L533.0,554.7 L533.5,554.5 L534.0,554.3 L534.5,554.0 L535.0,553.7 L535.5,553.2 L536.0,553.8 L536.5,553.5 L537.0,553.2 L537.5,553.0 L538.0,552.9 L538.5,552.9 L539.0,552.8 L539.5,552.8 L540.0,552.7 L540.5,552.6 L541.0,552.6 L541.5,552.5 L542.0,552.5 L542.5,552.4 L543.0,552.4 L543.5,552.3 L544.0,552.2 L544.5,552.2 L545.0,552.1 L545.5,552.1 L546.0,552.1 L546.5,552.1 L547.0,552.1 L547.5,552.2 L548.0,552.2 L548.5,552.3 L549.0,552.4 L549.5,552.5 L550.0,552.6 L550.5,552.7 L551.0,552.9 L551.5,553.1 L552.0,553.2 L552.5,553.4 L553.0,553.6 L553.5,553.8 L554.0,554.0 L554.5,554.3 L555.0,554.5 L555.5,554.8 L556.0,555.0 L556.5,555.1 L557.0,555.2 L557.5,555.1 L558.0,555.0 L558.5,554.7 L559.0,554.4 L559.5,554.0 L560.0,553.5 L560.5,553.5 L561.0,554.0 L561.5,555.0 L562.0,556.5 L562.5,558.8 L563.0,561.2 L563.5,564.0 L564.0,567.0 L564.5,570.1 L565.0,573.0 L565.5,575.9 L566.0,578.5 L566.5,580.8 L567.0,582.8 L567.5,584.5 L568.0,586.0 L568.5,587.1 L569.0,588.1 L569.5,589.0 L570.0,589.8 L570.5,590.3 L571.0,590.7 L571.5,591.0 L572.0,591.2 L572.5,591.2 L573.0,591.1 L573.5,590.9 L574.0,590.5 L574.5,589.9 L575.0,589.2 L575.5,588.4 L576.0,587.5 L576.5,586.5 L577.0,585.6 L577.5,584.7 L578.0,583.8 L578.5,583.0 L579.0,582.2 L579.5,581.3 L580.0,580.4 L580.5,579.5 L581.0,578.5 L581.5,577.5 L582.0,576.5 L582.5,575.5 L583.0,574.6 L583.5,573.7 L584.0,572.8 L584.5,572.0 L585.0,571.2 L585.5,570.4 L586.0,569.8 L586.5,569.2 L587.0,568.7 L587.5,568.2 L588.0,567.8 L588.5,567.5 L589.0,567.1 L589.5,566.9 L590.0,566.7 L590.5,566.5 L591.0,566.3 L591.5,566.2 L592.0,566.0 L592.5,565.8 L593.0,565.7 L593.5,565.5 L594.0,565.3 L594.5,565.2 L595.0,565.2 L595.5,565.2 L596.0,565.3 L596.5,565.5 L597.0,565.7 L597.5,565.8 L598.0,565.9 L598.5,565.9 L599.0,565.8 L599.5,565.8 L600.0,565.7 L600.5,565.6 L601.0,565.5 L601.5,565.5 L602.0,565.5 L602.5,565.5 L603.0,565.5 L603.5,565.5 L604.0,565.4 L604.5,565.3 L605.0,565.2 L605.5,565.0 L606.0,564.8 L606.5,564.7 L607.0,564.6 L607.5,564.6 L608.0,564.7 L608.5,564.8 L609.0,564.8 L609.5,564.9 L610.0,565.0 L610.5,565.1 L611.0,565.2 L611.5,565.3 L612.0,565.4 L612.0,578.4 L611.5,578.3 L611.0,578.2 L610.5,578.1 L610.0,578.0 L609.5,577.9 L609.0,577.8 L608.5,577.8 L608.0,577.7 L607.5,577.6 L607.0,577.6 L606.5,577.7 L606.0,577.8 L605.5,578.0 L605.0,578.2 L604.5,578.3 L604.0,578.4 L603.5,578.5 L603.0,578.5 L602.5,578.5 L602.0,578.5 L601.5,578.5 L601.0,578.5 L600.5,578.6 L600.0,578.7 L599.5,578.8 L599.0,578.8 L598.5,578.9 L598.0,578.9 L597.5,578.8 L597.0,578.7 L596.5,578.5 L596.0,578.3 L595.5,578.2 L595.0,578.2 L594.5,578.2 L594.0,578.3 L593.5,578.5 L593.0,578.7 L592.5,578.8 L592.0,579.0 L591.5,579.2 L591.0,579.3 L590.5,579.5 L590.0,579.7 L589.5,579.9 L589.0,580.1 L588.5,580.5 L588.0,580.8 L587.5,581.2 L587.0,581.7 L586.5,582.2 L586.0,582.8 L585.5,583.4 L585.0,584.2 L584.5,585.0 L584.0,585.8 L583.5,586.7 L583.0,587.6 L582.5,588.5 L582.0,589.5 L581.5,590.5 L581.0,591.5 L580.5,592.5 L580.0,593.4 L579.5,594.3 L579.0,595.2 L578.5,596.0 L578.0,596.8 L577.5,597.7 L577.0,598.6 L576.5,599.5 L576.0,600.5 L575.5,601.4 L575.0,602.2 L574.5,602.9 L574.0,603.5 L573.5,603.9 L573.0,604.1 L572.5,604.2 L572.0,604.2 L571.5,604.0 L571.0,603.7 L570.5,603.3 L570.0,602.8 L569.5,602.0 L569.0,601.1 L568.5,600.1 L568.0,599.0 L567.5,597.5 L567.0,595.8 L566.5,593.8 L566.0,591.5 L565.5,588.9 L565.0,586.0 L564.5,583.1 L564.0,580.0 L563.5,577.0 L563.0,574.2 L562.5,571.8 L562.0,569.5 L561.5,568.0 L561.0,567.0 L560.5,566.5 L560.0,566.5 L559.5,567.0 L559.0,567.4 L558.5,567.7 L558.0,568.0 L557.5,568.1 L557.0,568.2 L556.5,568.1 L556.0,568.0 L555.5,567.8 L555.0,567.5 L554.5,567.3 L554.0,567.0 L553.5,566.8 L553.0,566.6 L552.5,566.4 L552.0,566.2 L551.5,566.1 L551.0,565.9 L550.5,565.7 L550.0,565.6 L549.5,565.5 L549.0,565.4 L548.5,565.3 L548.0,565.2 L547.5,565.2 L547.0,565.1 L546.5,565.1 L546.0,565.1 L545.5,565.1 L545.0,565.1 L544.5,565.2 L544.0,565.2 L543.5,565.3 L543.0,565.4 L542.5,565.4 L542.0,565.5 L541.5,565.5 L541.0,565.6 L540.5,565.6 L540.0,565.7 L539.5,565.8 L539.0,565.8 L538.5,565.9 L538.0,565.9 L537.5,566.0 L537.0,566.2 L536.5,566.5 L536.0,566.8 L535.5,568.2 L535.0,568.7 L534.5,569.0 L534.0,569.3 L533.5,569.5 L533.0,569.7 L532.5,569.8 L532.0,569.8 L531.5,569.9 L531.0,569.9 Z" fill="#d0d0d0" stroke="none"/>
<path d="M531.0,558.4 L531.5,558.4 L532.0,558.3 L532.5,558.2 L533.0,558.2 L533.5,558.0 L534.0,557.8 L534.5,557.5 L535.0,557.2 L535.5,556.8 L536.0,557.8 L536.5,557.5 L537.0,557.2 L537.5,557.0 L538.0,556.9 L538.5,556.9 L539.0,556.8 L539.5,556.8 L540.0,556.7 L540.5,556.6 L541.0,556.6 L541.5,556.5 L542.0,556.5 L542.5,556.4 L543.0,556.4 L543.5,556.3 L544.0,556.2 L544.5,556.2 L545.0,556.1 L545.5,556.1 L546.0,556.1 L546.5,556.1 L547.0,556.1 L547.5,556.2 L548.0,556.2 L548.5,556.3 L549.0,556.4 L549.5,556.5 L550.0,556.6 L550.5,556.7 L551.0,556.9 L551.5,557.1 L552.0,557.2 L552.5,557.4 L553.0,557.6 L553.5,557.8 L554.0,558.0 L554.5,558.3 L555.0,558.5 L555.5,558.8 L556.0,559.0 L556.5,559.1 L557.0,559.2 L557.5,559.1 L558.0,559.0 L558.5,558.7 L559.0,558.4 L559.5,558.0 L560.0,557.5 L560.5,557.5 L561.0,558.0 L561.5,559.0 L562.0,560.5 L562.5,562.8 L563.0,565.2 L563.5,568.0 L564.0,571.0 L564.5,574.1 L565.0,577.0 L565.5,579.9 L566.0,582.5 L566.5,584.8 L567.0,586.8 L567.5,588.5 L568.0,590.0 L568.5,591.1 L569.0,592.1 L569.5,593.0 L570.0,593.8 L570.5,594.3 L571.0,594.7 L571.5,595.0 L572.0,595.2 L572.5,595.2 L573.0,595.1 L573.5,594.9 L574.0,594.5 L574.5,593.9 L575.0,593.2 L575.5,592.4 L576.0,591.5 L576.5,590.5 L577.0,589.6 L577.5,588.7 L578.0,587.8 L578.5,587.0 L579.0,586.2 L579.5,585.3 L580.0,584.4 L580.5,583.5 L581.0,582.5 L581.5,581.5 L582.0,580.5 L582.5,579.5 L583.0,578.6 L583.5,577.7 L584.0,576.8 L584.5,576.0 L585.0,575.2 L585.5,574.4 L586.0,573.8 L586.5,573.2 L587.0,572.7 L587.5,572.2 L588.0,571.8 L588.5,571.5 L589.0,571.1 L589.5,570.9 L590.0,570.7 L590.5,570.5 L591.0,570.3 L591.5,570.2 L592.0,570.0 L592.5,569.8 L593.0,569.7 L593.5,569.5 L594.0,569.3 L594.5,569.2 L595.0,569.2 L595.5,569.2 L596.0,569.3 L596.5,569.5 L597.0,569.7 L597.5,569.8 L598.0,569.9 L598.5,569.9 L599.0,569.8 L599.5,569.8 L600.0,569.7 L600.5,569.6 L601.0,569.5 L601.5,569.5 L602.0,569.5 L602.5,569.5 L603.0,569.5 L603.5,569.5 L604.0,569.4 L604.5,569.3 L605.0,569.2 L605.5,569.0 L606.0,568.8 L606.5,568.7 L607.0,568.6 L607.5,568.6 L608.0,568.7 L608.5,568.8 L609.0,568.8 L609.5,568.9 L610.0,569.0 L610.5,569.1 L611.0,569.2 L611.5,569.3 L612.0,569.4 L612.0,574.4 L611.5,574.3 L611.0,574.2 L610.5,574.1 L610.0,574.0 L609.5,573.9 L609.0,573.8 L608.5,573.8 L608.0,573.7 L607.5,573.6 L607.0,573.6 L606.5,573.7 L606.0,573.8 L605.5,574.0 L605.0,574.2 L604.5,574.3 L604.0,574.4 L603.5,574.5 L603.0,574.5 L602.5,574.5 L602.0,574.5 L601.5,574.5 L601.0,574.5 L600.5,574.6 L600.0,574.7 L599.5,574.8 L599.0,574.8 L598.5,574.9 L598.0,574.9 L597.5,574.8 L597.0,574.7 L596.5,574.5 L596.0,574.3 L595.5,574.2 L595.0,574.2 L594.5,574.2 L594.0,574.3 L593.5,574.5 L593.0,574.7 L592.5,574.8 L592.0,575.0 L591.5,575.2 L591.0,575.3 L590.5,575.5 L590.0,575.7 L589.5,575.9 L589.0,576.1 L588.5,576.5 L588.0,576.8 L587.5,577.2 L587.0,577.7 L586.5,578.2 L586.0,578.8 L585.5,579.4 L585.0,580.2 L584.5,581.0 L584.0,581.8 L583.5,582.7 L583.0,583.6 L582.5,584.5 L582.0,585.5 L581.5,586.5 L581.0,587.5 L580.5,588.5 L580.0,589.4 L579.5,590.3 L579.0,591.2 L578.5,592.0 L578.0,592.8 L577.5,593.7 L577.0,594.6 L576.5,595.5 L576.0,596.5 L575.5,597.4 L575.0,598.2 L574.5,598.9 L574.0,599.5 L573.5,599.9 L573.0,600.1 L572.5,600.2 L572.0,600.2 L571.5,600.0 L571.0,599.7 L570.5,599.3 L570.0,598.8 L569.5,598.0 L569.0,597.1 L568.5,596.1 L568.0,595.0 L567.5,593.5 L567.0,591.8 L566.5,589.8 L566.0,587.5 L565.5,584.9 L565.0,582.0 L564.5,579.1 L564.0,576.0 L563.5,573.0 L563.0,570.2 L562.5,567.8 L562.0,565.5 L561.5,564.0 L561.0,563.0 L560.5,562.5 L560.0,562.5 L559.5,563.0 L559.0,563.4 L558.5,563.7 L558.0,564.0 L557.5,564.1 L557.0,564.2 L556.5,564.1 L556.0,564.0 L555.5,563.8 L555.0,563.5 L554.5,563.3 L554.0,563.0 L553.5,562.8 L553.0,562.6 L552.5,562.4 L552.0,562.2 L551.5,562.1 L551.0,561.9 L550.5,561.7 L550.0,561.6 L549.5,561.5 L549.0,561.4 L548.5,561.3 L548.0,561.2 L547.5,561.2 L547.0,561.1 L546.5,561.1 L546.0,561.1 L545.5,561.1 L545.0,561.1 L544.5,561.2 L544.0,561.2 L543.5,561.3 L543.0,561.4 L542.5,561.4 L542.0,561.5 L541.5,561.5 L541.0,561.6 L540.5,561.6 L540.0,561.7 L539.5,561.8 L539.0,561.8 L538.5,561.9 L538.0,561.9 L537.5,562.0 L537.0,562.2 L536.5,562.5 L536.0,562.8 L535.5,564.8 L535.0,565.2 L534.5,565.5 L534.0,565.8 L533.5,566.0 L533.0,566.2 L532.5,566.2 L532.0,566.3 L531.5,566.4 L531.0,566.4 Z" fill="#9a9a9a" stroke="none"/>
<path d="M527.3,546.5 V610.6 H616" fill="none" stroke="#333" stroke-width="1.1"/>
<line x1="531.0" y1="610.6" x2="531.0" y2="612.6" stroke="#444" stroke-width="0.7"/>
<line x1="547.7" y1="610.6" x2="547.7" y2="612.6" stroke="#444" stroke-width="0.7"/>
<line x1="564.4" y1="610.6" x2="564.4" y2="612.6" stroke="#444" stroke-width="0.7"/>
<line x1="581.1" y1="610.6" x2="581.1" y2="612.6" stroke="#444" stroke-width="0.7"/>
<line x1="597.8" y1="610.6" x2="597.8" y2="612.6" stroke="#444" stroke-width="0.7"/>
<line x1="614.5" y1="610.6" x2="614.5" y2="612.6" stroke="#444" stroke-width="0.7"/>
<line x1="525.3" y1="546.4" x2="527.3" y2="546.4" stroke="#444" stroke-width="0.7"/>
<text x="524.5" y="548.5" font-size="5.8" fill="#555" text-anchor="end" >0.00</text>
<line x1="525.3" y1="562.0" x2="527.3" y2="562.0" stroke="#444" stroke-width="0.7"/>
<text x="524.5" y="564.1" font-size="5.8" fill="#555" text-anchor="end" >0.00</text>
<line x1="525.3" y1="577.6" x2="527.3" y2="577.6" stroke="#444" stroke-width="0.7"/>
<text x="524.5" y="579.7" font-size="5.8" fill="#555" text-anchor="end" >−0.00</text>
<line x1="525.3" y1="593.2" x2="527.3" y2="593.2" stroke="#444" stroke-width="0.7"/>
<text x="524.5" y="595.3" font-size="5.8" fill="#555" text-anchor="end" >−0.00</text>
<line x1="525.3" y1="608.8" x2="527.3" y2="608.8" stroke="#444" stroke-width="0.7"/>
<text x="524.5" y="610.9" font-size="5.8" fill="#555" text-anchor="end" >−0.00</text>
<line x1="527.3" y1="562.0" x2="616" y2="562.0" stroke="#333" stroke-width="0.8" stroke-dasharray="1.4,1.8"/>
<text x="503.0" y="579.0" font-size="7.5" fill="#333" text-anchor="middle" transform="rotate(-90 503.0 579.0)" dy="2.5">β<tspan font-size="5" dy="1.5">2</tspan><tspan dy="-1.5">(s)</tspan></text>
<polyline points="531.0,562.4 531.5,562.4 532.0,562.3 532.5,562.2 533.0,562.2 533.5,562.0 534.0,561.8 534.5,561.5 535.0,561.2 535.5,560.8 536.0,560.3 536.5,560.0 537.0,559.7 537.5,559.5 538.0,559.4 538.5,559.4 539.0,559.3 539.5,559.2 540.0,559.2 540.5,559.1 541.0,559.1 541.5,559.0 542.0,559.0 542.5,558.9 543.0,558.9 543.5,558.8 544.0,558.8 544.5,558.7 545.0,558.6 545.5,558.6 546.0,558.6 546.5,558.6 547.0,558.6 547.5,558.7 548.0,558.8 548.5,558.8 549.0,558.9 549.5,559.0 550.0,559.1 550.5,559.2 551.0,559.4 551.5,559.6 552.0,559.8 552.5,559.9 553.0,560.1 553.5,560.3 554.0,560.5 554.5,560.8 555.0,561.0 555.5,561.2 556.0,561.5 556.5,561.6 557.0,561.7 557.5,561.6 558.0,561.5 558.5,561.2 559.0,560.9 559.5,560.5 560.0,560.0 560.5,560.0 561.0,560.5 561.5,561.5 562.0,563.0 562.5,565.2 563.0,567.8 563.5,570.5 564.0,573.5 564.5,576.6 565.0,579.5 565.5,582.4 566.0,585.0 566.5,587.2 567.0,589.2 567.5,591.0 568.0,592.5 568.5,593.6 569.0,594.6 569.5,595.5 570.0,596.2 570.5,596.8 571.0,597.2 571.5,597.5 572.0,597.8 572.5,597.8 573.0,597.6 573.5,597.4 574.0,597.0 574.5,596.4 575.0,595.7 575.5,594.9 576.0,594.0 576.5,593.0 577.0,592.1 577.5,591.2 578.0,590.3 578.5,589.5 579.0,588.7 579.5,587.8 580.0,586.9 580.5,586.0 581.0,585.0 581.5,584.0 582.0,583.0 582.5,582.0 583.0,581.1 583.5,580.2 584.0,579.3 584.5,578.5 585.0,577.7 585.5,576.9 586.0,576.2 586.5,575.7 587.0,575.2 587.5,574.8 588.0,574.3 588.5,574.0 589.0,573.6 589.5,573.4 590.0,573.2 590.5,573.0 591.0,572.8 591.5,572.7 592.0,572.5 592.5,572.3 593.0,572.2 593.5,572.0 594.0,571.8 594.5,571.7 595.0,571.7 595.5,571.7 596.0,571.8 596.5,572.0 597.0,572.2 597.5,572.3 598.0,572.4 598.5,572.4 599.0,572.3 599.5,572.2 600.0,572.2 600.5,572.1 601.0,572.0 601.5,572.0 602.0,572.0 602.5,572.0 603.0,572.0 603.5,572.0 604.0,571.9 604.5,571.8 605.0,571.7 605.5,571.5 606.0,571.3 606.5,571.2 607.0,571.1 607.5,571.1 608.0,571.2 608.5,571.2 609.0,571.3 609.5,571.4 610.0,571.5 610.5,571.6 611.0,571.8 611.5,571.8 612.0,571.9" fill="none" stroke="#1f25c8" stroke-width="1.9" stroke-linejoin="round"/>
<text x="303.6" y="277.3" font-size="8.5" textLength="35.0" lengthAdjust="spacingAndGlyphs" font-weight="bold" >Intercept</text>
<text x="425.2" y="277.5" font-size="8.5" textLength="44.0" lengthAdjust="spacingAndGlyphs" font-weight="bold" >Covariate 1</text>
<text x="548.6" y="277.5" font-size="8.5" textLength="45.0" lengthAdjust="spacingAndGlyphs" font-weight="bold" >Covariate 2</text>
<text x="296.2" y="357.5" font-size="9.5" font-style="italic" fill="#333" font-family="Liberation Serif" text-anchor="middle" >s</text>
<text x="421.3" y="357.5" font-size="9.5" font-style="italic" fill="#333" font-family="Liberation Serif" text-anchor="middle" >s</text>
<text x="546.5" y="357.5" font-size="9.5" font-style="italic" fill="#333" font-family="Liberation Serif" text-anchor="middle" >s</text>
<text x="307.7" y="619.2" font-size="8.6" textLength="25.2" lengthAdjust="spacingAndGlyphs" >Time (s)</text>
<text x="433.5" y="619.2" font-size="8.6" textLength="25.0" lengthAdjust="spacingAndGlyphs" >Time (s)</text>
<text x="559.5" y="619.2" font-size="8.6" textLength="25.0" lengthAdjust="spacingAndGlyphs" >Time (s)</text>
<circle cx="295.5" cy="334.2" r="4.3" fill="none" stroke="#ee2228" stroke-width="1.1"/>
<circle cx="418.8" cy="299.1" r="4.3" fill="none" stroke="#ee2228" stroke-width="1.1"/>
<circle cx="545.9" cy="294.8" r="4.3" fill="none" stroke="#ee2228" stroke-width="1.1"/>
<path d="M376,249 C374,270 362,281 340,288 C318,294 300,302 296.5,325" fill="none" stroke="#ee2228" stroke-width="1.5"/>
<path d="M296.3,329.6 L294.1,325.1 L298.5,325.1 Z" fill="#ee2228"/>
<path d="M377,249 C379,266 398,268 407,274 C414,279 415.2,285 415.2,292" fill="none" stroke="#ee2228" stroke-width="1.5"/>
<path d="M415.2,296.5 L413.0,292.0 L417.4,292.0 Z" fill="#ee2228"/>
<path d="M379,249 C384,264 404,273 440,283.5 C478,292 508,293.5 535.5,293.6" fill="none" stroke="#ee2228" stroke-width="1.5"/>
<path d="M540.2,293.6 L535.7,295.8 L535.7,291.4 Z" fill="#ee2228"/>
<line x1="316" y1="554" x2="316" y2="557" stroke="#111" stroke-width="0.9"/>
<path d="M316.0,550.4 L317.8,553.9 L314.2,553.9 Z" fill="#111"/>
<line x1="317.5" y1="577.5" x2="317.5" y2="580.5" stroke="#111" stroke-width="0.9"/>
<path d="M317.5,583.6 L315.7,580.1 L319.3,580.1 Z" fill="#111"/>
<line x1="406.9" y1="553.4" x2="406.9" y2="599.3" stroke="#111" stroke-width="0.9"/>
<path d="M406.9,550.4 L408.7,553.9 L405.1,553.9 Z" fill="#111"/>
<path d="M406.9,602.3 L405.1,598.8 L408.7,598.8 Z" fill="#111"/>
<line x1="570" y1="588" x2="570" y2="592" stroke="#111" stroke-width="0.9"/>
<path d="M570.0,585.5 L571.8,589.0 L568.2,589.0 Z" fill="#111"/>
<line x1="570" y1="600" x2="570" y2="603" stroke="#111" stroke-width="0.9"/>
<path d="M570.0,606.5 L568.2,603.0 L571.8,603.0 Z" fill="#111"/>
<text x="231.9" y="709.4" font-size="10.2" textLength="37.7" lengthAdjust="spacingAndGlyphs" fill="#8a8a8a" font-family="Liberation Serif" ><tspan font-weight="bold">Y</tspan>(1.7) =</text>
<path d="M279,683.4 H276 V729.4 H279" fill="none" stroke="#333" stroke-width="1.0"/>
<path d="M312,683.4 H315 V729.4 H312" fill="none" stroke="#333" stroke-width="1.0"/>
<text x="279.5" y="690.6" font-size="10.2" textLength="32.1" lengthAdjust="spacingAndGlyphs" fill="#222" font-family="Liberation Serif" ><tspan font-weight="bold">Y</tspan><tspan baseline-shift="-2" font-size="6.5">1</tspan>(1.7)</text>
<text x="279.5" y="702.3" font-size="10.2" textLength="32.1" lengthAdjust="spacingAndGlyphs" fill="#2eaa60" font-family="Liberation Serif" ><tspan font-weight="bold">Y</tspan><tspan baseline-shift="-2" font-size="6.5">2</tspan>(1.7)</text>
<text x="279.5" y="714.0" font-size="10.2" textLength="32.1" lengthAdjust="spacingAndGlyphs" fill="#222" font-family="Liberation Serif" ><tspan font-weight="bold">Y</tspan><tspan baseline-shift="-2" font-size="6.5">3</tspan>(1.7)</text>
<text x="279.5" y="725.5" font-size="10.2" textLength="32.1" lengthAdjust="spacingAndGlyphs" fill="#222" font-family="Liberation Serif" ><tspan font-weight="bold">Y</tspan><tspan baseline-shift="-2" font-size="6.5">4</tspan>(1.7)</text>
<text x="321.5" y="710.0" font-size="10.2" textLength="6.5" lengthAdjust="spacingAndGlyphs" fill="#333" font-family="Liberation Serif" >=</text>
<path d="M337.5,650.2 H334.5 V761.1 H337.5" fill="none" stroke="#333" stroke-width="1.0"/>
<path d="M375.6,650.2 H378.6 V761.1 H375.6" fill="none" stroke="#333" stroke-width="1.0"/>
<text x="338.4" y="658.0" font-size="10.2" textLength="36.4" lengthAdjust="spacingAndGlyphs" fill="#333" font-family="Liberation Serif" ><tspan font-style="italic">Y</tspan><tspan baseline-shift="-2" font-size="6.5">1,1</tspan>(1.7)</text>
<circle cx="356.6" cy="667.5" r="0.6" fill="#333"/>
<circle cx="356.6" cy="671.0" r="0.6" fill="#333"/>
<circle cx="356.6" cy="674.5" r="0.6" fill="#333"/>
<text x="338.4" y="687.9" font-size="10.2" textLength="36.4" lengthAdjust="spacingAndGlyphs" fill="#333" font-family="Liberation Serif" ><tspan font-style="italic">Y</tspan><tspan baseline-shift="-2" font-size="6.5">1,<tspan font-style="italic">J</tspan></tspan>(1.7)</text>
<text x="338.4" y="699.5" font-size="10.2" textLength="36.4" lengthAdjust="spacingAndGlyphs" fill="#2eaa60" font-family="Liberation Serif" ><tspan font-style="italic">Y</tspan><tspan baseline-shift="-2" font-size="6.5">2,1</tspan>(1.7)</text>
<circle cx="356.6" cy="709.0" r="0.6" fill="#2eaa60"/>
<circle cx="356.6" cy="713.0" r="0.6" fill="#2eaa60"/>
<circle cx="356.6" cy="717.0" r="0.6" fill="#2eaa60"/>
<text x="338.4" y="729.4" font-size="10.2" textLength="36.4" lengthAdjust="spacingAndGlyphs" fill="#2eaa60" font-family="Liberation Serif" ><tspan font-style="italic">Y</tspan><tspan baseline-shift="-2" font-size="6.5">2,<tspan font-style="italic">J</tspan></tspan>(1.7)</text>
<circle cx="356.6" cy="739.5" r="0.6" fill="#333"/>
<circle cx="356.6" cy="743.2" r="0.6" fill="#333"/>
<circle cx="356.6" cy="747.0" r="0.6" fill="#333"/>
<text x="338.4" y="759.3" font-size="10.2" textLength="36.4" lengthAdjust="spacingAndGlyphs" fill="#333" font-family="Liberation Serif" ><tspan font-style="italic">Y</tspan><tspan baseline-shift="-2" font-size="6.5">4,<tspan font-style="italic">J</tspan></tspan>(1.7)</text>
<defs><linearGradient id="h0"><stop offset="0.000" stop-color="#fdfdff"/><stop offset="0.038" stop-color="#f9f8ff"/><stop offset="0.077" stop-color="#fffafa"/><stop offset="0.115" stop-color="#e0dcfc"/><stop offset="0.154" stop-color="#f6a7a7"/><stop offset="0.192" stop-color="#f7a9a9"/><stop offset="0.231" stop-color="#f06565"/><stop offset="0.269" stop-color="#f49191"/><stop offset="0.308" stop-color="#fffdfd"/><stop offset="0.346" stop-color="#f3f1fe"/><stop offset="0.385" stop-color="#fdfcff"/><stop offset="0.423" stop-color="#ddd8fb"/><stop offset="0.462" stop-color="#d4cdfa"/><stop offset="0.500" stop-color="#fac5c5"/><stop offset="0.538" stop-color="#f0eefe"/><stop offset="0.577" stop-color="#d9d3fb"/><stop offset="0.615" stop-color="#fef5f5"/><stop offset="0.654" stop-color="#fce0e0"/><stop offset="0.692" stop-color="#ddd8fb"/><stop offset="0.731" stop-color="#fff9f9"/><stop offset="0.769" stop-color="#eeebfd"/><stop offset="0.808" stop-color="#fdfdff"/><stop offset="0.846" stop-color="#fac9c9"/><stop offset="0.885" stop-color="#fac7c7"/><stop offset="0.923" stop-color="#ed4a4a"/><stop offset="0.962" stop-color="#ef5a5a"/><stop offset="1.000" stop-color="#f48c8c"/></linearGradient><linearGradient id="h1"><stop offset="0.000" stop-color="#d2ccfa"/><stop offset="0.038" stop-color="#ffffff"/><stop offset="0.077" stop-color="#e1dcfc"/><stop offset="0.115" stop-color="#fdeaea"/><stop offset="0.154" stop-color="#f27a7a"/><stop offset="0.192" stop-color="#f17373"/><stop offset="0.231" stop-color="#ef6060"/><stop offset="0.269" stop-color="#f9bdbd"/><stop offset="0.308" stop-color="#bfb6f8"/><stop offset="0.346" stop-color="#cdc6f9"/><stop offset="0.385" stop-color="#cbc4f9"/><stop offset="0.423" stop-color="#c3baf8"/><stop offset="0.462" stop-color="#c0b7f8"/><stop offset="0.500" stop-color="#ece9fd"/><stop offset="0.538" stop-color="#fef4f4"/><stop offset="0.577" stop-color="#e4e0fc"/><stop offset="0.615" stop-color="#fdeaea"/><stop offset="0.654" stop-color="#feeeee"/><stop offset="0.692" stop-color="#c1b8f8"/><stop offset="0.731" stop-color="#f0edfe"/><stop offset="0.769" stop-color="#ded9fc"/><stop offset="0.808" stop-color="#c6bef9"/><stop offset="0.846" stop-color="#f06c6c"/><stop offset="0.885" stop-color="#fac8c8"/><stop offset="0.923" stop-color="#f6a0a0"/><stop offset="0.962" stop-color="#f59696"/><stop offset="1.000" stop-color="#f06d6d"/></linearGradient><linearGradient id="h2"><stop offset="0.000" stop-color="#e4e0fc"/><stop offset="0.038" stop-color="#e9e6fd"/><stop offset="0.077" stop-color="#d0c9fa"/><stop offset="0.115" stop-color="#fcdddd"/><stop offset="0.154" stop-color="#ee5353"/><stop offset="0.192" stop-color="#f8b8b8"/><stop offset="0.231" stop-color="#fbcfcf"/><stop offset="0.269" stop-color="#f8b3b3"/><stop offset="0.308" stop-color="#e1dcfc"/><stop offset="0.346" stop-color="#fde6e6"/><stop offset="0.385" stop-color="#fde5e5"/><stop offset="0.423" stop-color="#feeeee"/><stop offset="0.462" stop-color="#c6bef9"/><stop offset="0.500" stop-color="#fef5f5"/><stop offset="0.538" stop-color="#ffffff"/><stop offset="0.577" stop-color="#fafaff"/><stop offset="0.615" stop-color="#fcdbdb"/><stop offset="0.654" stop-color="#c7bff9"/><stop offset="0.692" stop-color="#cfc8fa"/><stop offset="0.731" stop-color="#fff9f9"/><stop offset="0.769" stop-color="#fce1e1"/><stop offset="0.808" stop-color="#fdfdff"/><stop offset="0.846" stop-color="#f8b9b9"/><stop offset="0.885" stop-color="#f49393"/><stop offset="0.923" stop-color="#f27d7d"/><stop offset="0.962" stop-color="#fbd2d2"/><stop offset="1.000" stop-color="#f8b5b5"/></linearGradient><linearGradient id="h3"><stop offset="0.000" stop-color="#b3a8f6"/><stop offset="0.038" stop-color="#d2cbfa"/><stop offset="0.077" stop-color="#b7acf7"/><stop offset="0.115" stop-color="#bdb3f8"/><stop offset="0.154" stop-color="#fde9e9"/><stop offset="0.192" stop-color="#f6a3a3"/><stop offset="0.231" stop-color="#fffafa"/><stop offset="0.269" stop-color="#f69e9e"/><stop offset="0.308" stop-color="#b9aff7"/><stop offset="0.346" stop-color="#ab9ff5"/><stop offset="0.385" stop-color="#f9f8ff"/><stop offset="0.423" stop-color="#bbb1f7"/><stop offset="0.462" stop-color="#f9f9ff"/><stop offset="0.500" stop-color="#f4f2fe"/><stop offset="0.538" stop-color="#f9c0c0"/><stop offset="0.577" stop-color="#e9e6fd"/><stop offset="0.615" stop-color="#fff9f9"/><stop offset="0.654" stop-color="#e5e1fc"/><stop offset="0.692" stop-color="#f8bbbb"/><stop offset="0.731" stop-color="#fac6c6"/><stop offset="0.769" stop-color="#fce2e2"/><stop offset="0.808" stop-color="#d0c9fa"/><stop offset="0.846" stop-color="#fcdada"/><stop offset="0.885" stop-color="#f59b9b"/><stop offset="0.923" stop-color="#fac8c8"/><stop offset="0.962" stop-color="#f8b5b5"/><stop offset="1.000" stop-color="#fef4f4"/></linearGradient><linearGradient id="h4"><stop offset="0.000" stop-color="#ab9ef5"/><stop offset="0.038" stop-color="#f9c3c3"/><stop offset="0.077" stop-color="#fbd8d8"/><stop offset="0.115" stop-color="#f6f5fe"/><stop offset="0.154" stop-color="#f7afaf"/><stop offset="0.192" stop-color="#fffefe"/><stop offset="0.231" stop-color="#cac2f9"/><stop offset="0.269" stop-color="#b4a8f6"/><stop offset="0.308" stop-color="#beb4f8"/><stop offset="0.346" stop-color="#efedfe"/><stop offset="0.385" stop-color="#c3baf8"/><stop offset="0.423" stop-color="#b5aaf7"/><stop offset="0.462" stop-color="#d1cafa"/><stop offset="0.500" stop-color="#c2b9f8"/><stop offset="0.538" stop-color="#f9c1c1"/><stop offset="0.577" stop-color="#e4e0fc"/><stop offset="0.615" stop-color="#f8b7b7"/><stop offset="0.654" stop-color="#dfdbfc"/><stop offset="0.692" stop-color="#f9c2c2"/><stop offset="0.731" stop-color="#fce0e0"/><stop offset="0.769" stop-color="#edeafd"/><stop offset="0.808" stop-color="#d0c8fa"/><stop offset="0.846" stop-color="#fde5e5"/><stop offset="0.885" stop-color="#fde8e8"/><stop offset="0.923" stop-color="#fef0f0"/><stop offset="0.962" stop-color="#fcdbdb"/><stop offset="1.000" stop-color="#f38989"/></linearGradient><linearGradient id="h5"><stop offset="0.000" stop-color="#f9c4c4"/><stop offset="0.038" stop-color="#facaca"/><stop offset="0.077" stop-color="#f8b1b1"/><stop offset="0.115" stop-color="#ef6262"/><stop offset="0.154" stop-color="#fbd0d0"/><stop offset="0.192" stop-color="#f27878"/><stop offset="0.231" stop-color="#f0eefe"/><stop offset="0.269" stop-color="#f9bdbd"/><stop offset="0.308" stop-color="#d8d3fb"/><stop offset="0.346" stop-color="#fbd3d3"/><stop offset="0.385" stop-color="#f5f3fe"/><stop offset="0.423" stop-color="#e3dffc"/><stop offset="0.462" stop-color="#d7d1fb"/><stop offset="0.500" stop-color="#fbd0d0"/><stop offset="0.538" stop-color="#fff8f8"/><stop offset="0.577" stop-color="#e7e3fd"/><stop offset="0.615" stop-color="#fdfcff"/><stop offset="0.654" stop-color="#fac5c5"/><stop offset="0.692" stop-color="#eae7fd"/><stop offset="0.731" stop-color="#fef2f2"/><stop offset="0.769" stop-color="#e3dffc"/><stop offset="0.808" stop-color="#e7e3fd"/><stop offset="0.846" stop-color="#fbd8d8"/><stop offset="0.885" stop-color="#fce0e0"/><stop offset="0.923" stop-color="#e8e5fd"/><stop offset="0.962" stop-color="#ded9fb"/><stop offset="1.000" stop-color="#dedafc"/></linearGradient><linearGradient id="h6"><stop offset="0.000" stop-color="#e9e6fd"/><stop offset="0.038" stop-color="#fbd8d8"/><stop offset="0.077" stop-color="#fce1e1"/><stop offset="0.115" stop-color="#f7acac"/><stop offset="0.154" stop-color="#f6a0a0"/><stop offset="0.192" stop-color="#fff7f7"/><stop offset="0.231" stop-color="#aea2f6"/><stop offset="0.269" stop-color="#8c7cf2"/><stop offset="0.308" stop-color="#816ef0"/><stop offset="0.346" stop-color="#bbb0f7"/><stop offset="0.385" stop-color="#e2ddfc"/><stop offset="0.423" stop-color="#fdfdff"/><stop offset="0.462" stop-color="#c3baf8"/><stop offset="0.500" stop-color="#fff7f7"/><stop offset="0.538" stop-color="#dcd6fb"/><stop offset="0.577" stop-color="#fef3f3"/><stop offset="0.615" stop-color="#fef0f0"/><stop offset="0.654" stop-color="#e9e6fd"/><stop offset="0.692" stop-color="#c0b6f8"/><stop offset="0.731" stop-color="#fdeaea"/><stop offset="0.769" stop-color="#e8e4fd"/><stop offset="0.808" stop-color="#feefef"/><stop offset="0.846" stop-color="#d6cffa"/><stop offset="0.885" stop-color="#cfc7fa"/><stop offset="0.923" stop-color="#fef5f5"/><stop offset="0.962" stop-color="#ded9fc"/><stop offset="1.000" stop-color="#cdc5f9"/></linearGradient><linearGradient id="h7"><stop offset="0.000" stop-color="#e3dffc"/><stop offset="0.038" stop-color="#f3f1fe"/><stop offset="0.077" stop-color="#fbcfcf"/><stop offset="0.115" stop-color="#fbd8d8"/><stop offset="0.154" stop-color="#fbcfcf"/><stop offset="0.192" stop-color="#bab0f7"/><stop offset="0.231" stop-color="#aa9ef5"/><stop offset="0.269" stop-color="#b3a8f6"/><stop offset="0.308" stop-color="#b7adf7"/><stop offset="0.346" stop-color="#8876f1"/><stop offset="0.385" stop-color="#edebfd"/><stop offset="0.423" stop-color="#d1cafa"/><stop offset="0.462" stop-color="#f1effe"/><stop offset="0.500" stop-color="#b5aaf7"/><stop offset="0.538" stop-color="#fbfbff"/><stop offset="0.577" stop-color="#fffbfb"/><stop offset="0.615" stop-color="#dad5fb"/><stop offset="0.654" stop-color="#dcd7fb"/><stop offset="0.692" stop-color="#ded9fb"/><stop offset="0.731" stop-color="#ded9fb"/><stop offset="0.769" stop-color="#b1a6f6"/><stop offset="0.808" stop-color="#fff9f9"/><stop offset="0.846" stop-color="#c3baf8"/><stop offset="0.885" stop-color="#bfb6f8"/><stop offset="0.923" stop-color="#b8aef7"/><stop offset="0.962" stop-color="#c5bdf9"/><stop offset="1.000" stop-color="#f6f5fe"/></linearGradient><linearGradient id="h8"><stop offset="0.000" stop-color="#a295f4"/><stop offset="0.038" stop-color="#d7d1fb"/><stop offset="0.077" stop-color="#ab9ef5"/><stop offset="0.115" stop-color="#9b8df3"/><stop offset="0.154" stop-color="#cec7fa"/><stop offset="0.192" stop-color="#8977f1"/><stop offset="0.231" stop-color="#8472f1"/><stop offset="0.269" stop-color="#9484f3"/><stop offset="0.308" stop-color="#6953ed"/><stop offset="0.346" stop-color="#a294f4"/><stop offset="0.385" stop-color="#d8d3fb"/><stop offset="0.423" stop-color="#9e8ff4"/><stop offset="0.462" stop-color="#a597f5"/><stop offset="0.500" stop-color="#c5bcf8"/><stop offset="0.538" stop-color="#c5bdf9"/><stop offset="0.577" stop-color="#b2a7f6"/><stop offset="0.615" stop-color="#a597f5"/><stop offset="0.654" stop-color="#bdb3f8"/><stop offset="0.692" stop-color="#a699f5"/><stop offset="0.731" stop-color="#cdc6f9"/><stop offset="0.769" stop-color="#e5e1fc"/><stop offset="0.808" stop-color="#f2f0fe"/><stop offset="0.846" stop-color="#fcdddd"/><stop offset="0.885" stop-color="#fac6c6"/><stop offset="0.923" stop-color="#f3f1fe"/><stop offset="0.962" stop-color="#e2ddfc"/><stop offset="1.000" stop-color="#ebe9fd"/></linearGradient><linearGradient id="h9"><stop offset="0.000" stop-color="#d5cffa"/><stop offset="0.038" stop-color="#faf9ff"/><stop offset="0.077" stop-color="#ded9fc"/><stop offset="0.115" stop-color="#d3ccfa"/><stop offset="0.154" stop-color="#fffbfb"/><stop offset="0.192" stop-color="#f4f2fe"/><stop offset="0.231" stop-color="#cec7fa"/><stop offset="0.269" stop-color="#c5bdf9"/><stop offset="0.308" stop-color="#cec6fa"/><stop offset="0.346" stop-color="#d6d0fb"/><stop offset="0.385" stop-color="#fff6f6"/><stop offset="0.423" stop-color="#f6f5fe"/><stop offset="0.462" stop-color="#ffffff"/><stop offset="0.500" stop-color="#f7f6ff"/><stop offset="0.538" stop-color="#faf9ff"/><stop offset="0.577" stop-color="#b5aaf7"/><stop offset="0.615" stop-color="#ded9fb"/><stop offset="0.654" stop-color="#fff9f9"/><stop offset="0.692" stop-color="#fffcfc"/><stop offset="0.731" stop-color="#c6bef9"/><stop offset="0.769" stop-color="#d5cffa"/><stop offset="0.808" stop-color="#f8b3b3"/><stop offset="0.846" stop-color="#fbd6d6"/><stop offset="0.885" stop-color="#f9c0c0"/><stop offset="0.923" stop-color="#fffcfc"/><stop offset="0.962" stop-color="#d6d0fb"/><stop offset="1.000" stop-color="#dcd7fb"/></linearGradient><linearGradient id="h10"><stop offset="0.000" stop-color="#8f7ef2"/><stop offset="0.038" stop-color="#d7d1fb"/><stop offset="0.077" stop-color="#c7bef9"/><stop offset="0.115" stop-color="#d7d1fb"/><stop offset="0.154" stop-color="#e9e6fd"/><stop offset="0.192" stop-color="#f6a0a0"/><stop offset="0.231" stop-color="#eb3939"/><stop offset="0.269" stop-color="#f27d7d"/><stop offset="0.308" stop-color="#c5bdf9"/><stop offset="0.346" stop-color="#eeebfd"/><stop offset="0.385" stop-color="#e2defc"/><stop offset="0.423" stop-color="#fbd5d5"/><stop offset="0.462" stop-color="#f9f8ff"/><stop offset="0.500" stop-color="#fbfbff"/><stop offset="0.538" stop-color="#fffafa"/><stop offset="0.577" stop-color="#d8d2fb"/><stop offset="0.615" stop-color="#b1a6f6"/><stop offset="0.654" stop-color="#c7bff9"/><stop offset="0.692" stop-color="#bfb6f8"/><stop offset="0.731" stop-color="#ddd8fb"/><stop offset="0.769" stop-color="#a396f4"/><stop offset="0.808" stop-color="#a598f5"/><stop offset="0.846" stop-color="#c3baf8"/><stop offset="0.885" stop-color="#9585f3"/><stop offset="0.923" stop-color="#beb4f8"/><stop offset="0.962" stop-color="#ddd9fb"/><stop offset="1.000" stop-color="#b7acf7"/></linearGradient><linearGradient id="h11"><stop offset="0.000" stop-color="#bbb1f7"/><stop offset="0.038" stop-color="#c1b8f8"/><stop offset="0.077" stop-color="#9f91f4"/><stop offset="0.115" stop-color="#9e90f4"/><stop offset="0.154" stop-color="#c2b9f8"/><stop offset="0.192" stop-color="#fef4f4"/><stop offset="0.231" stop-color="#f16e6e"/><stop offset="0.269" stop-color="#f49090"/><stop offset="0.308" stop-color="#faf9ff"/><stop offset="0.346" stop-color="#cfc8fa"/><stop offset="0.385" stop-color="#fef5f5"/><stop offset="0.423" stop-color="#f8b2b2"/><stop offset="0.462" stop-color="#fbcfcf"/><stop offset="0.500" stop-color="#fef1f1"/><stop offset="0.538" stop-color="#f9f8ff"/><stop offset="0.577" stop-color="#c2baf8"/><stop offset="0.615" stop-color="#e9e5fd"/><stop offset="0.654" stop-color="#d1cbfa"/><stop offset="0.692" stop-color="#d9d3fb"/><stop offset="0.731" stop-color="#cfc8fa"/><stop offset="0.769" stop-color="#c3baf8"/><stop offset="0.808" stop-color="#b5aaf7"/><stop offset="0.846" stop-color="#afa3f6"/><stop offset="0.885" stop-color="#ada1f6"/><stop offset="0.923" stop-color="#c6bef9"/><stop offset="0.962" stop-color="#bbb1f7"/><stop offset="1.000" stop-color="#cdc5f9"/></linearGradient><linearGradient id="h12"><stop offset="0.000" stop-color="#a193f4"/><stop offset="0.038" stop-color="#cdc6f9"/><stop offset="0.077" stop-color="#9788f3"/><stop offset="0.115" stop-color="#b3a8f6"/><stop offset="0.154" stop-color="#cbc3f9"/><stop offset="0.192" stop-color="#e0dbfc"/><stop offset="0.231" stop-color="#ee5858"/><stop offset="0.269" stop-color="#f48e8e"/><stop offset="0.308" stop-color="#f8b8b8"/><stop offset="0.346" stop-color="#cbc3f9"/><stop offset="0.385" stop-color="#c9c1f9"/><stop offset="0.423" stop-color="#fbd0d0"/><stop offset="0.462" stop-color="#faf9ff"/><stop offset="0.500" stop-color="#c8c0f9"/><stop offset="0.538" stop-color="#cfc8fa"/><stop offset="0.577" stop-color="#c6bef9"/><stop offset="0.615" stop-color="#dbd5fb"/><stop offset="0.654" stop-color="#a395f4"/><stop offset="0.692" stop-color="#aca0f6"/><stop offset="0.731" stop-color="#ddd8fb"/><stop offset="0.769" stop-color="#cac2f9"/><stop offset="0.808" stop-color="#9788f3"/><stop offset="0.846" stop-color="#a79af5"/><stop offset="0.885" stop-color="#a89cf5"/><stop offset="0.923" stop-color="#c5bcf8"/><stop offset="0.962" stop-color="#bfb6f8"/><stop offset="1.000" stop-color="#d4cdfa"/></linearGradient><linearGradient id="h13"><stop offset="0.000" stop-color="#e2defc"/><stop offset="0.038" stop-color="#f6f4fe"/><stop offset="0.077" stop-color="#f6f4fe"/><stop offset="0.115" stop-color="#f7f6ff"/><stop offset="0.154" stop-color="#f8f7ff"/><stop offset="0.192" stop-color="#f9bcbc"/><stop offset="0.231" stop-color="#ee5656"/><stop offset="0.269" stop-color="#e81e1e"/><stop offset="0.308" stop-color="#f59999"/><stop offset="0.346" stop-color="#f59696"/><stop offset="0.385" stop-color="#f4f2fe"/><stop offset="0.423" stop-color="#f59b9b"/><stop offset="0.462" stop-color="#f8b2b2"/><stop offset="0.500" stop-color="#fbd4d4"/><stop offset="0.538" stop-color="#f8b4b4"/><stop offset="0.577" stop-color="#fff9f9"/><stop offset="0.615" stop-color="#f2f0fe"/><stop offset="0.654" stop-color="#fde6e6"/><stop offset="0.692" stop-color="#fcdbdb"/><stop offset="0.731" stop-color="#f2f0fe"/><stop offset="0.769" stop-color="#ded9fb"/><stop offset="0.808" stop-color="#e4e0fc"/><stop offset="0.846" stop-color="#e5e1fc"/><stop offset="0.885" stop-color="#fcfbff"/><stop offset="0.923" stop-color="#d6d0fb"/><stop offset="0.962" stop-color="#dfdafc"/><stop offset="1.000" stop-color="#edeafd"/></linearGradient><linearGradient id="h14"><stop offset="0.000" stop-color="#b6abf7"/><stop offset="0.038" stop-color="#ded9fc"/><stop offset="0.077" stop-color="#e4e0fc"/><stop offset="0.115" stop-color="#c5bdf9"/><stop offset="0.154" stop-color="#d8d3fb"/><stop offset="0.192" stop-color="#d0cafa"/><stop offset="0.231" stop-color="#fcdddd"/><stop offset="0.269" stop-color="#f27f7f"/><stop offset="0.308" stop-color="#ef6363"/><stop offset="0.346" stop-color="#facece"/><stop offset="0.385" stop-color="#dfdafc"/><stop offset="0.423" stop-color="#f8b9b9"/><stop offset="0.462" stop-color="#fbfaff"/><stop offset="0.500" stop-color="#fbd7d7"/><stop offset="0.538" stop-color="#fef1f1"/><stop offset="0.577" stop-color="#fef1f1"/><stop offset="0.615" stop-color="#c3bbf8"/><stop offset="0.654" stop-color="#d6cffa"/><stop offset="0.692" stop-color="#ffffff"/><stop offset="0.731" stop-color="#a294f4"/><stop offset="0.769" stop-color="#a598f5"/><stop offset="0.808" stop-color="#d2ccfa"/><stop offset="0.846" stop-color="#ccc5f9"/><stop offset="0.885" stop-color="#f1effe"/><stop offset="0.923" stop-color="#e5e1fc"/><stop offset="0.962" stop-color="#d0c9fa"/><stop offset="1.000" stop-color="#f8f7ff"/></linearGradient><linearGradient id="h15"><stop offset="0.000" stop-color="#cfc8fa"/><stop offset="0.038" stop-color="#ded9fb"/><stop offset="0.077" stop-color="#c4bbf8"/><stop offset="0.115" stop-color="#c1b8f8"/><stop offset="0.154" stop-color="#edeafd"/><stop offset="0.192" stop-color="#e0dbfc"/><stop offset="0.231" stop-color="#f6a0a0"/><stop offset="0.269" stop-color="#ed4747"/><stop offset="0.308" stop-color="#ec4141"/><stop offset="0.346" stop-color="#fce1e1"/><stop offset="0.385" stop-color="#fffbfb"/><stop offset="0.423" stop-color="#fff9f9"/><stop offset="0.462" stop-color="#fde5e5"/><stop offset="0.500" stop-color="#fef5f5"/><stop offset="0.538" stop-color="#fce2e2"/><stop offset="0.577" stop-color="#fde5e5"/><stop offset="0.615" stop-color="#e4e0fc"/><stop offset="0.654" stop-color="#dfdafc"/><stop offset="0.692" stop-color="#efedfe"/><stop offset="0.731" stop-color="#fffefe"/><stop offset="0.769" stop-color="#c7bff9"/><stop offset="0.808" stop-color="#d8d2fb"/><stop offset="0.846" stop-color="#f1eefe"/><stop offset="0.885" stop-color="#b8aef7"/><stop offset="0.923" stop-color="#c5bdf9"/><stop offset="0.962" stop-color="#ffffff"/><stop offset="1.000" stop-color="#f1effe"/></linearGradient><linearGradient id="h16"><stop offset="0.000" stop-color="#ab9ff5"/><stop offset="0.038" stop-color="#f0edfe"/><stop offset="0.077" stop-color="#ded9fb"/><stop offset="0.115" stop-color="#e9e6fd"/><stop offset="0.154" stop-color="#fde9e9"/><stop offset="0.192" stop-color="#fef0f0"/><stop offset="0.231" stop-color="#fefdff"/><stop offset="0.269" stop-color="#f7b0b0"/><stop offset="0.308" stop-color="#ee5353"/><stop offset="0.346" stop-color="#f38787"/><stop offset="0.385" stop-color="#fce1e1"/><stop offset="0.423" stop-color="#ece9fd"/><stop offset="0.462" stop-color="#e9e6fd"/><stop offset="0.500" stop-color="#fef5f5"/><stop offset="0.538" stop-color="#f8f7ff"/><stop offset="0.577" stop-color="#dbd6fb"/><stop offset="0.615" stop-color="#fde7e7"/><stop offset="0.654" stop-color="#f0eefe"/><stop offset="0.692" stop-color="#bcb2f7"/><stop offset="0.731" stop-color="#cdc6f9"/><stop offset="0.769" stop-color="#eeebfd"/><stop offset="0.808" stop-color="#c4bbf8"/><stop offset="0.846" stop-color="#e5e2fc"/><stop offset="0.885" stop-color="#aa9df5"/><stop offset="0.923" stop-color="#c4bbf8"/><stop offset="0.962" stop-color="#f3f1fe"/><stop offset="1.000" stop-color="#dcd7fb"/></linearGradient><linearGradient id="h17"><stop offset="0.000" stop-color="#bdb3f7"/><stop offset="0.038" stop-color="#d7d1fb"/><stop offset="0.077" stop-color="#dcd6fb"/><stop offset="0.115" stop-color="#c3baf8"/><stop offset="0.154" stop-color="#fafaff"/><stop offset="0.192" stop-color="#f2f0fe"/><stop offset="0.231" stop-color="#f9bdbd"/><stop offset="0.269" stop-color="#f49393"/><stop offset="0.308" stop-color="#eb3a3a"/><stop offset="0.346" stop-color="#f38787"/><stop offset="0.385" stop-color="#feeeee"/><stop offset="0.423" stop-color="#fac8c8"/><stop offset="0.462" stop-color="#e6e3fc"/><stop offset="0.500" stop-color="#ded9fb"/><stop offset="0.538" stop-color="#dad5fb"/><stop offset="0.577" stop-color="#f3f1fe"/><stop offset="0.615" stop-color="#feefef"/><stop offset="0.654" stop-color="#f8f6ff"/><stop offset="0.692" stop-color="#fef2f2"/><stop offset="0.731" stop-color="#b8aef7"/><stop offset="0.769" stop-color="#b4a9f6"/><stop offset="0.808" stop-color="#f6f5fe"/><stop offset="0.846" stop-color="#cfc8fa"/><stop offset="0.885" stop-color="#f1effe"/><stop offset="0.923" stop-color="#d2cbfa"/><stop offset="0.962" stop-color="#c2b9f8"/><stop offset="1.000" stop-color="#cac2f9"/></linearGradient><linearGradient id="h18"><stop offset="0.000" stop-color="#d6d0fb"/><stop offset="0.038" stop-color="#bab0f7"/><stop offset="0.077" stop-color="#a699f5"/><stop offset="0.115" stop-color="#afa3f6"/><stop offset="0.154" stop-color="#c0b7f8"/><stop offset="0.192" stop-color="#a496f4"/><stop offset="0.231" stop-color="#f6f5fe"/><stop offset="0.269" stop-color="#feeeee"/><stop offset="0.308" stop-color="#ec3f3f"/><stop offset="0.346" stop-color="#f27777"/><stop offset="0.385" stop-color="#facece"/><stop offset="0.423" stop-color="#d4cdfa"/><stop offset="0.462" stop-color="#b7adf7"/><stop offset="0.500" stop-color="#fefdff"/><stop offset="0.538" stop-color="#f0edfe"/><stop offset="0.577" stop-color="#bcb2f7"/><stop offset="0.615" stop-color="#edeafd"/><stop offset="0.654" stop-color="#e5e2fc"/><stop offset="0.692" stop-color="#b9aef7"/><stop offset="0.731" stop-color="#c4bbf8"/><stop offset="0.769" stop-color="#e3dffc"/><stop offset="0.808" stop-color="#bab0f7"/><stop offset="0.846" stop-color="#e2defc"/><stop offset="0.885" stop-color="#a497f5"/><stop offset="0.923" stop-color="#b1a6f6"/><stop offset="0.962" stop-color="#cec6fa"/><stop offset="1.000" stop-color="#a395f4"/></linearGradient><linearGradient id="h19"><stop offset="0.000" stop-color="#e1ddfc"/><stop offset="0.038" stop-color="#bfb6f8"/><stop offset="0.077" stop-color="#dad4fb"/><stop offset="0.115" stop-color="#aa9ef5"/><stop offset="0.154" stop-color="#bbb0f7"/><stop offset="0.192" stop-color="#cbc3f9"/><stop offset="0.231" stop-color="#c1b8f8"/><stop offset="0.269" stop-color="#fac6c6"/><stop offset="0.308" stop-color="#f6a6a6"/><stop offset="0.346" stop-color="#ec4444"/><stop offset="0.385" stop-color="#fcdcdc"/><stop offset="0.423" stop-color="#fdfcff"/><stop offset="0.462" stop-color="#ddd8fb"/><stop offset="0.500" stop-color="#d8d3fb"/><stop offset="0.538" stop-color="#b6abf7"/><stop offset="0.577" stop-color="#b8adf7"/><stop offset="0.615" stop-color="#f4f2fe"/><stop offset="0.654" stop-color="#cac2f9"/><stop offset="0.692" stop-color="#c1b8f8"/><stop offset="0.731" stop-color="#ada1f6"/><stop offset="0.769" stop-color="#b5aaf7"/><stop offset="0.808" stop-color="#b1a6f6"/><stop offset="0.846" stop-color="#a091f4"/><stop offset="0.885" stop-color="#d6d0fb"/><stop offset="0.923" stop-color="#bab0f7"/><stop offset="0.962" stop-color="#aa9ef5"/><stop offset="1.000" stop-color="#dad4fb"/></linearGradient><linearGradient id="h20"><stop offset="0.000" stop-color="#b5aaf7"/><stop offset="0.038" stop-color="#e6e3fc"/><stop offset="0.077" stop-color="#a99cf5"/><stop offset="0.115" stop-color="#c4bcf8"/><stop offset="0.154" stop-color="#e7e3fd"/><stop offset="0.192" stop-color="#e4e0fc"/><stop offset="0.231" stop-color="#fff6f6"/><stop offset="0.269" stop-color="#fcdddd"/><stop offset="0.308" stop-color="#f7adad"/><stop offset="0.346" stop-color="#bfb5f8"/><stop offset="0.385" stop-color="#eeecfd"/><stop offset="0.423" stop-color="#ada1f6"/><stop offset="0.462" stop-color="#eeebfd"/><stop offset="0.500" stop-color="#c7bef9"/><stop offset="0.538" stop-color="#afa3f6"/><stop offset="0.577" stop-color="#c2b9f8"/><stop offset="0.615" stop-color="#a699f5"/><stop offset="0.654" stop-color="#d8d3fb"/><stop offset="0.692" stop-color="#b2a6f6"/><stop offset="0.731" stop-color="#e9e6fd"/><stop offset="0.769" stop-color="#cec7fa"/><stop offset="0.808" stop-color="#bbb1f7"/><stop offset="0.846" stop-color="#b0a5f6"/><stop offset="0.885" stop-color="#d0c9fa"/><stop offset="0.923" stop-color="#ada1f6"/><stop offset="0.962" stop-color="#e7e3fd"/><stop offset="1.000" stop-color="#a698f5"/></linearGradient><linearGradient id="h21"><stop offset="0.000" stop-color="#e8e4fd"/><stop offset="0.038" stop-color="#d0c9fa"/><stop offset="0.077" stop-color="#fbfbff"/><stop offset="0.115" stop-color="#dad4fb"/><stop offset="0.154" stop-color="#f2effe"/><stop offset="0.192" stop-color="#eae7fd"/><stop offset="0.231" stop-color="#f8bbbb"/><stop offset="0.269" stop-color="#f7b0b0"/><stop offset="0.308" stop-color="#fbd8d8"/><stop offset="0.346" stop-color="#c8c0f9"/><stop offset="0.385" stop-color="#ffffff"/><stop offset="0.423" stop-color="#d1cafa"/><stop offset="0.462" stop-color="#efedfe"/><stop offset="0.500" stop-color="#bfb5f8"/><stop offset="0.538" stop-color="#e6e3fc"/><stop offset="0.577" stop-color="#d5cffa"/><stop offset="0.615" stop-color="#e1dcfc"/><stop offset="0.654" stop-color="#cfc8fa"/><stop offset="0.692" stop-color="#bbb1f7"/><stop offset="0.731" stop-color="#d0c9fa"/><stop offset="0.769" stop-color="#c9c1f9"/><stop offset="0.808" stop-color="#c0b7f8"/><stop offset="0.846" stop-color="#e81e1e"/><stop offset="0.885" stop-color="#ee5252"/><stop offset="0.923" stop-color="#d8d3fb"/><stop offset="0.962" stop-color="#fff8f8"/><stop offset="1.000" stop-color="#f9f8ff"/></linearGradient><linearGradient id="h22"><stop offset="0.000" stop-color="#fbd7d7"/><stop offset="0.038" stop-color="#dbd6fb"/><stop offset="0.077" stop-color="#e8e4fd"/><stop offset="0.115" stop-color="#d2ccfa"/><stop offset="0.154" stop-color="#feefef"/><stop offset="0.192" stop-color="#e81e1e"/><stop offset="0.231" stop-color="#e81e1e"/><stop offset="0.269" stop-color="#e81e1e"/><stop offset="0.308" stop-color="#e81e1e"/><stop offset="0.346" stop-color="#feecec"/><stop offset="0.385" stop-color="#e2defc"/><stop offset="0.423" stop-color="#fcdddd"/><stop offset="0.462" stop-color="#ebe8fd"/><stop offset="0.500" stop-color="#fffafa"/><stop offset="0.538" stop-color="#dcd7fb"/><stop offset="0.577" stop-color="#d7d1fb"/><stop offset="0.615" stop-color="#fbd5d5"/><stop offset="0.654" stop-color="#feecec"/><stop offset="0.692" stop-color="#feefef"/><stop offset="0.731" stop-color="#d0c9fa"/><stop offset="0.769" stop-color="#d0c9fa"/><stop offset="0.808" stop-color="#dbd5fb"/><stop offset="0.846" stop-color="#eb3a3a"/><stop offset="0.885" stop-color="#ea2d2d"/><stop offset="0.923" stop-color="#eeebfd"/><stop offset="0.962" stop-color="#d0c9fa"/><stop offset="1.000" stop-color="#e8e4fd"/></linearGradient><linearGradient id="h23"><stop offset="0.000" stop-color="#d0c9fa"/><stop offset="0.038" stop-color="#fef1f1"/><stop offset="0.077" stop-color="#f2f0fe"/><stop offset="0.115" stop-color="#fffeff"/><stop offset="0.154" stop-color="#d6d0fb"/><stop offset="0.192" stop-color="#e81e1e"/><stop offset="0.231" stop-color="#e81e1e"/><stop offset="0.269" stop-color="#e81e1e"/><stop offset="0.308" stop-color="#eb3a3a"/><stop offset="0.346" stop-color="#fef2f2"/><stop offset="0.385" stop-color="#fffefe"/><stop offset="0.423" stop-color="#d6d0fb"/><stop offset="0.462" stop-color="#c1b8f8"/><stop offset="0.500" stop-color="#fef3f3"/><stop offset="0.538" stop-color="#f2f0fe"/><stop offset="0.577" stop-color="#c1b8f8"/><stop offset="0.615" stop-color="#d2ccfa"/><stop offset="0.654" stop-color="#c7bff9"/><stop offset="0.692" stop-color="#fffcfc"/><stop offset="0.731" stop-color="#cfc8fa"/><stop offset="0.769" stop-color="#fdecec"/><stop offset="0.808" stop-color="#fefeff"/><stop offset="0.846" stop-color="#c5bcf8"/><stop offset="0.885" stop-color="#faf9ff"/><stop offset="0.923" stop-color="#dfdbfc"/><stop offset="0.962" stop-color="#fefeff"/><stop offset="1.000" stop-color="#fff7f7"/></linearGradient><linearGradient id="h24"><stop offset="0.000" stop-color="#b2a6f6"/><stop offset="0.038" stop-color="#fcfcff"/><stop offset="0.077" stop-color="#cfc7fa"/><stop offset="0.115" stop-color="#fbfaff"/><stop offset="0.154" stop-color="#e6e2fc"/><stop offset="0.192" stop-color="#e81e1e"/><stop offset="0.231" stop-color="#e81e1e"/><stop offset="0.269" stop-color="#e81e1e"/><stop offset="0.308" stop-color="#e92121"/><stop offset="0.346" stop-color="#aea3f6"/><stop offset="0.385" stop-color="#e3dffc"/><stop offset="0.423" stop-color="#ccc4f9"/><stop offset="0.462" stop-color="#d3cdfa"/><stop offset="0.500" stop-color="#f7f6ff"/><stop offset="0.538" stop-color="#b2a6f6"/><stop offset="0.577" stop-color="#e9e6fd"/><stop offset="0.615" stop-color="#ab9ef5"/><stop offset="0.654" stop-color="#e4e0fc"/><stop offset="0.692" stop-color="#edeafd"/><stop offset="0.731" stop-color="#bdb4f8"/><stop offset="0.769" stop-color="#d6d0fb"/><stop offset="0.808" stop-color="#fbfaff"/><stop offset="0.846" stop-color="#ded9fc"/><stop offset="0.885" stop-color="#d6d0fb"/><stop offset="0.923" stop-color="#bcb3f7"/><stop offset="0.962" stop-color="#aca0f5"/><stop offset="1.000" stop-color="#c6bdf9"/></linearGradient><linearGradient id="h25"><stop offset="0.000" stop-color="#c3bbf8"/><stop offset="0.038" stop-color="#cdc6f9"/><stop offset="0.077" stop-color="#beb4f8"/><stop offset="0.115" stop-color="#efedfe"/><stop offset="0.154" stop-color="#ece9fd"/><stop offset="0.192" stop-color="#ea3030"/><stop offset="0.231" stop-color="#ea3030"/><stop offset="0.269" stop-color="#e81e1e"/><stop offset="0.308" stop-color="#e81e1e"/><stop offset="0.346" stop-color="#fffafa"/><stop offset="0.385" stop-color="#cec6fa"/><stop offset="0.423" stop-color="#c9c1f9"/><stop offset="0.462" stop-color="#fcfbff"/><stop offset="0.500" stop-color="#bbb1f7"/><stop offset="0.538" stop-color="#e0dbfc"/><stop offset="0.577" stop-color="#ccc4f9"/><stop offset="0.615" stop-color="#f6f4fe"/><stop offset="0.654" stop-color="#dfdafc"/><stop offset="0.692" stop-color="#f1effe"/><stop offset="0.731" stop-color="#beb4f8"/><stop offset="0.769" stop-color="#e9e6fd"/><stop offset="0.808" stop-color="#e3dffc"/><stop offset="0.846" stop-color="#d7d1fb"/><stop offset="0.885" stop-color="#f2f0fe"/><stop offset="0.923" stop-color="#f7f6ff"/><stop offset="0.962" stop-color="#b9aff7"/><stop offset="1.000" stop-color="#c8c0f9"/></linearGradient><linearGradient id="h26"><stop offset="0.000" stop-color="#c1b7f8"/><stop offset="0.038" stop-color="#b4a9f6"/><stop offset="0.077" stop-color="#c7bff9"/><stop offset="0.115" stop-color="#c0b7f8"/><stop offset="0.154" stop-color="#ece9fd"/><stop offset="0.192" stop-color="#e81e1e"/><stop offset="0.231" stop-color="#ec4545"/><stop offset="0.269" stop-color="#ea2a2a"/><stop offset="0.308" stop-color="#e81e1e"/><stop offset="0.346" stop-color="#cec7fa"/><stop offset="0.385" stop-color="#bab0f7"/><stop offset="0.423" stop-color="#b2a7f6"/><stop offset="0.462" stop-color="#ada0f6"/><stop offset="0.500" stop-color="#fffcfc"/><stop offset="0.538" stop-color="#edeafd"/><stop offset="0.577" stop-color="#b3a8f6"/><stop offset="0.615" stop-color="#eae7fd"/><stop offset="0.654" stop-color="#fffdfd"/><stop offset="0.692" stop-color="#ddd8fb"/><stop offset="0.731" stop-color="#b5aaf7"/><stop offset="0.769" stop-color="#d6d0fb"/><stop offset="0.808" stop-color="#d1cbfa"/><stop offset="0.846" stop-color="#bcb2f7"/><stop offset="0.885" stop-color="#dbd6fb"/><stop offset="0.923" stop-color="#aca0f6"/><stop offset="0.962" stop-color="#fcfbff"/><stop offset="1.000" stop-color="#e4e0fc"/></linearGradient><linearGradient id="h27"><stop offset="0.000" stop-color="#fde5e5"/><stop offset="0.038" stop-color="#f8f7ff"/><stop offset="0.077" stop-color="#d5cffa"/><stop offset="0.115" stop-color="#d5cffa"/><stop offset="0.154" stop-color="#ccc4f9"/><stop offset="0.192" stop-color="#eb3737"/><stop offset="0.231" stop-color="#e81e1e"/><stop offset="0.269" stop-color="#e81e1e"/><stop offset="0.308" stop-color="#e81e1e"/><stop offset="0.346" stop-color="#d0c9fa"/><stop offset="0.385" stop-color="#f4f2fe"/><stop offset="0.423" stop-color="#fef6f6"/><stop offset="0.462" stop-color="#fdebeb"/><stop offset="0.500" stop-color="#cbc4f9"/><stop offset="0.538" stop-color="#fffefe"/><stop offset="0.577" stop-color="#fff8f8"/><stop offset="0.615" stop-color="#fdfdff"/><stop offset="0.654" stop-color="#d9d3fb"/><stop offset="0.692" stop-color="#cdc5f9"/><stop offset="0.731" stop-color="#fff8f8"/><stop offset="0.769" stop-color="#d8d3fb"/><stop offset="0.808" stop-color="#ddd7fb"/><stop offset="0.846" stop-color="#eceafd"/><stop offset="0.885" stop-color="#ddd8fb"/><stop offset="0.923" stop-color="#fff7f7"/><stop offset="0.962" stop-color="#d1cbfa"/><stop offset="1.000" stop-color="#c0b7f8"/></linearGradient><linearGradient id="h28"><stop offset="0.000" stop-color="#f2f0fe"/><stop offset="0.038" stop-color="#fffafa"/><stop offset="0.077" stop-color="#f9f8ff"/><stop offset="0.115" stop-color="#feefef"/><stop offset="0.154" stop-color="#fdeaea"/><stop offset="0.192" stop-color="#e81e1e"/><stop offset="0.231" stop-color="#e81e1e"/><stop offset="0.269" stop-color="#ea2c2c"/><stop offset="0.308" stop-color="#e81e1e"/><stop offset="0.346" stop-color="#eeecfd"/><stop offset="0.385" stop-color="#c0b6f8"/><stop offset="0.423" stop-color="#f5f3fe"/><stop offset="0.462" stop-color="#c7bff9"/><stop offset="0.500" stop-color="#dfdbfc"/><stop offset="0.538" stop-color="#fdebeb"/><stop offset="0.577" stop-color="#c1b7f8"/><stop offset="0.615" stop-color="#bcb2f7"/><stop offset="0.654" stop-color="#dfdafc"/><stop offset="0.692" stop-color="#c9c1f9"/><stop offset="0.731" stop-color="#f8f6ff"/><stop offset="0.769" stop-color="#b9aff7"/><stop offset="0.808" stop-color="#fffcfc"/><stop offset="0.846" stop-color="#fffafa"/><stop offset="0.885" stop-color="#fdfdff"/><stop offset="0.923" stop-color="#ded9fb"/><stop offset="0.962" stop-color="#d1cbfa"/><stop offset="1.000" stop-color="#f2f0fe"/></linearGradient><linearGradient id="h29"><stop offset="0.000" stop-color="#ddd8fb"/><stop offset="0.038" stop-color="#d6d0fb"/><stop offset="0.077" stop-color="#dfdafc"/><stop offset="0.115" stop-color="#f2f0fe"/><stop offset="0.154" stop-color="#fffefe"/><stop offset="0.192" stop-color="#e81e1e"/><stop offset="0.231" stop-color="#ea3030"/><stop offset="0.269" stop-color="#e91f1f"/><stop offset="0.308" stop-color="#e81e1e"/><stop offset="0.346" stop-color="#e9e6fd"/><stop offset="0.385" stop-color="#d4cdfa"/><stop offset="0.423" stop-color="#c6bef9"/><stop offset="0.462" stop-color="#bdb3f7"/><stop offset="0.500" stop-color="#d2cbfa"/><stop offset="0.538" stop-color="#ddd8fb"/><stop offset="0.577" stop-color="#fef0f0"/><stop offset="0.615" stop-color="#fff8f8"/><stop offset="0.654" stop-color="#fffefe"/><stop offset="0.692" stop-color="#feefef"/><stop offset="0.731" stop-color="#fef1f1"/><stop offset="0.769" stop-color="#ebe8fd"/><stop offset="0.808" stop-color="#fcfbff"/><stop offset="0.846" stop-color="#bbb1f7"/><stop offset="0.885" stop-color="#f0eefe"/><stop offset="0.923" stop-color="#eae7fd"/><stop offset="0.962" stop-color="#cfc8fa"/><stop offset="1.000" stop-color="#e7e4fd"/></linearGradient><linearGradient id="h30"><stop offset="0.000" stop-color="#fefeff"/><stop offset="0.038" stop-color="#feecec"/><stop offset="0.077" stop-color="#eeecfd"/><stop offset="0.115" stop-color="#f2f0fe"/><stop offset="0.154" stop-color="#e81e1e"/><stop offset="0.192" stop-color="#f27e7e"/><stop offset="0.231" stop-color="#f06969"/><stop offset="0.269" stop-color="#ea2929"/><stop offset="0.308" stop-color="#ed4747"/><stop offset="0.346" stop-color="#dbd6fb"/><stop offset="0.385" stop-color="#fdebeb"/><stop offset="0.423" stop-color="#f4f3fe"/><stop offset="0.462" stop-color="#fef5f5"/><stop offset="0.500" stop-color="#f8f7ff"/><stop offset="0.538" stop-color="#fffcfc"/><stop offset="0.577" stop-color="#fff7f7"/><stop offset="0.615" stop-color="#f7f5fe"/><stop offset="0.654" stop-color="#ded9fb"/><stop offset="0.692" stop-color="#e4e0fc"/><stop offset="0.731" stop-color="#facdcd"/><stop offset="0.769" stop-color="#fff9f9"/><stop offset="0.808" stop-color="#ded9fb"/><stop offset="0.846" stop-color="#fbd0d0"/><stop offset="0.885" stop-color="#eae7fd"/><stop offset="0.923" stop-color="#dcd7fb"/><stop offset="0.962" stop-color="#fffbfb"/><stop offset="1.000" stop-color="#eae7fd"/></linearGradient><linearGradient id="h31"><stop offset="0.000" stop-color="#e7e3fd"/><stop offset="0.038" stop-color="#cbc3f9"/><stop offset="0.077" stop-color="#e9e5fd"/><stop offset="0.115" stop-color="#c1b7f8"/><stop offset="0.154" stop-color="#f06a6a"/><stop offset="0.192" stop-color="#ef6060"/><stop offset="0.231" stop-color="#f6a3a3"/><stop offset="0.269" stop-color="#f27878"/><stop offset="0.308" stop-color="#f6a4a4"/><stop offset="0.346" stop-color="#ddd8fb"/><stop offset="0.385" stop-color="#fffcfc"/><stop offset="0.423" stop-color="#e7e3fd"/><stop offset="0.462" stop-color="#f5f3fe"/><stop offset="0.500" stop-color="#f9f8ff"/><stop offset="0.538" stop-color="#c1b8f8"/><stop offset="0.577" stop-color="#fdebeb"/><stop offset="0.615" stop-color="#f6f4fe"/><stop offset="0.654" stop-color="#c0b6f8"/><stop offset="0.692" stop-color="#ffffff"/><stop offset="0.731" stop-color="#d9d3fb"/><stop offset="0.769" stop-color="#c6bdf9"/><stop offset="0.808" stop-color="#feefef"/><stop offset="0.846" stop-color="#e8e4fd"/><stop offset="0.885" stop-color="#faf9ff"/><stop offset="0.923" stop-color="#c3baf8"/><stop offset="0.962" stop-color="#fafaff"/><stop offset="1.000" stop-color="#bcb2f7"/></linearGradient><linearGradient id="h32"><stop offset="0.000" stop-color="#c7bff9"/><stop offset="0.038" stop-color="#a89bf5"/><stop offset="0.077" stop-color="#dbd5fb"/><stop offset="0.115" stop-color="#b9aff7"/><stop offset="0.154" stop-color="#f69e9e"/><stop offset="0.192" stop-color="#f06969"/><stop offset="0.231" stop-color="#f48e8e"/><stop offset="0.269" stop-color="#ee5151"/><stop offset="0.308" stop-color="#f17474"/><stop offset="0.346" stop-color="#f3f1fe"/><stop offset="0.385" stop-color="#d8d2fb"/><stop offset="0.423" stop-color="#f7f5fe"/><stop offset="0.462" stop-color="#f3f1fe"/><stop offset="0.500" stop-color="#b6abf7"/><stop offset="0.538" stop-color="#e8e4fd"/><stop offset="0.577" stop-color="#c5bcf8"/><stop offset="0.615" stop-color="#e9e6fd"/><stop offset="0.654" stop-color="#e2defc"/><stop offset="0.692" stop-color="#efecfd"/><stop offset="0.731" stop-color="#b2a6f6"/><stop offset="0.769" stop-color="#c7bff9"/><stop offset="0.808" stop-color="#e7e3fd"/><stop offset="0.846" stop-color="#f9f9ff"/><stop offset="0.885" stop-color="#e6e2fc"/><stop offset="0.923" stop-color="#ab9ef5"/><stop offset="0.962" stop-color="#dbd6fb"/><stop offset="1.000" stop-color="#b0a4f6"/></linearGradient><linearGradient id="h33"><stop offset="0.000" stop-color="#fffefe"/><stop offset="0.038" stop-color="#c4bcf8"/><stop offset="0.077" stop-color="#feeeee"/><stop offset="0.115" stop-color="#f5f4fe"/><stop offset="0.154" stop-color="#d1cafa"/><stop offset="0.192" stop-color="#cbc4f9"/><stop offset="0.231" stop-color="#e1ddfc"/><stop offset="0.269" stop-color="#ee5151"/><stop offset="0.308" stop-color="#f17272"/><stop offset="0.346" stop-color="#c4bcf8"/><stop offset="0.385" stop-color="#bcb3f7"/><stop offset="0.423" stop-color="#c4bbf8"/><stop offset="0.462" stop-color="#fffefe"/><stop offset="0.500" stop-color="#cbc3f9"/><stop offset="0.538" stop-color="#ebe8fd"/><stop offset="0.577" stop-color="#d4cdfa"/><stop offset="0.615" stop-color="#f6f5fe"/><stop offset="0.654" stop-color="#dcd6fb"/><stop offset="0.692" stop-color="#c7bff9"/><stop offset="0.731" stop-color="#fef5f5"/><stop offset="0.769" stop-color="#e9e6fd"/><stop offset="0.808" stop-color="#f7f5fe"/><stop offset="0.846" stop-color="#fffdfd"/><stop offset="0.885" stop-color="#fdebeb"/><stop offset="0.923" stop-color="#bcb2f7"/><stop offset="0.962" stop-color="#d8d3fb"/><stop offset="1.000" stop-color="#c8c0f9"/></linearGradient><linearGradient id="h34"><stop offset="0.000" stop-color="#fff9f9"/><stop offset="0.038" stop-color="#fdfdff"/><stop offset="0.077" stop-color="#bbb1f7"/><stop offset="0.115" stop-color="#c7bff9"/><stop offset="0.154" stop-color="#ffffff"/><stop offset="0.192" stop-color="#f3f1fe"/><stop offset="0.231" stop-color="#dad4fb"/><stop offset="0.269" stop-color="#f38484"/><stop offset="0.308" stop-color="#f7aeae"/><stop offset="0.346" stop-color="#fffdfd"/><stop offset="0.385" stop-color="#dad4fb"/><stop offset="0.423" stop-color="#fff9f9"/><stop offset="0.462" stop-color="#edeafd"/><stop offset="0.500" stop-color="#beb5f8"/><stop offset="0.538" stop-color="#d4cefa"/><stop offset="0.577" stop-color="#cac3f9"/><stop offset="0.615" stop-color="#fff7f7"/><stop offset="0.654" stop-color="#ebe8fd"/><stop offset="0.692" stop-color="#f49090"/><stop offset="0.731" stop-color="#f27f7f"/><stop offset="0.769" stop-color="#f06666"/><stop offset="0.808" stop-color="#e0dcfc"/><stop offset="0.846" stop-color="#eae7fd"/><stop offset="0.885" stop-color="#d9d4fb"/><stop offset="0.923" stop-color="#d6d0fb"/><stop offset="0.962" stop-color="#b8aef7"/><stop offset="1.000" stop-color="#eae7fd"/></linearGradient><linearGradient id="h35"><stop offset="0.000" stop-color="#afa3f6"/><stop offset="0.038" stop-color="#d5cffa"/><stop offset="0.077" stop-color="#fffafa"/><stop offset="0.115" stop-color="#b1a5f6"/><stop offset="0.154" stop-color="#baaff7"/><stop offset="0.192" stop-color="#e7e4fd"/><stop offset="0.231" stop-color="#c5bcf8"/><stop offset="0.269" stop-color="#f7afaf"/><stop offset="0.308" stop-color="#f49191"/><stop offset="0.346" stop-color="#c4bbf8"/><stop offset="0.385" stop-color="#dfdafc"/><stop offset="0.423" stop-color="#dbd6fb"/><stop offset="0.462" stop-color="#fffefe"/><stop offset="0.500" stop-color="#fffafa"/><stop offset="0.538" stop-color="#b0a4f6"/><stop offset="0.577" stop-color="#ded9fb"/><stop offset="0.615" stop-color="#f0eefe"/><stop offset="0.654" stop-color="#f9f8ff"/><stop offset="0.692" stop-color="#ec4040"/><stop offset="0.731" stop-color="#ee5353"/><stop offset="0.769" stop-color="#ee5353"/><stop offset="0.808" stop-color="#cdc5f9"/><stop offset="0.846" stop-color="#c6bdf9"/><stop offset="0.885" stop-color="#f2f0fe"/><stop offset="0.923" stop-color="#f9f8ff"/><stop offset="0.962" stop-color="#ffffff"/><stop offset="1.000" stop-color="#e8e5fd"/></linearGradient><linearGradient id="h36"><stop offset="0.000" stop-color="#eeebfd"/><stop offset="0.038" stop-color="#fbcfcf"/><stop offset="0.077" stop-color="#feeded"/><stop offset="0.115" stop-color="#fcdcdc"/><stop offset="0.154" stop-color="#cac2f9"/><stop offset="0.192" stop-color="#dbd6fb"/><stop offset="0.231" stop-color="#cec7fa"/><stop offset="0.269" stop-color="#b0a5f6"/><stop offset="0.308" stop-color="#c8c0f9"/><stop offset="0.346" stop-color="#c7bff9"/><stop offset="0.385" stop-color="#fffdfd"/><stop offset="0.423" stop-color="#d5cffa"/><stop offset="0.462" stop-color="#cbc3f9"/><stop offset="0.500" stop-color="#c0b7f8"/><stop offset="0.538" stop-color="#c0b6f8"/><stop offset="0.577" stop-color="#cac2f9"/><stop offset="0.615" stop-color="#b7acf7"/><stop offset="0.654" stop-color="#aca0f5"/><stop offset="0.692" stop-color="#f7f6fe"/><stop offset="0.731" stop-color="#d3ccfa"/><stop offset="0.769" stop-color="#d2cbfa"/><stop offset="0.808" stop-color="#ddd8fb"/><stop offset="0.846" stop-color="#c5bdf9"/><stop offset="0.885" stop-color="#fdfdff"/><stop offset="0.923" stop-color="#f4f3fe"/><stop offset="0.962" stop-color="#fef1f1"/><stop offset="1.000" stop-color="#c6bef9"/></linearGradient><linearGradient id="h37"><stop offset="0.000" stop-color="#f6f4fe"/><stop offset="0.038" stop-color="#f48d8d"/><stop offset="0.077" stop-color="#fcdbdb"/><stop offset="0.115" stop-color="#f48f8f"/><stop offset="0.154" stop-color="#f9f8ff"/><stop offset="0.192" stop-color="#cdc5f9"/><stop offset="0.231" stop-color="#d5cffa"/><stop offset="0.269" stop-color="#f8f7ff"/><stop offset="0.308" stop-color="#fbd5d5"/><stop offset="0.346" stop-color="#e5e1fc"/><stop offset="0.385" stop-color="#fef1f1"/><stop offset="0.423" stop-color="#ebe8fd"/><stop offset="0.462" stop-color="#fde5e5"/><stop offset="0.500" stop-color="#ccc4f9"/><stop offset="0.538" stop-color="#f0eefe"/><stop offset="0.577" stop-color="#fce1e1"/><stop offset="0.615" stop-color="#ded9fb"/><stop offset="0.654" stop-color="#dcd7fb"/><stop offset="0.692" stop-color="#c8c0f9"/><stop offset="0.731" stop-color="#d4cefa"/><stop offset="0.769" stop-color="#ddd8fb"/><stop offset="0.808" stop-color="#fffafa"/><stop offset="0.846" stop-color="#d9d3fb"/><stop offset="0.885" stop-color="#f9bdbd"/><stop offset="0.923" stop-color="#fbd7d7"/><stop offset="0.962" stop-color="#f6a2a2"/><stop offset="1.000" stop-color="#fde5e5"/></linearGradient><linearGradient id="h38"><stop offset="0.000" stop-color="#d2cbfa"/><stop offset="0.038" stop-color="#f7afaf"/><stop offset="0.077" stop-color="#f49191"/><stop offset="0.115" stop-color="#f9c0c0"/><stop offset="0.154" stop-color="#c8c0f9"/><stop offset="0.192" stop-color="#fef4f4"/><stop offset="0.231" stop-color="#fdebeb"/><stop offset="0.269" stop-color="#dfdafc"/><stop offset="0.308" stop-color="#cdc5f9"/><stop offset="0.346" stop-color="#a497f5"/><stop offset="0.385" stop-color="#c3baf8"/><stop offset="0.423" stop-color="#e0dbfc"/><stop offset="0.462" stop-color="#ccc4f9"/><stop offset="0.500" stop-color="#e4e0fc"/><stop offset="0.538" stop-color="#a699f5"/><stop offset="0.577" stop-color="#b0a5f6"/><stop offset="0.615" stop-color="#d5cffa"/><stop offset="0.654" stop-color="#f9f8ff"/><stop offset="0.692" stop-color="#e4e0fc"/><stop offset="0.731" stop-color="#fcfbff"/><stop offset="0.769" stop-color="#ded9fc"/><stop offset="0.808" stop-color="#c6bdf9"/><stop offset="0.846" stop-color="#e5e1fc"/><stop offset="0.885" stop-color="#fef2f2"/><stop offset="0.923" stop-color="#f6a7a7"/><stop offset="0.962" stop-color="#facdcd"/><stop offset="1.000" stop-color="#ece9fd"/></linearGradient><linearGradient id="h39"><stop offset="0.000" stop-color="#d4cefa"/><stop offset="0.038" stop-color="#fbd7d7"/><stop offset="0.077" stop-color="#f3f2fe"/><stop offset="0.115" stop-color="#f59b9b"/><stop offset="0.154" stop-color="#efecfd"/><stop offset="0.192" stop-color="#fce1e1"/><stop offset="0.231" stop-color="#c3baf8"/><stop offset="0.269" stop-color="#f3f1fe"/><stop offset="0.308" stop-color="#fdfcff"/><stop offset="0.346" stop-color="#ada1f6"/><stop offset="0.385" stop-color="#998af3"/><stop offset="0.423" stop-color="#9e90f4"/><stop offset="0.462" stop-color="#9d8ff4"/><stop offset="0.500" stop-color="#d3cdfa"/><stop offset="0.538" stop-color="#9889f3"/><stop offset="0.577" stop-color="#d7d2fb"/><stop offset="0.615" stop-color="#b5abf7"/><stop offset="0.654" stop-color="#edeafd"/><stop offset="0.692" stop-color="#f1effe"/><stop offset="0.731" stop-color="#eeebfd"/><stop offset="0.769" stop-color="#f7f6fe"/><stop offset="0.808" stop-color="#f2f0fe"/><stop offset="0.846" stop-color="#dad5fb"/><stop offset="0.885" stop-color="#fefeff"/><stop offset="0.923" stop-color="#d4cefa"/><stop offset="0.962" stop-color="#fcfbff"/><stop offset="1.000" stop-color="#ffffff"/></linearGradient><linearGradient id="h40"><stop offset="0.000" stop-color="#e4e0fc"/><stop offset="0.038" stop-color="#feeded"/><stop offset="0.077" stop-color="#fbd2d2"/><stop offset="0.115" stop-color="#f0eefe"/><stop offset="0.154" stop-color="#e1ddfc"/><stop offset="0.192" stop-color="#f6f5fe"/><stop offset="0.231" stop-color="#fbd7d7"/><stop offset="0.269" stop-color="#d4cefa"/><stop offset="0.308" stop-color="#cac2f9"/><stop offset="0.346" stop-color="#c5bdf9"/><stop offset="0.385" stop-color="#d5cffa"/><stop offset="0.423" stop-color="#dfdbfc"/><stop offset="0.462" stop-color="#bbb1f7"/><stop offset="0.500" stop-color="#f2f0fe"/><stop offset="0.538" stop-color="#b0a4f6"/><stop offset="0.577" stop-color="#ded9fb"/><stop offset="0.615" stop-color="#a496f4"/><stop offset="0.654" stop-color="#cbc4f9"/><stop offset="0.692" stop-color="#d5cefa"/><stop offset="0.731" stop-color="#cec7fa"/><stop offset="0.769" stop-color="#f5f3fe"/><stop offset="0.808" stop-color="#f9f8ff"/><stop offset="0.846" stop-color="#d9d3fb"/><stop offset="0.885" stop-color="#fbd7d7"/><stop offset="0.923" stop-color="#e9e5fd"/><stop offset="0.962" stop-color="#d6d0fb"/><stop offset="1.000" stop-color="#d8d3fb"/></linearGradient></defs>
<rect x="402.2" y="641.50" width="153.0" height="3.28" fill="url(#h0)"/><rect x="402.2" y="644.48" width="153.0" height="3.28" fill="url(#h1)"/><rect x="402.2" y="647.46" width="153.0" height="3.28" fill="url(#h2)"/><rect x="402.2" y="650.44" width="153.0" height="3.28" fill="url(#h3)"/><rect x="402.2" y="653.42" width="153.0" height="3.28" fill="url(#h4)"/><rect x="402.2" y="656.40" width="153.0" height="3.28" fill="url(#h5)"/><rect x="402.2" y="659.38" width="153.0" height="3.28" fill="url(#h6)"/><rect x="402.2" y="662.36" width="153.0" height="3.28" fill="url(#h7)"/><rect x="402.2" y="665.34" width="153.0" height="3.28" fill="url(#h8)"/><rect x="402.2" y="668.32" width="153.0" height="3.28" fill="url(#h9)"/><rect x="402.2" y="673.30" width="153.0" height="3.17" fill="url(#h10)"/><rect x="402.2" y="676.17" width="153.0" height="3.17" fill="url(#h11)"/><rect x="402.2" y="679.04" width="153.0" height="3.17" fill="url(#h12)"/><rect x="402.2" y="681.91" width="153.0" height="3.17" fill="url(#h13)"/><rect x="402.2" y="684.78" width="153.0" height="3.17" fill="url(#h14)"/><rect x="402.2" y="687.65" width="153.0" height="3.17" fill="url(#h15)"/><rect x="402.2" y="690.52" width="153.0" height="3.17" fill="url(#h16)"/><rect x="402.2" y="693.39" width="153.0" height="3.17" fill="url(#h17)"/><rect x="402.2" y="696.26" width="153.0" height="3.17" fill="url(#h18)"/><rect x="402.2" y="699.13" width="153.0" height="3.17" fill="url(#h19)"/><rect x="402.2" y="704.00" width="153.0" height="3.28" fill="url(#h20)"/><rect x="402.2" y="706.98" width="153.0" height="3.28" fill="url(#h21)"/><rect x="402.2" y="709.96" width="153.0" height="3.28" fill="url(#h22)"/><rect x="402.2" y="712.94" width="153.0" height="3.28" fill="url(#h23)"/><rect x="402.2" y="715.92" width="153.0" height="3.28" fill="url(#h24)"/><rect x="402.2" y="718.90" width="153.0" height="3.28" fill="url(#h25)"/><rect x="402.2" y="721.88" width="153.0" height="3.28" fill="url(#h26)"/><rect x="402.2" y="724.86" width="153.0" height="3.28" fill="url(#h27)"/><rect x="402.2" y="727.84" width="153.0" height="3.28" fill="url(#h28)"/><rect x="402.2" y="730.82" width="153.0" height="3.28" fill="url(#h29)"/><rect x="402.2" y="735.80" width="153.0" height="3.17" fill="url(#h30)"/><rect x="402.2" y="738.67" width="153.0" height="3.17" fill="url(#h31)"/><rect x="402.2" y="741.55" width="153.0" height="3.17" fill="url(#h32)"/><rect x="402.2" y="744.42" width="153.0" height="3.17" fill="url(#h33)"/><rect x="402.2" y="747.29" width="153.0" height="3.17" fill="url(#h34)"/><rect x="402.2" y="750.16" width="153.0" height="3.17" fill="url(#h35)"/><rect x="402.2" y="753.04" width="153.0" height="3.17" fill="url(#h36)"/><rect x="402.2" y="755.91" width="153.0" height="3.17" fill="url(#h37)"/><rect x="402.2" y="758.78" width="153.0" height="3.17" fill="url(#h38)"/><rect x="402.2" y="761.65" width="153.0" height="3.17" fill="url(#h39)"/><rect x="402.2" y="764.53" width="153.0" height="3.17" fill="url(#h40)"/>
<line x1="402.2" y1="767.9" x2="555.2" y2="767.9" stroke="#333" stroke-width="1.1"/>
<ellipse cx="456.6" cy="705" rx="3.8" ry="66" fill="none" stroke="#6a6a6a" stroke-width="1.8"/>
<line x1="456.6" y1="642" x2="456.6" y2="770" stroke="#111" stroke-width="1.1" stroke-dasharray="0.9,1.6"/>
<ellipse cx="456.6" cy="687.5" rx="4.2" ry="16.5" fill="none" stroke="#6abf3a" stroke-width="1.3"/>
<text x="445.0" y="637.9" font-size="10.5" textLength="24.0" lengthAdjust="spacingAndGlyphs" fill="#888" font-family="Liberation Serif" >Y(1.7)</text>
<text x="399.5" y="656.8" font-size="6.8" font-weight="bold" font-style="italic" fill="#111" text-anchor="middle" transform="rotate(-90 399.5 656.8)">Animal 1</text>
<text x="399.5" y="687.5" font-size="6.8" font-weight="bold" font-style="italic" fill="#111" text-anchor="middle" transform="rotate(-90 399.5 687.5)">Animal 2</text>
<text x="399.5" y="718.5" font-size="6.8" font-weight="bold" font-style="italic" fill="#111" text-anchor="middle" transform="rotate(-90 399.5 718.5)">Animal 3</text>
<text x="399.5" y="751.0" font-size="6.8" font-weight="bold" font-style="italic" fill="#111" text-anchor="middle" transform="rotate(-90 399.5 751.0)">Animal 4</text>
<line x1="556.2" y1="641.5" x2="556.2" y2="670.2" stroke="#111" stroke-width="1"/>
<text x="564" y="655" font-size="7" font-weight="bold" font-style="italic" fill="#111" text-anchor="middle" transform="rotate(-90 564 655)">Trials</text>
<defs><linearGradient id="cb" x1="0" y1="0" x2="0" y2="1"><stop offset="0" stop-color="#e01010"/><stop offset="0.5" stop-color="#ffffff"/><stop offset="1" stop-color="#2020e0"/></linearGradient></defs>
<rect x="557" y="683.6" width="4" height="40.3" fill="url(#cb)"/>
<text x="563.0" y="686.8" font-size="4.6" font-weight="bold" fill="#222" >High</text>
<text x="563.0" y="724.8" font-size="4.6" font-weight="bold" fill="#222" >Low</text>
<text x="563.0" y="705.0" font-size="9" textLength="20.5" lengthAdjust="spacingAndGlyphs" font-weight="bold" font-style="italic" >ΔF/ F</text>
<text x="406.0" y="778.0" font-size="8" font-weight="bold" text-anchor="middle" >0</text>
<text x="456.6" y="778.0" font-size="8" font-weight="bold" text-anchor="middle" >1.7</text>
<text x="532.5" y="778.0" font-size="8" font-weight="bold" text-anchor="middle" >4</text>
<text x="453.2" y="786.8" font-size="9" textLength="55.4" lengthAdjust="spacingAndGlyphs" fill="#222" >Trial time-point</text>
<path d="M453,765.5 C420,765 386,767 369,781 C358,791 361,807 352,816 C346,822 340,826 333,827.4" fill="none" stroke="#777" stroke-width="1.1"/>
<path d="M329.0,828.0 L332.7,824.6 L333.9,828.8 Z" fill="#777"/>
<path d="M172.9,903.9 L173.9,905.7 L174.9,907.4 L175.9,909.2 L176.9,911.0 L177.9,912.8 L178.9,914.6 L179.9,916.3 L180.9,918.1 L181.9,919.9 L182.9,921.7 L183.9,923.5 L184.9,925.2 L185.9,923.9 L186.9,922.6 L187.9,921.2 L188.9,919.9 L189.9,918.5 L190.9,917.0 L191.9,915.5 L192.9,914.0 L193.9,912.5 L194.9,911.9 L195.9,912.9 L196.9,914.0 L198.0,915.0 L199.0,916.0 L200.0,917.0 L201.0,917.7 L202.0,918.4 L203.0,919.2 L204.0,919.9 L205.0,920.5 L206.0,921.1 L207.0,921.6 L208.0,922.1 L209.0,922.7 L210.0,923.2 L211.0,923.7 L212.0,924.3 L213.0,923.8 L214.0,923.1 L215.0,922.3 L216.0,921.5 L217.0,920.8 L218.0,920.0 L219.0,919.3 L220.0,918.1 L221.0,916.1 L222.0,914.1 L223.0,912.1 L224.0,909.4 L225.0,905.6 L226.0,899.7 L227.0,893.8 L228.0,887.9 L229.0,882.0 L230.0,876.4 L231.0,871.4 L232.0,866.4 L233.0,863.1 L234.0,860.7 L235.0,858.5 L236.0,860.5 L237.0,862.5 L238.0,870.0 L239.0,881.0 L240.0,893.1 L241.0,907.3 L242.0,921.6 L243.0,930.0 L244.0,938.4 L245.0,940.9 L246.0,942.1 L247.0,941.1 L248.1,940.0 L249.1,938.2 L250.1,936.1 L251.1,933.7 L252.1,932.2 L253.1,931.1 L254.1,930.0 L255.1,928.9 L256.1,929.0 L257.1,928.9 L258.1,928.8 L259.1,928.6 L260.1,928.6 L261.1,928.8 L262.1,929.0 L263.1,929.1 L264.1,929.3 L265.1,929.5 L266.1,929.7 L267.1,929.9 L268.1,930.3 L269.1,930.6 L270.1,931.0 L271.1,931.3 L272.1,931.7 L273.1,932.0 L274.1,932.4 L275.1,932.7 L276.1,933.0 L277.1,933.4 L278.1,933.7 L279.1,934.1 L280.1,934.4 L281.1,934.5 L282.1,934.7 L283.1,934.9 L284.1,935.1 L285.1,935.2 L286.1,935.4 L287.1,935.3 L288.1,935.0 L289.1,934.8 L290.1,934.5 L291.1,934.3 L292.1,934.0 L293.1,933.7 L294.1,933.6 L295.1,933.6 L296.1,933.5 L297.1,933.4 L298.1,933.3 L299.2,933.2 L300.2,933.2 L301.2,933.3 L302.2,933.4 L303.2,933.4 L304.2,933.5 L305.2,933.6 L306.2,933.7 L307.2,933.5 L308.2,933.2 L309.2,932.8 L310.2,932.5 L311.2,932.1 L312.2,931.4 L313.2,930.6 L314.2,929.7 L315.2,928.9 L316.2,928.0 L317.2,927.1 L318.2,926.3 L318.2,942.3 L317.2,943.2 L316.2,944.1 L315.2,944.9 L314.2,945.8 L313.2,946.6 L312.2,947.5 L311.2,948.2 L310.2,948.5 L309.2,948.9 L308.2,949.2 L307.2,949.6 L306.2,949.8 L305.2,949.7 L304.2,949.6 L303.2,949.5 L302.2,949.4 L301.2,949.3 L300.2,949.3 L299.2,949.3 L298.1,949.4 L297.1,949.5 L296.1,949.5 L295.1,949.6 L294.1,949.7 L293.1,949.8 L292.1,950.1 L291.1,950.3 L290.1,950.6 L289.1,950.8 L288.1,951.1 L287.1,951.4 L286.1,951.5 L285.1,951.3 L284.1,951.1 L283.1,951.0 L282.1,950.8 L281.1,950.6 L280.1,950.4 L279.1,950.2 L278.1,949.8 L277.1,949.5 L276.1,949.1 L275.1,948.8 L274.1,948.4 L273.1,948.1 L272.1,947.7 L271.1,947.4 L270.1,947.1 L269.1,946.7 L268.1,946.4 L267.1,946.0 L266.1,945.7 L265.1,945.6 L264.1,945.4 L263.1,945.2 L262.1,945.0 L261.1,944.9 L260.1,944.7 L259.1,944.7 L258.1,944.8 L257.1,945.0 L256.1,945.1 L255.1,945.4 L254.1,946.9 L253.1,948.3 L252.1,949.7 L251.1,951.6 L250.1,954.3 L249.1,957.4 L248.1,960.7 L247.0,963.1 L246.0,965.5 L245.0,965.6 L244.0,964.6 L243.0,957.6 L242.0,950.5 L241.0,937.7 L240.0,924.8 L239.0,914.1 L238.0,904.5 L237.0,896.9 L236.0,894.9 L235.0,893.0 L234.0,894.2 L233.0,895.3 L232.0,897.2 L231.0,900.8 L230.0,904.4 L229.0,908.4 L228.0,912.6 L227.0,916.8 L226.0,921.0 L225.0,925.2 L224.0,927.2 L223.0,928.2 L222.0,929.9 L221.0,931.5 L220.0,933.2 L219.0,934.1 L218.0,934.5 L217.0,935.0 L216.0,935.4 L215.0,935.9 L214.0,936.3 L213.0,936.8 L212.0,936.9 L211.0,938.0 L210.0,939.1 L209.0,940.2 L208.0,941.3 L207.0,942.4 L206.0,943.5 L205.0,944.6 L204.0,945.9 L203.0,947.2 L202.0,948.3 L201.0,949.5 L200.0,950.7 L199.0,952.1 L198.0,953.6 L196.9,955.1 L195.9,956.6 L194.9,958.1 L193.9,957.9 L192.9,956.9 L191.9,955.9 L190.9,954.8 L189.9,953.8 L188.9,952.9 L187.9,952.0 L186.9,951.1 L185.9,950.2 L184.9,949.3 L183.9,951.6 L182.9,953.8 L181.9,956.1 L180.9,958.3 L179.9,960.5 L178.9,962.8 L177.9,965.0 L176.9,967.3 L175.9,969.5 L174.9,971.7 L173.9,974.0 L172.9,976.2 Z" fill="#cfcfcf"/>
<path d="M172.9,918.2 L173.9,919.0 L174.9,919.7 L175.9,920.4 L176.9,921.1 L177.9,921.9 L178.9,922.6 L179.9,923.5 L180.9,924.4 L181.9,925.4 L182.9,926.3 L183.9,927.2 L184.9,928.1 L185.9,927.4 L186.9,926.7 L187.9,925.9 L188.9,925.2 L189.9,924.4 L190.9,923.5 L191.9,922.6 L192.9,921.7 L193.9,920.8 L194.9,920.4 L195.9,921.2 L196.9,922.0 L198.0,922.8 L199.0,923.6 L200.0,924.3 L201.0,924.7 L202.0,925.1 L203.0,925.6 L204.0,925.9 L205.0,926.3 L206.0,926.1 L207.0,926.0 L208.0,925.8 L209.0,925.7 L210.0,925.6 L211.0,925.4 L212.0,925.3 L213.0,925.1 L214.0,924.5 L215.0,923.8 L216.0,923.1 L217.0,922.5 L218.0,921.8 L219.0,921.2 L220.0,920.1 L221.0,918.2 L222.0,916.3 L223.0,914.4 L224.0,912.2 L225.0,909.0 L226.0,903.6 L227.0,898.2 L228.0,892.8 L229.0,887.4 L230.0,882.2 L231.0,877.6 L232.0,872.9 L233.0,870.0 L234.0,868.0 L235.0,866.0 L236.0,868.0 L237.0,869.9 L238.0,877.5 L239.0,888.2 L240.0,899.9 L241.0,913.8 L242.0,927.6 L243.0,935.7 L244.0,943.8 L245.0,945.9 L246.0,946.8 L247.0,945.4 L248.1,944.1 L249.1,941.8 L250.1,939.5 L251.1,937.0 L252.1,935.4 L253.1,934.2 L254.1,933.1 L255.1,931.9 L256.1,931.9 L257.1,931.8 L258.1,931.6 L259.1,931.5 L260.1,931.5 L261.1,931.7 L262.1,931.8 L263.1,932.0 L264.1,932.2 L265.1,932.4 L266.1,932.5 L267.1,932.8 L268.1,933.2 L269.1,933.5 L270.1,933.8 L271.1,934.2 L272.1,934.5 L273.1,934.9 L274.1,935.2 L275.1,935.6 L276.1,935.9 L277.1,936.3 L278.1,936.6 L279.1,936.9 L280.1,937.2 L281.1,937.4 L282.1,937.6 L283.1,937.8 L284.1,937.9 L285.1,938.1 L286.1,938.3 L287.1,938.2 L288.1,937.9 L289.1,937.6 L290.1,937.4 L291.1,937.1 L292.1,936.9 L293.1,936.6 L294.1,936.5 L295.1,936.4 L296.1,936.3 L297.1,936.3 L298.1,936.2 L299.2,936.1 L300.2,936.1 L301.2,936.1 L302.2,936.2 L303.2,936.3 L304.2,936.4 L305.2,936.5 L306.2,936.6 L307.2,936.4 L308.2,936.0 L309.2,935.7 L310.2,935.3 L311.2,935.0 L312.2,934.3 L313.2,933.4 L314.2,932.6 L315.2,931.7 L316.2,930.9 L317.2,930.0 L318.2,929.1 L318.2,939.5 L317.2,940.3 L316.2,941.2 L315.2,942.1 L314.2,942.9 L313.2,943.8 L312.2,944.6 L311.2,945.3 L310.2,945.7 L309.2,946.0 L308.2,946.4 L307.2,946.7 L306.2,946.9 L305.2,946.8 L304.2,946.7 L303.2,946.6 L302.2,946.6 L301.2,946.5 L300.2,946.4 L299.2,946.4 L298.1,946.5 L297.1,946.6 L296.1,946.7 L295.1,946.8 L294.1,946.8 L293.1,946.9 L292.1,947.2 L291.1,947.5 L290.1,947.7 L289.1,948.0 L288.1,948.2 L287.1,948.5 L286.1,948.6 L285.1,948.4 L284.1,948.3 L283.1,948.1 L282.1,947.9 L281.1,947.7 L280.1,947.6 L279.1,947.3 L278.1,946.9 L277.1,946.6 L276.1,946.2 L275.1,945.9 L274.1,945.6 L273.1,945.2 L272.1,944.9 L271.1,944.5 L270.1,944.2 L269.1,943.8 L268.1,943.5 L267.1,943.1 L266.1,942.9 L265.1,942.7 L264.1,942.5 L263.1,942.3 L262.1,942.2 L261.1,942.0 L260.1,941.8 L259.1,941.9 L258.1,942.0 L257.1,942.1 L256.1,942.2 L255.1,942.5 L254.1,943.8 L253.1,945.1 L252.1,946.5 L251.1,948.3 L250.1,950.9 L249.1,953.8 L248.1,956.7 L247.0,958.8 L246.0,960.8 L245.0,960.6 L244.0,959.2 L243.0,951.8 L242.0,944.4 L241.0,931.2 L240.0,918.0 L239.0,907.0 L238.0,897.0 L237.0,889.5 L236.0,887.5 L235.0,885.5 L234.0,887.0 L233.0,888.4 L232.0,890.6 L231.0,894.6 L230.0,898.5 L229.0,903.0 L228.0,907.7 L227.0,912.4 L226.0,917.1 L225.0,921.8 L224.0,924.4 L223.0,925.9 L222.0,927.7 L221.0,929.4 L220.0,931.2 L219.0,932.2 L218.0,932.7 L217.0,933.3 L216.0,933.8 L215.0,934.4 L214.0,934.9 L213.0,935.5 L212.0,935.9 L211.0,936.3 L210.0,936.7 L209.0,937.2 L208.0,937.6 L207.0,938.0 L206.0,938.5 L205.0,938.9 L204.0,939.8 L203.0,940.8 L202.0,941.6 L201.0,942.5 L200.0,943.4 L199.0,944.5 L198.0,945.8 L196.9,947.1 L195.9,948.3 L194.9,949.6 L193.9,949.7 L192.9,949.2 L191.9,948.8 L190.9,948.3 L189.9,947.9 L188.9,947.5 L187.9,947.3 L186.9,947.0 L185.9,946.7 L184.9,946.5 L183.9,947.9 L182.9,949.2 L181.9,950.6 L180.9,952.0 L179.9,953.4 L178.9,954.7 L177.9,955.9 L176.9,957.1 L175.9,958.3 L174.9,959.5 L173.9,960.7 L172.9,961.9 Z" fill="#7c7c7c"/>
<path d="M165.9,826.5 V979.3 H327" fill="none" stroke="#8a8a8a" stroke-width="1.4"/>
<path d="M359.8,826.5 V980 H524" fill="none" stroke="#333" stroke-width="1.3"/>
<line x1="164" y1="852.8" x2="166" y2="852.8" stroke="#444" stroke-width="0.8"/>
<text x="164.2" y="855.7" font-size="6.8" fill="#555" text-anchor="end" >1.5</text>
<line x1="164" y1="892.3" x2="166" y2="892.3" stroke="#444" stroke-width="0.8"/>
<text x="164.2" y="895.2" font-size="8.2" fill="#ee2228" text-anchor="end" >0.82</text>
<line x1="164" y1="938.9" x2="166" y2="938.9" stroke="#444" stroke-width="0.8"/>
<text x="164.2" y="941.8" font-size="6.8" fill="#555" text-anchor="end" >0</text>
<line x1="357.8" y1="852.8" x2="359.8" y2="852.8" stroke="#444" stroke-width="0.8"/>
<text x="358.0" y="855.7" font-size="6.8" fill="#555" text-anchor="end" >1.5</text>
<line x1="357.8" y1="884.4" x2="359.8" y2="884.4" stroke="#444" stroke-width="0.8"/>
<text x="358.0" y="887.3" font-size="8.2" fill="#2eaa60" text-anchor="end" >0.95</text>
<line x1="357.8" y1="938.9" x2="359.8" y2="938.9" stroke="#444" stroke-width="0.8"/>
<text x="358.0" y="941.8" font-size="6.8" fill="#555" text-anchor="end" >0.0</text>
<line x1="172.9" y1="979.3" x2="172.9" y2="981.3" stroke="#444" stroke-width="0.8"/>
<text x="172.9" y="988.0" font-size="6.5" fill="#555" text-anchor="middle" >0</text>
<line x1="229.7" y1="979.3" x2="229.7" y2="981.3" stroke="#444" stroke-width="0.8"/>
<text x="229.7" y="988.0" font-size="7.8" fill="#ee2228" text-anchor="middle" >1.7</text>
<line x1="306.5" y1="979.3" x2="306.5" y2="981.3" stroke="#444" stroke-width="0.8"/>
<text x="306.5" y="988.0" font-size="6.5" fill="#555" text-anchor="middle" >4</text>
<line x1="366.8" y1="980" x2="366.8" y2="982" stroke="#444" stroke-width="0.8"/>
<text x="366.8" y="988.0" font-size="6.5" fill="#555" text-anchor="middle" >0</text>
<line x1="423.4" y1="980" x2="423.4" y2="982" stroke="#444" stroke-width="0.8"/>
<text x="423.4" y="988.0" font-size="7.8" fill="#2eaa60" text-anchor="middle" >1.7</text>
<line x1="500.0" y1="980" x2="500.0" y2="982" stroke="#444" stroke-width="0.8"/>
<text x="500.0" y="988.0" font-size="6.5" fill="#555" text-anchor="middle" >4</text>
<text x="215.7" y="997.3" font-size="7.8" textLength="55.0" lengthAdjust="spacingAndGlyphs" fill="#333" >Trial Time–point (s)</text>
<text x="409.6" y="997.3" font-size="7.8" textLength="53.6" lengthAdjust="spacingAndGlyphs" fill="#333" >Trial Time–point (s)</text>
<line x1="166" y1="938.9" x2="327" y2="938.9" stroke="#999" stroke-width="1" stroke-dasharray="3,2.5"/>
<line x1="360" y1="938.9" x2="529" y2="938.9" stroke="#f4a4a4" stroke-width="1" stroke-dasharray="3,2.5"/>
<polyline points="172.9,939.9 173.6,939.8 174.2,939.7 174.9,939.6 175.6,939.4 176.2,939.3 176.9,939.1 177.6,939.0 178.2,938.8 178.9,938.7 179.6,938.5 180.2,938.4 180.9,938.2 181.6,938.1 182.3,937.9 182.9,937.8 183.6,937.6 184.3,937.4 184.9,937.3 185.6,937.1 186.3,937.0 186.9,936.8 187.6,936.7 188.3,936.5 188.9,936.4 189.6,936.2 190.3,936.1 190.9,935.9 191.6,935.8 192.3,935.6 192.9,935.5 193.6,935.3 194.3,935.1 194.9,935.0 195.6,934.8 196.3,934.7 196.9,934.5 197.6,934.4 198.3,934.2 199.0,934.1 199.6,933.9 200.3,933.8 201.0,933.6 201.6,933.5 202.3,933.3 203.0,933.1 203.6,933.0 204.3,932.8 205.0,932.6 205.6,932.4 206.3,932.2 207.0,932.0 207.6,931.8 208.3,931.6 209.0,931.4 209.6,931.2 210.3,931.1 211.0,930.9 211.6,930.7 212.3,930.4 213.0,930.2 213.6,929.8 214.3,929.5 215.0,929.1 215.7,928.7 216.3,928.3 217.0,927.9 217.7,927.5 218.3,927.1 219.0,926.5 219.7,925.8 220.3,924.9 221.0,923.8 221.7,922.6 222.3,921.4 223.0,920.1 223.7,918.7 224.3,916.8 225.0,914.5 225.7,911.8 226.3,908.7 227.0,905.3 227.7,901.9 228.3,898.6 229.0,895.3 229.7,892.1 230.3,889.1 231.0,886.1 231.7,883.6 232.4,881.4 233.0,879.5 233.7,878.1 234.4,877.4 235.0,877.2 235.7,877.6 236.4,878.9 237.0,881.9 237.7,886.0 238.4,891.2 239.0,898.0 239.7,905.7 240.4,913.9 241.0,922.1 241.7,930.0 242.4,937.1 243.0,943.0 243.7,947.3 244.4,950.5 245.0,952.4 245.7,953.0 246.4,952.8 247.0,952.0 247.7,950.7 248.4,949.3 249.1,947.7 249.7,946.1 250.4,944.4 251.1,943.0 251.7,941.7 252.4,940.6 253.1,939.7 253.7,938.8 254.4,938.2 255.1,937.6 255.7,937.2 256.4,937.0 257.1,936.9 257.7,936.9 258.4,936.8 259.1,936.7 259.7,936.7 260.4,936.8 261.1,936.8 261.7,936.9 262.4,937.1 263.1,937.2 263.7,937.3 264.4,937.4 265.1,937.5 265.8,937.7 266.4,937.8 267.1,938.0 267.8,938.2 268.4,938.4 269.1,938.7 269.8,938.9 270.4,939.1 271.1,939.4 271.8,939.6 272.4,939.8 273.1,940.0 273.8,940.3 274.4,940.5 275.1,940.7 275.8,941.0 276.4,941.2 277.1,941.4 277.8,941.7 278.4,941.9 279.1,942.1 279.8,942.3 280.4,942.4 281.1,942.6 281.8,942.7 282.5,942.8 283.1,942.9 283.8,943.0 284.5,943.1 285.1,943.3 285.8,943.3 286.5,943.3 287.1,943.3 287.8,943.1 288.5,943.0 289.1,942.8 289.8,942.6 290.5,942.5 291.1,942.3 291.8,942.1 292.5,942.0 293.1,941.8 293.8,941.7 294.5,941.7 295.1,941.6 295.8,941.5 296.5,941.5 297.1,941.4 297.8,941.4 298.5,941.3 299.2,941.3 299.8,941.3 300.5,941.3 301.2,941.3 301.8,941.4 302.5,941.4 303.2,941.5 303.8,941.5 304.5,941.6 305.2,941.7 305.8,941.7 306.5,941.6 307.2,941.5 307.8,941.3 308.5,941.1 309.2,940.9 309.8,940.6 310.5,940.4 311.2,940.0 311.8,939.6 312.5,939.2 313.2,938.6 313.8,938.0 314.5,937.5 315.2,936.9 315.9,936.3 316.5,935.7 317.2,935.5 317.9,935.2" fill="none" stroke="#ee2228" stroke-width="2.0" stroke-linejoin="round" stroke-linecap="round"/>
<path d="M166,892.3 H230" fill="none" stroke="#ee2228" stroke-width="1.3" stroke-dasharray="4,2.6"/>
<path d="M229.7,892.3 V979" fill="none" stroke="#ee2228" stroke-width="1.3" stroke-dasharray="4,2.6"/>
<circle cx="230" cy="892.3" r="3" fill="#ee2228"/>
<text x="144.5" y="903.3" font-size="12" fill="#222" text-anchor="middle" transform="rotate(-90 144.5 903.3)" dy="3.6" textLength="22.7" lengthAdjust="spacingAndGlyphs">β<tspan font-size="7.5" baseline-shift="-2.5">1</tspan>(s)</text>
<polyline points="366.8,939.9 367.5,939.8 368.1,939.7 368.8,939.6 369.5,939.4 370.1,939.3 370.8,939.1 371.5,939.0 372.1,938.8 372.8,938.7 373.5,938.5 374.1,938.4 374.8,938.2 375.5,938.1 376.1,937.9 376.8,937.8 377.5,937.6 378.1,937.4 378.8,937.3 379.5,937.1 380.1,937.0 380.8,936.8 381.5,936.7 382.1,936.5 382.8,936.4 383.4,936.2 384.1,936.1 384.8,935.9 385.4,935.8 386.1,935.6 386.8,935.5 387.4,935.3 388.1,935.1 388.8,935.0 389.4,934.8 390.1,934.7 390.8,934.5 391.4,934.4 392.1,934.2 392.8,934.1 393.4,933.9 394.1,933.8 394.8,933.6 395.4,933.5 396.1,933.3 396.8,933.1 397.4,933.0 398.1,932.8 398.8,932.6 399.4,932.4 400.1,932.2 400.8,932.0 401.4,931.8 402.1,931.6 402.8,931.4 403.4,931.2 404.1,931.1 404.8,930.9 405.4,930.7 406.1,930.4 406.8,930.2 407.4,929.8 408.1,929.5 408.8,929.1 409.4,928.7 410.1,928.3 410.8,927.9 411.4,927.5 412.1,927.1 412.8,926.5 413.4,925.8 414.1,924.9 414.8,923.8 415.4,922.6 416.1,921.4 416.8,920.1 417.4,918.7 418.1,916.8 418.7,914.5 419.4,911.8 420.1,908.7 420.7,905.3 421.4,901.9 422.1,898.6 422.7,895.3 423.4,892.1 424.1,889.1 424.7,886.1 425.4,883.6 426.1,881.4 426.7,879.5 427.4,878.1 428.1,877.4 428.7,877.2 429.4,877.6 430.1,878.9 430.7,881.9 431.4,886.0 432.1,891.2 432.7,898.0 433.4,905.7 434.1,913.9 434.7,922.1 435.4,930.0 436.1,937.1 436.7,943.0 437.4,947.3 438.1,950.5 438.7,952.4 439.4,953.0 440.1,952.8 440.7,952.0 441.4,950.7 442.1,949.3 442.7,947.7 443.4,946.1 444.1,944.4 444.7,943.0 445.4,941.7 446.1,940.6 446.7,939.7 447.4,938.8 448.1,938.2 448.7,937.6 449.4,937.2 450.1,937.0 450.7,936.9 451.4,936.9 452.0,936.8 452.7,936.7 453.4,936.7 454.0,936.8 454.7,936.8 455.4,936.9 456.0,937.1 456.7,937.2 457.4,937.3 458.0,937.4 458.7,937.5 459.4,937.7 460.0,937.8 460.7,938.0 461.4,938.2 462.0,938.4 462.7,938.7 463.4,938.9 464.0,939.1 464.7,939.4 465.4,939.6 466.0,939.8 466.7,940.0 467.4,940.3 468.0,940.5 468.7,940.7 469.4,941.0 470.0,941.2 470.7,941.4 471.4,941.7 472.0,941.9 472.7,942.1 473.4,942.3 474.0,942.4 474.7,942.6 475.4,942.7 476.0,942.8 476.7,942.9 477.4,943.0 478.0,943.1 478.7,943.3 479.4,943.3 480.0,943.3 480.7,943.3 481.4,943.1 482.0,943.0 482.7,942.8 483.4,942.6 484.0,942.5 484.7,942.3 485.3,942.1 486.0,942.0 486.7,941.8 487.3,941.7 488.0,941.7 488.7,941.6 489.3,941.5 490.0,941.5 490.7,941.4 491.3,941.4 492.0,941.3 492.7,941.3 493.3,941.3 494.0,941.3 494.7,941.3 495.3,941.4 496.0,941.4 496.7,941.5 497.3,941.5 498.0,941.6 498.7,941.7 499.3,941.7 500.0,941.6 500.7,941.5 501.3,941.3 502.0,941.1 502.7,940.9 503.3,940.6 504.0,940.4 504.7,940.0 505.3,939.6 506.0,939.2 506.7,938.6 507.3,938.0 508.0,937.5 508.7,936.9 509.3,936.3 510.0,935.7 510.7,935.5 511.3,935.2" fill="none" stroke="#ee2228" stroke-width="1.9" stroke-linejoin="round" stroke-linecap="round"/>
<polyline points="366.8,940.1 367.5,940.2 368.1,937.9 368.8,937.0 369.5,938.3 370.1,936.3 370.8,937.7 371.5,935.9 372.1,935.9 372.8,934.8 373.5,935.8 374.1,934.7 374.8,934.2 375.5,935.6 376.1,933.3 376.8,934.8 377.5,932.8 378.1,934.1 378.8,933.2 379.5,934.1 380.1,931.6 380.8,932.6 381.5,931.8 382.1,932.7 382.8,932.5 383.4,931.5 384.1,930.3 384.8,930.3 385.4,930.4 386.1,930.9 386.8,930.5 387.4,930.4 388.1,931.9 388.8,931.7 389.4,930.8 390.1,932.5 390.8,930.4 391.4,931.1 392.1,929.7 392.8,931.3 393.4,931.1 394.1,929.2 394.8,930.2 395.4,930.1 396.1,928.5 396.8,928.3 397.4,928.5 398.1,929.2 398.8,927.1 399.4,928.2 400.1,927.7 400.8,927.1 401.4,927.2 402.1,927.8 402.8,925.9 403.4,927.5 404.1,925.9 404.8,926.8 405.4,926.8 406.1,924.9 406.8,926.5 407.4,926.6 408.1,924.6 408.8,923.7 409.4,923.7 410.1,925.6 410.8,922.6 411.4,924.5 412.1,921.9 412.8,922.9 413.4,921.7 414.1,921.1 414.8,920.5 415.4,920.0 416.1,919.0 416.8,917.8 417.4,916.2 418.1,914.2 418.7,911.9 419.4,909.2 420.1,906.0 420.7,902.3 421.4,898.1 422.1,893.6 422.7,888.0 423.4,881.5 424.1,874.1 424.7,865.7 425.4,857.0 426.1,848.8 426.7,841.2 427.4,834.1 428.1,828.7 428.7,824.1 429.4,820.6 430.1,818.5 430.7,818.6 431.4,819.8 432.1,822.2 432.7,827.6 433.4,835.4 434.1,845.1 434.7,857.8 435.4,873.5 436.1,890.3 436.7,906.2 437.4,921.1 438.1,933.9 438.7,943.5 439.4,949.7 440.1,954.4 440.7,957.2 441.4,958.0 442.1,958.0 442.7,957.3 443.4,956.1 444.1,955.0 444.7,953.8 445.4,952.7 446.1,951.5 446.7,950.4 447.4,949.3 448.1,948.3 448.7,946.4 449.4,945.9 450.1,946.6 450.7,944.6 451.4,944.7 452.0,945.7 452.7,944.7 453.4,944.7 454.0,944.7 454.7,942.0 455.4,942.5 456.0,943.9 456.7,943.8 457.4,942.5 458.0,944.2 458.7,944.1 459.4,945.2 460.0,945.0 460.7,945.3 461.4,948.5 462.0,947.3 462.7,949.4 463.4,948.0 464.0,949.4 464.7,949.0 465.4,950.0 466.0,949.6 466.7,951.1 467.4,949.8 468.0,951.4 468.7,950.9 469.4,950.0 470.0,950.7 470.7,951.2 471.4,952.3 472.0,951.0 472.7,950.7 473.4,952.8 474.0,952.6 474.7,952.4 475.4,951.3 476.0,951.1 476.7,951.5 477.4,951.1 478.0,951.1 478.7,952.5 479.4,952.3 480.0,952.7 480.7,952.2 481.4,951.2 482.0,952.8 482.7,952.6 483.4,952.2 484.0,952.1 484.7,952.4 485.3,953.0 486.0,952.7 486.7,952.2 487.3,951.4 488.0,951.3 488.7,951.7 489.3,953.2 490.0,951.8 490.7,951.9 491.3,952.1 492.0,951.5 492.7,953.7 493.3,950.9 494.0,952.1 494.7,952.4 495.3,950.0 496.0,950.2 496.7,948.9 497.3,947.9 498.0,947.3 498.7,946.6 499.3,948.1 500.0,947.7 500.7,947.8 501.3,945.3 502.0,946.8 502.7,945.3 503.3,945.5 504.0,944.4 504.7,942.7 505.3,943.1 506.0,939.3 506.7,939.9 507.3,938.9 508.0,936.9 508.7,936.0 509.3,936.0 510.0,933.1 510.7,933.7 511.3,933.5" fill="none" stroke="#20a050" stroke-width="1.9" stroke-linejoin="round" stroke-linecap="round"/>
<path d="M360,884.4 H424" fill="none" stroke="#2eaa60" stroke-width="1.3" stroke-dasharray="4,2.6"/>
<path d="M424.4,884.4 V980" fill="none" stroke="#2eaa60" stroke-width="1.3" stroke-dasharray="4,2.6"/>
<circle cx="424.4" cy="884.4" r="2.6" fill="#2eaa60"/>
<text x="444.3" y="933.6" font-size="9" textLength="17.8" lengthAdjust="spacingAndGlyphs" fill="#555" font-family="Liberation Serif" >β<tspan baseline-shift="-2" font-size="6">1</tspan>(s)</text>
<text x="442.9" y="960.4" font-size="9" textLength="47.1" lengthAdjust="spacingAndGlyphs" fill="#2eaa60" font-family="Liberation Serif" >β<tspan baseline-shift="-2" font-size="6">1</tspan>(s) + γ<tspan baseline-shift="-2" font-size="6">2,1</tspan>(s)</text>
<text x="169.6" y="807.7" font-size="9" textLength="158.2" lengthAdjust="spacingAndGlyphs" font-weight="bold" fill="#ee2228" >Latency–DA Association Fixed-Effect: <tspan font-family="Liberation Serif" font-style="italic">β</tspan><tspan baseline-shift="-2" font-size="6.5">1</tspan> (s)</text>
<text x="370.5" y="807.3" font-size="9" textLength="150.9" lengthAdjust="spacingAndGlyphs" font-weight="bold" fill="#2eaa60" >Latency–DA Random-Effect for Animal 2</text>
<rect x="260.3" y="814.1" width="69.80000000000001" height="76.29999999999995" fill="#fff"/>
<path d="M260.3,814.1 V890.4 H330.1" fill="none" stroke="#333" stroke-width="0.9"/>
<line x1="258.5" y1="818.9" x2="260.3" y2="818.9" stroke="#444" stroke-width="0.7"/>
<line x1="258.5" y1="844.9" x2="260.3" y2="844.9" stroke="#444" stroke-width="0.7"/>
<line x1="258.5" y1="871.4" x2="260.3" y2="871.4" stroke="#444" stroke-width="0.7"/>
<line x1="278.6" y1="890.4" x2="278.6" y2="892.1999999999999" stroke="#444" stroke-width="0.7"/>
<line x1="299.7" y1="890.4" x2="299.7" y2="892.1999999999999" stroke="#444" stroke-width="0.7"/>
<line x1="320.8" y1="890.4" x2="320.8" y2="892.1999999999999" stroke="#444" stroke-width="0.7"/>
<rect x="460.3" y="813.2" width="64.09999999999997" height="77.19999999999993" fill="#fff"/>
<path d="M460.3,813.2 V890.4 H524.4" fill="none" stroke="#333" stroke-width="0.9"/>
<line x1="458.5" y1="821.4" x2="460.3" y2="821.4" stroke="#444" stroke-width="0.7"/>
<line x1="458.5" y1="846" x2="460.3" y2="846" stroke="#444" stroke-width="0.7"/>
<line x1="458.5" y1="871.7" x2="460.3" y2="871.7" stroke="#444" stroke-width="0.7"/>
<line x1="477" y1="890.4" x2="477" y2="892.1999999999999" stroke="#444" stroke-width="0.7"/>
<line x1="496.5" y1="890.4" x2="496.5" y2="892.1999999999999" stroke="#444" stroke-width="0.7"/>
<line x1="515.5" y1="890.4" x2="515.5" y2="892.1999999999999" stroke="#444" stroke-width="0.7"/>
<circle cx="263.5" cy="876" r="0.9" fill="#aaa"/>
<circle cx="264.5" cy="885" r="0.9" fill="#aaa"/>
<circle cx="266" cy="878" r="0.9" fill="#aaa"/>
<circle cx="265" cy="887" r="0.9" fill="#aaa"/>
<circle cx="268" cy="880" r="0.9" fill="#aaa"/>
<circle cx="270" cy="883" r="0.9" fill="#aaa"/>
<circle cx="272" cy="878" r="0.9" fill="#aaa"/>
<circle cx="273" cy="876" r="0.9" fill="#aaa"/>
<circle cx="275" cy="880" r="0.9" fill="#aaa"/>
<circle cx="278.5" cy="876" r="0.9" fill="#aaa"/>
<circle cx="283.7" cy="875.5" r="0.9" fill="#aaa"/>
<circle cx="284" cy="866" r="0.9" fill="#aaa"/>
<circle cx="286" cy="864" r="0.9" fill="#aaa"/>
<circle cx="289" cy="862" r="0.9" fill="#aaa"/>
<circle cx="294" cy="858" r="0.9" fill="#aaa"/>
<circle cx="300" cy="857" r="0.9" fill="#aaa"/>
<circle cx="302" cy="858" r="0.9" fill="#aaa"/>
<circle cx="313" cy="849" r="0.9" fill="#aaa"/>
<circle cx="319" cy="844" r="0.9" fill="#aaa"/>
<circle cx="327.5" cy="817.2" r="0.9" fill="#aaa"/>
<circle cx="267" cy="874" r="0.9" fill="#aaa"/>
<circle cx="270" cy="873" r="0.9" fill="#aaa"/>
<circle cx="463" cy="880" r="0.9" fill="#aaa"/>
<circle cx="464" cy="885" r="0.9" fill="#aaa"/>
<circle cx="466" cy="876" r="0.9" fill="#aaa"/>
<circle cx="467" cy="878" r="0.9" fill="#aaa"/>
<circle cx="468" cy="884" r="0.9" fill="#aaa"/>
<circle cx="470" cy="882" r="0.9" fill="#aaa"/>
<circle cx="472" cy="878" r="0.9" fill="#aaa"/>
<circle cx="474" cy="874" r="0.9" fill="#aaa"/>
<circle cx="476" cy="877" r="0.9" fill="#aaa"/>
<circle cx="478" cy="876" r="0.9" fill="#aaa"/>
<circle cx="482" cy="876" r="0.9" fill="#aaa"/>
<circle cx="484" cy="866" r="0.9" fill="#aaa"/>
<circle cx="486" cy="866" r="0.9" fill="#aaa"/>
<circle cx="489" cy="860" r="0.9" fill="#aaa"/>
<circle cx="496" cy="858" r="0.9" fill="#aaa"/>
<circle cx="500" cy="858" r="0.9" fill="#aaa"/>
<line x1="263.5" y1="882.2" x2="327.7" y2="831.6" stroke="#ee2228" stroke-width="2.2"/>
<text x="0" y="0" font-size="7.2" font-weight="bold" fill="#ee2228" textLength="69" lengthAdjust="spacingAndGlyphs" transform="translate(270.5,872.5) rotate(-39.5)">Slope: <tspan font-family="Liberation Serif" font-style="italic">β</tspan><tspan font-size="5" dy="1.5">1</tspan><tspan dy="-1.5">(1.7) = 0.82</tspan></text>
<line x1="460.3" y1="885" x2="524.4" y2="831.1" stroke="#ee2228" stroke-width="2.0"/>
<line x1="463.5" y1="886" x2="521.2" y2="819.7" stroke="#20a050" stroke-width="1.7"/>
<circle cx="466" cy="882.5" r="1.1" fill="#20a050"/>
<circle cx="477" cy="870" r="1.1" fill="#20a050"/>
<circle cx="488.5" cy="856.5" r="1.1" fill="#20a050"/>
<circle cx="496" cy="848" r="1.1" fill="#20a050"/>
<circle cx="508" cy="834" r="1.1" fill="#20a050"/>
<circle cx="520.5" cy="820.5" r="1.1" fill="#20a050"/>
<text x="0" y="0" font-size="6.8" font-weight="bold" fill="#20a050" textLength="45.9" lengthAdjust="spacingAndGlyphs" transform="translate(468.5,856) rotate(-45)">Animal 2 Slope:</text>
<text x="0" y="0" font-size="6.8" fill="#20a050" textLength="65" lengthAdjust="spacingAndGlyphs" transform="translate(467,870.5) rotate(-44)" font-family="Liberation Serif">β<tspan font-size="4.5" dy="1.5">1</tspan><tspan dy="-1.5">(1.7) + γ</tspan><tspan font-size="4.5" dy="1.5">2,1</tspan><tspan dy="-1.5">(1.7) = 0.95</tspan></text>
<text x="0" y="0" font-size="6.8" fill="#ee2228" textLength="21.7" lengthAdjust="spacingAndGlyphs" transform="translate(506,859) rotate(-48)" font-family="Liberation Serif">β<tspan font-size="4.5" dy="1.5">1</tspan><tspan dy="-1.5">(1.7)</tspan></text>
<text x="253.8" y="853.5" font-size="6.6" font-weight="bold" fill="#111" text-anchor="middle" textLength="64" lengthAdjust="spacingAndGlyphs" transform="rotate(-90 253.8 853.5)" dy="2.3">Y(1.7):  ΔF/F at 1.7sec</text>
<text x="453.8" y="852" font-size="6.6" font-weight="bold" fill="#111" text-anchor="middle" textLength="64" lengthAdjust="spacingAndGlyphs" transform="rotate(-90 453.8 852)" dy="2.3">Y(1.7):  ΔF/F at 1.7sec</text>
<text x="283.8" y="898.5" font-size="7" textLength="22.8" lengthAdjust="spacingAndGlyphs" font-weight="bold" >Latency</text>
<text x="480.6" y="898.5" font-size="7" textLength="22.8" lengthAdjust="spacingAndGlyphs" font-weight="bold" >Latency</text>
</svg>
</body></html>
